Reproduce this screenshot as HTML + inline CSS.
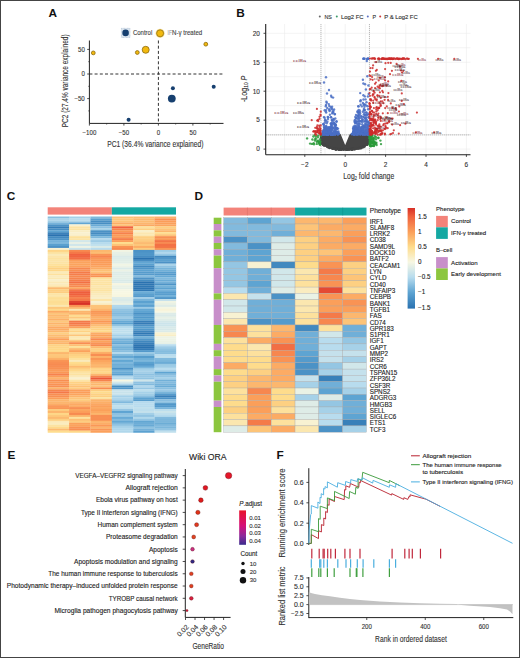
<!DOCTYPE html><html><head><meta charset="utf-8"><style>html,body{margin:0;padding:0;background:#fff;}svg{display:block;}text{font-family:"Liberation Sans",sans-serif;}</style></head><body><svg width="520" height="658" viewBox="0 0 520 658" font-family="Liberation Sans, sans-serif">
<rect x="0" y="0" width="520" height="658" fill="#fff"/>
<text x="48.60" y="16.50" font-size="11.8" fill="#111" stroke="#111" stroke-width="0" font-weight="bold" >A</text>
<text x="236.30" y="16.50" font-size="11.8" fill="#111" stroke="#111" stroke-width="0" font-weight="bold" >B</text>
<text x="6.80" y="200.00" font-size="11.8" fill="#111" stroke="#111" stroke-width="0" font-weight="bold" >C</text>
<text x="194.40" y="199.60" font-size="11.8" fill="#111" stroke="#111" stroke-width="0" font-weight="bold" >D</text>
<text x="7.40" y="458.60" font-size="11.8" fill="#111" stroke="#111" stroke-width="0" font-weight="bold" >E</text>
<text x="276.60" y="458.80" font-size="11.8" fill="#111" stroke="#111" stroke-width="0" font-weight="bold" >F</text>
<line x1="89.4" y1="40.5" x2="89.4" y2="123.4" stroke="#222" stroke-width="1"/>
<line x1="89.4" y1="123.4" x2="223.5" y2="123.4" stroke="#222" stroke-width="1"/>
<line x1="89.4" y1="74" x2="223" y2="74" stroke="#333" stroke-width="1" stroke-dasharray="3,2.2"/>
<line x1="158.4" y1="40.5" x2="158.4" y2="123.4" stroke="#333" stroke-width="1" stroke-dasharray="3,2.2"/>
<line x1="87.2" y1="49.40" x2="89.4" y2="49.40" stroke="#222" stroke-width="0.8"/>
<text x="84.80" y="51.70" font-size="6.6" fill="#333" stroke="#333" stroke-width="0.12" text-anchor="end" textLength="6.83" lengthAdjust="spacingAndGlyphs" >50</text>
<line x1="87.2" y1="74.00" x2="89.4" y2="74.00" stroke="#222" stroke-width="0.8"/>
<text x="84.80" y="76.30" font-size="6.6" fill="#333" stroke="#333" stroke-width="0.12" text-anchor="end" textLength="3.41" lengthAdjust="spacingAndGlyphs" >0</text>
<line x1="87.2" y1="98.60" x2="89.4" y2="98.60" stroke="#222" stroke-width="0.8"/>
<text x="84.80" y="100.90" font-size="6.6" fill="#333" stroke="#333" stroke-width="0.12" text-anchor="end" textLength="10.41" lengthAdjust="spacingAndGlyphs" >−50</text>
<line x1="88.2" y1="61.70" x2="89.4" y2="61.70" stroke="#222" stroke-width="0.6"/>
<line x1="88.2" y1="86.30" x2="89.4" y2="86.30" stroke="#222" stroke-width="0.6"/>
<line x1="88.2" y1="110.90" x2="89.4" y2="110.90" stroke="#222" stroke-width="0.6"/>
<line x1="89.40" y1="123.4" x2="89.40" y2="125.60000000000001" stroke="#222" stroke-width="0.8"/>
<text x="89.40" y="135.00" font-size="6.6" fill="#333" stroke="#333" stroke-width="0.12" text-anchor="middle" textLength="13.82" lengthAdjust="spacingAndGlyphs" >−100</text>
<line x1="123.90" y1="123.4" x2="123.90" y2="125.60000000000001" stroke="#222" stroke-width="0.8"/>
<text x="123.90" y="135.00" font-size="6.6" fill="#333" stroke="#333" stroke-width="0.12" text-anchor="middle" textLength="10.41" lengthAdjust="spacingAndGlyphs" >−50</text>
<line x1="158.40" y1="123.4" x2="158.40" y2="125.60000000000001" stroke="#222" stroke-width="0.8"/>
<text x="158.40" y="135.00" font-size="6.6" fill="#333" stroke="#333" stroke-width="0.12" text-anchor="middle" textLength="3.41" lengthAdjust="spacingAndGlyphs" >0</text>
<line x1="192.90" y1="123.4" x2="192.90" y2="125.60000000000001" stroke="#222" stroke-width="0.8"/>
<text x="192.90" y="135.00" font-size="6.6" fill="#333" stroke="#333" stroke-width="0.12" text-anchor="middle" textLength="6.83" lengthAdjust="spacingAndGlyphs" >50</text>
<line x1="106.65" y1="123.4" x2="106.65" y2="124.60000000000001" stroke="#222" stroke-width="0.6"/>
<line x1="141.15" y1="123.4" x2="141.15" y2="124.60000000000001" stroke="#222" stroke-width="0.6"/>
<line x1="175.65" y1="123.4" x2="175.65" y2="124.60000000000001" stroke="#222" stroke-width="0.6"/>
<line x1="210.15" y1="123.4" x2="210.15" y2="124.60000000000001" stroke="#222" stroke-width="0.6"/>
<text x="107.20" y="146.90" font-size="8.7" fill="#333" stroke="#333" stroke-width="0.12" textLength="96.20" lengthAdjust="spacingAndGlyphs" >PC1 (36.4% variance explained)</text>
<text x="0" y="0" font-size="8.7" fill="#333" stroke="#333" stroke-width="0.12" textLength="92.8" lengthAdjust="spacingAndGlyphs" transform="translate(67.5,127.2) rotate(-90)">PC2 (27.4% variance explained)</text>
<circle cx="93.3" cy="52.9" r="1.9" fill="#f2b90f" stroke="#8a6a10" stroke-width="0.8"/>
<circle cx="137.3" cy="52.5" r="1.9" fill="#f2b90f" stroke="#8a6a10" stroke-width="0.8"/>
<circle cx="145.7" cy="49.8" r="3.5" fill="#f2b90f" stroke="#8a6a10" stroke-width="0.8"/>
<circle cx="205.8" cy="44.2" r="1.9" fill="#f2b90f" stroke="#8a6a10" stroke-width="0.8"/>
<circle cx="172.9" cy="88.2" r="2.0" fill="#163f6f"/>
<circle cx="171.8" cy="98.6" r="3.9" fill="#163f6f"/>
<circle cx="213.7" cy="86.8" r="2.0" fill="#163f6f"/>
<circle cx="128.6" cy="119.7" r="2.0" fill="#163f6f"/>
<rect x="121.4" y="28.3" width="8.6" height="9.2" fill="#dce6f0" stroke="#8fa6c0" stroke-width="0.5" stroke-dasharray="0.8,0.6"/>
<circle cx="125.6" cy="32.9" r="3.3" fill="#163f6f"/>
<text x="132.90" y="35.20" font-size="6.9" fill="#444" stroke="#444" stroke-width="0.12" textLength="19.40" lengthAdjust="spacingAndGlyphs" >Control</text>
<circle cx="160.1" cy="33.3" r="4.6" fill="#f7e2a0"/>
<circle cx="160.1" cy="33.3" r="3.5" fill="#f2b90f" stroke="#9a7812" stroke-width="0.9"/>
<text x="167.50" y="35.20" font-size="6.9" fill="#a0a0a0" stroke="#a0a0a0" stroke-width="0.12" textLength="4.40" lengthAdjust="spacingAndGlyphs" >IF</text>
<text x="172.00" y="35.20" font-size="6.9" fill="#444" stroke="#444" stroke-width="0.12" textLength="30.20" lengthAdjust="spacingAndGlyphs" >N-γ treated</text>
<g stroke="#ebebeb" stroke-width="0.6">
<line x1="284.60" y1="24.0" x2="284.60" y2="154.7"/>
<line x1="304.80" y1="24.0" x2="304.80" y2="154.7"/>
<line x1="325.00" y1="24.0" x2="325.00" y2="154.7"/>
<line x1="345.20" y1="24.0" x2="345.20" y2="154.7"/>
<line x1="365.40" y1="24.0" x2="365.40" y2="154.7"/>
<line x1="385.60" y1="24.0" x2="385.60" y2="154.7"/>
<line x1="405.80" y1="24.0" x2="405.80" y2="154.7"/>
<line x1="426.00" y1="24.0" x2="426.00" y2="154.7"/>
<line x1="446.20" y1="24.0" x2="446.20" y2="154.7"/>
<line x1="466.40" y1="24.0" x2="466.40" y2="154.7"/>
<line x1="265.7" y1="149.10" x2="470.5" y2="149.10"/>
<line x1="265.7" y1="134.62" x2="470.5" y2="134.62"/>
<line x1="265.7" y1="120.15" x2="470.5" y2="120.15"/>
<line x1="265.7" y1="105.67" x2="470.5" y2="105.67"/>
<line x1="265.7" y1="91.20" x2="470.5" y2="91.20"/>
<line x1="265.7" y1="76.72" x2="470.5" y2="76.72"/>
<line x1="265.7" y1="62.25" x2="470.5" y2="62.25"/>
<line x1="265.7" y1="47.77" x2="470.5" y2="47.77"/>
<line x1="265.7" y1="33.30" x2="470.5" y2="33.30"/>
</g>
<line x1="320.96" y1="24.0" x2="320.96" y2="154.7" stroke="#888" stroke-width="0.6" stroke-dasharray="1.2,0.8"/>
<line x1="369.44" y1="24.0" x2="369.44" y2="154.7" stroke="#888" stroke-width="0.6" stroke-dasharray="1.2,0.8"/>
<line x1="265.7" y1="134.91" x2="470.5" y2="134.91" stroke="#888" stroke-width="0.6" stroke-dasharray="1.2,0.8"/>
<path d="M321.0,134.9 L321.4,134.9 L321.9,134.9 L322.4,134.9 L322.8,134.9 L323.3,134.9 L323.8,134.9 L324.2,134.9 L324.7,134.9 L325.2,134.9 L325.7,134.9 L326.1,134.9 L326.6,134.9 L327.1,134.9 L327.5,134.9 L328.0,134.9 L328.5,134.9 L328.9,134.9 L329.4,134.9 L329.9,134.9 L330.4,134.9 L330.8,134.9 L331.3,134.9 L331.8,134.9 L332.2,134.9 L332.7,134.9 L333.2,134.9 L333.6,134.9 L334.1,134.9 L334.6,134.9 L335.0,134.9 L335.5,134.9 L336.0,134.9 L336.5,134.9 L336.9,134.9 L337.4,134.9 L337.9,134.9 L338.3,134.9 L338.8,134.9 L339.3,134.9 L339.7,134.9 L345.2,148.2 L350.7,134.9 L351.1,134.9 L351.6,134.9 L352.1,134.9 L352.5,134.9 L353.0,134.9 L353.5,134.9 L353.9,134.9 L354.4,134.9 L354.9,134.9 L355.4,134.9 L355.8,134.9 L356.3,134.9 L356.8,134.9 L357.2,134.9 L357.7,134.9 L358.2,134.9 L358.6,134.9 L359.1,134.9 L359.6,134.9 L360.0,134.9 L360.5,134.9 L361.0,134.9 L361.5,134.9 L361.9,134.9 L362.4,134.9 L362.9,134.9 L363.3,134.9 L363.8,134.9 L364.3,134.9 L364.7,134.9 L365.2,134.9 L365.7,134.9 L366.2,134.9 L366.6,134.9 L367.1,134.9 L367.6,134.9 L368.0,134.9 L368.5,134.9 L369.0,134.9 L369.4,134.9 L369.4,142.3 L368.2,143.3 L367.0,144.2 L365.8,144.9 L364.6,145.6 L363.4,146.2 L362.2,146.8 L361.0,147.2 L359.7,147.6 L358.5,148.0 L357.3,148.3 L356.1,148.5 L354.9,148.7 L353.7,148.8 L352.5,148.9 L351.3,149.0 L350.0,149.0 L348.8,149.1 L347.6,149.1 L346.4,149.1 L345.2,149.1 L344.0,149.1 L342.8,149.1 L341.6,149.1 L340.4,149.0 L339.1,149.0 L337.9,148.9 L336.7,148.8 L335.5,148.7 L334.3,148.5 L333.1,148.3 L331.9,148.0 L330.7,147.6 L329.4,147.2 L328.2,146.8 L327.0,146.2 L325.8,145.6 L324.6,144.9 L323.4,144.2 L322.2,143.3 L321.0,142.3 Z" fill="#454545" stroke="#454545" stroke-width="2.4" stroke-linejoin="round"/>
<g fill="#454545" fill-opacity="0.95">
<circle cx="336.7" cy="149.0" r="1.2"/>
<circle cx="352.5" cy="149.0" r="1.2"/>
<circle cx="346.9" cy="149.5" r="1.2"/>
<circle cx="323.8" cy="145.0" r="1.2"/>
<circle cx="322.8" cy="144.2" r="1.2"/>
<circle cx="324.3" cy="144.9" r="1.2"/>
<circle cx="341.5" cy="149.7" r="1.2"/>
<circle cx="327.0" cy="146.5" r="1.2"/>
<circle cx="351.4" cy="149.7" r="1.2"/>
<circle cx="348.9" cy="149.5" r="1.2"/>
<circle cx="368.3" cy="143.3" r="1.2"/>
<circle cx="362.6" cy="146.9" r="1.2"/>
<circle cx="328.0" cy="146.8" r="1.2"/>
<circle cx="335.9" cy="149.7" r="1.2"/>
<circle cx="329.7" cy="148.0" r="1.2"/>
<circle cx="351.9" cy="149.4" r="1.2"/>
<circle cx="347.5" cy="149.2" r="1.2"/>
<circle cx="323.8" cy="144.7" r="1.2"/>
<circle cx="353.9" cy="149.3" r="1.2"/>
<circle cx="336.2" cy="149.4" r="1.2"/>
<circle cx="342.9" cy="149.4" r="1.2"/>
<circle cx="359.5" cy="148.5" r="1.2"/>
<circle cx="332.8" cy="148.9" r="1.2"/>
<circle cx="346.4" cy="149.7" r="1.2"/>
<circle cx="356.3" cy="148.8" r="1.2"/>
<circle cx="368.5" cy="143.2" r="1.2"/>
<circle cx="341.2" cy="149.7" r="1.2"/>
<circle cx="328.3" cy="147.4" r="1.2"/>
<circle cx="322.9" cy="144.6" r="1.2"/>
<circle cx="358.0" cy="148.8" r="1.2"/>
<circle cx="363.4" cy="146.6" r="1.2"/>
<circle cx="354.7" cy="149.4" r="1.2"/>
<circle cx="349.1" cy="149.6" r="1.2"/>
<circle cx="361.7" cy="148.1" r="1.2"/>
<circle cx="343.9" cy="149.7" r="1.2"/>
<circle cx="323.9" cy="145.3" r="1.2"/>
<circle cx="352.3" cy="149.7" r="1.2"/>
<circle cx="360.8" cy="147.6" r="1.2"/>
<circle cx="339.7" cy="149.7" r="1.2"/>
<circle cx="322.1" cy="143.7" r="1.2"/>
<circle cx="329.1" cy="147.3" r="1.2"/>
<circle cx="323.8" cy="145.3" r="1.2"/>
<circle cx="327.2" cy="146.6" r="1.2"/>
<circle cx="339.9" cy="149.7" r="1.2"/>
<circle cx="324.9" cy="145.6" r="1.2"/>
<circle cx="347.6" cy="149.7" r="1.2"/>
<circle cx="360.7" cy="148.3" r="1.2"/>
<circle cx="334.5" cy="149.0" r="1.2"/>
<circle cx="338.4" cy="149.7" r="1.2"/>
<circle cx="367.4" cy="144.1" r="1.2"/>
<circle cx="329.5" cy="147.5" r="1.2"/>
<circle cx="332.3" cy="148.6" r="1.2"/>
<circle cx="349.5" cy="149.4" r="1.2"/>
<circle cx="321.2" cy="143.0" r="1.2"/>
<circle cx="338.9" cy="149.6" r="1.2"/>
<circle cx="367.2" cy="144.9" r="1.2"/>
<circle cx="346.0" cy="149.7" r="1.2"/>
<circle cx="353.7" cy="148.9" r="1.2"/>
<circle cx="364.6" cy="146.5" r="1.2"/>
<circle cx="363.4" cy="147.2" r="1.2"/>
</g>
<g fill="#2a9a3a" fill-opacity="0.85">
<circle cx="373.9" cy="145.4" r="1.2"/>
<circle cx="370.6" cy="136.8" r="1.2"/>
<circle cx="369.9" cy="141.4" r="1.2"/>
<circle cx="376.0" cy="137.2" r="1.2"/>
<circle cx="370.1" cy="142.4" r="1.2"/>
<circle cx="374.1" cy="142.1" r="1.2"/>
<circle cx="381.0" cy="144.1" r="1.2"/>
<circle cx="380.4" cy="140.6" r="1.2"/>
<circle cx="370.4" cy="141.3" r="1.2"/>
<circle cx="370.0" cy="138.3" r="1.2"/>
<circle cx="370.5" cy="136.1" r="1.2"/>
<circle cx="372.7" cy="142.2" r="1.2"/>
<circle cx="370.5" cy="139.5" r="1.2"/>
<circle cx="370.3" cy="136.4" r="1.2"/>
<circle cx="369.9" cy="140.6" r="1.2"/>
<circle cx="372.3" cy="143.4" r="1.2"/>
<circle cx="374.8" cy="142.0" r="1.2"/>
<circle cx="373.3" cy="139.9" r="1.2"/>
<circle cx="370.8" cy="142.0" r="1.2"/>
<circle cx="369.8" cy="144.4" r="1.2"/>
<circle cx="376.4" cy="142.8" r="1.2"/>
<circle cx="373.4" cy="145.2" r="1.2"/>
<circle cx="372.4" cy="142.3" r="1.2"/>
<circle cx="372.0" cy="143.1" r="1.2"/>
<circle cx="369.7" cy="142.9" r="1.2"/>
<circle cx="370.4" cy="145.0" r="1.2"/>
<circle cx="374.0" cy="143.2" r="1.2"/>
<circle cx="371.3" cy="136.0" r="1.2"/>
<circle cx="374.9" cy="136.3" r="1.2"/>
<circle cx="376.6" cy="145.0" r="1.2"/>
<circle cx="370.6" cy="146.2" r="1.2"/>
<circle cx="373.6" cy="138.8" r="1.2"/>
<circle cx="371.0" cy="141.7" r="1.2"/>
<circle cx="373.4" cy="138.4" r="1.2"/>
<circle cx="370.5" cy="136.7" r="1.2"/>
<circle cx="371.0" cy="139.2" r="1.2"/>
<circle cx="370.2" cy="145.2" r="1.2"/>
<circle cx="378.3" cy="138.0" r="1.2"/>
<circle cx="374.0" cy="146.0" r="1.2"/>
<circle cx="369.6" cy="144.6" r="1.2"/>
<circle cx="370.2" cy="143.0" r="1.2"/>
<circle cx="371.2" cy="146.0" r="1.2"/>
<circle cx="370.8" cy="139.1" r="1.2"/>
<circle cx="370.2" cy="136.8" r="1.2"/>
<circle cx="372.5" cy="138.2" r="1.2"/>
<circle cx="370.5" cy="141.5" r="1.2"/>
<circle cx="373.6" cy="142.5" r="1.2"/>
<circle cx="369.4" cy="136.8" r="1.2"/>
<circle cx="374.9" cy="143.2" r="1.2"/>
<circle cx="369.6" cy="136.6" r="1.2"/>
<circle cx="372.8" cy="145.9" r="1.2"/>
<circle cx="370.5" cy="145.2" r="1.2"/>
<circle cx="375.1" cy="144.1" r="1.2"/>
<circle cx="378.4" cy="137.8" r="1.2"/>
<circle cx="369.8" cy="138.5" r="1.2"/>
<circle cx="371.3" cy="137.8" r="1.2"/>
<circle cx="375.9" cy="143.2" r="1.2"/>
<circle cx="369.8" cy="135.5" r="1.2"/>
<circle cx="371.4" cy="135.7" r="1.2"/>
<circle cx="373.7" cy="137.9" r="1.2"/>
<circle cx="375.9" cy="139.2" r="1.2"/>
<circle cx="371.6" cy="145.9" r="1.2"/>
<circle cx="373.8" cy="141.5" r="1.2"/>
<circle cx="372.0" cy="135.7" r="1.2"/>
<circle cx="369.9" cy="137.7" r="1.2"/>
<circle cx="369.6" cy="138.4" r="1.2"/>
<circle cx="375.4" cy="143.5" r="1.2"/>
<circle cx="372.3" cy="135.3" r="1.2"/>
<circle cx="373.1" cy="140.2" r="1.2"/>
<circle cx="370.5" cy="145.8" r="1.2"/>
<circle cx="371.1" cy="141.7" r="1.2"/>
<circle cx="370.3" cy="142.9" r="1.2"/>
<circle cx="370.0" cy="138.3" r="1.2"/>
<circle cx="373.5" cy="143.7" r="1.2"/>
<circle cx="370.4" cy="140.5" r="1.2"/>
<circle cx="318.0" cy="135.6" r="1.2"/>
<circle cx="318.8" cy="142.0" r="1.2"/>
<circle cx="310.1" cy="143.6" r="1.2"/>
<circle cx="316.8" cy="141.7" r="1.2"/>
<circle cx="312.4" cy="139.5" r="1.2"/>
<circle cx="313.7" cy="143.3" r="1.2"/>
<circle cx="315.4" cy="139.0" r="1.2"/>
<circle cx="317.8" cy="137.3" r="1.2"/>
<circle cx="312.0" cy="143.9" r="1.2"/>
<circle cx="319.2" cy="141.4" r="1.2"/>
<circle cx="319.8" cy="144.4" r="1.2"/>
<circle cx="319.3" cy="143.0" r="1.2"/>
<circle cx="314.9" cy="140.5" r="1.2"/>
<circle cx="320.4" cy="141.8" r="1.2"/>
<circle cx="317.8" cy="141.4" r="1.2"/>
<circle cx="320.0" cy="144.3" r="1.2"/>
<circle cx="320.9" cy="135.0" r="1.2"/>
<circle cx="314.0" cy="144.2" r="1.2"/>
<circle cx="314.6" cy="135.1" r="1.2"/>
<circle cx="316.8" cy="143.9" r="1.2"/>
<circle cx="317.6" cy="140.6" r="1.2"/>
<circle cx="319.9" cy="139.5" r="1.2"/>
<circle cx="320.9" cy="135.7" r="1.2"/>
<circle cx="315.7" cy="138.7" r="1.2"/>
<circle cx="307.1" cy="138.4" r="1.2"/>
<circle cx="319.5" cy="142.6" r="1.2"/>
<circle cx="320.2" cy="144.8" r="1.2"/>
<circle cx="313.4" cy="136.5" r="1.2"/>
<circle cx="319.2" cy="143.2" r="1.2"/>
<circle cx="315.8" cy="136.5" r="1.2"/>
</g>
<g fill="#4a6fc4" fill-opacity="0.85">
<circle cx="329.1" cy="129.9" r="1.2"/>
<circle cx="323.9" cy="125.0" r="1.2"/>
<circle cx="323.1" cy="134.2" r="1.2"/>
<circle cx="325.8" cy="133.2" r="1.2"/>
<circle cx="328.2" cy="134.4" r="1.2"/>
<circle cx="323.8" cy="130.5" r="1.2"/>
<circle cx="333.1" cy="133.3" r="1.2"/>
<circle cx="326.6" cy="130.7" r="1.2"/>
<circle cx="328.6" cy="133.6" r="1.2"/>
<circle cx="330.4" cy="128.4" r="1.2"/>
<circle cx="323.5" cy="133.9" r="1.2"/>
<circle cx="328.2" cy="131.9" r="1.2"/>
<circle cx="337.0" cy="133.2" r="1.2"/>
<circle cx="331.6" cy="133.4" r="1.2"/>
<circle cx="331.8" cy="134.6" r="1.2"/>
<circle cx="331.6" cy="97.1" r="1.2"/>
<circle cx="326.7" cy="130.4" r="1.2"/>
<circle cx="325.0" cy="120.4" r="1.2"/>
<circle cx="331.7" cy="120.1" r="1.2"/>
<circle cx="328.0" cy="132.4" r="1.2"/>
<circle cx="326.1" cy="127.7" r="1.2"/>
<circle cx="328.4" cy="134.6" r="1.2"/>
<circle cx="322.5" cy="131.7" r="1.2"/>
<circle cx="326.7" cy="123.3" r="1.2"/>
<circle cx="326.0" cy="132.4" r="1.2"/>
<circle cx="325.5" cy="132.7" r="1.2"/>
<circle cx="333.3" cy="112.2" r="1.2"/>
<circle cx="337.2" cy="128.5" r="1.2"/>
<circle cx="333.8" cy="119.1" r="1.2"/>
<circle cx="323.5" cy="124.3" r="1.2"/>
<circle cx="335.6" cy="128.5" r="1.2"/>
<circle cx="325.2" cy="119.6" r="1.2"/>
<circle cx="328.0" cy="119.0" r="1.2"/>
<circle cx="329.3" cy="106.0" r="1.2"/>
<circle cx="335.1" cy="133.1" r="1.2"/>
<circle cx="324.3" cy="133.3" r="1.2"/>
<circle cx="324.6" cy="117.7" r="1.2"/>
<circle cx="328.3" cy="127.1" r="1.2"/>
<circle cx="324.4" cy="134.8" r="1.2"/>
<circle cx="331.5" cy="108.2" r="1.2"/>
<circle cx="329.9" cy="114.7" r="1.2"/>
<circle cx="337.0" cy="132.6" r="1.2"/>
<circle cx="326.5" cy="131.5" r="1.2"/>
<circle cx="326.3" cy="126.2" r="1.2"/>
<circle cx="326.7" cy="129.6" r="1.2"/>
<circle cx="328.4" cy="128.9" r="1.2"/>
<circle cx="332.6" cy="111.8" r="1.2"/>
<circle cx="329.6" cy="110.3" r="1.2"/>
<circle cx="331.1" cy="127.4" r="1.2"/>
<circle cx="331.5" cy="134.7" r="1.2"/>
<circle cx="330.0" cy="132.9" r="1.2"/>
<circle cx="325.1" cy="128.6" r="1.2"/>
<circle cx="335.2" cy="126.9" r="1.2"/>
<circle cx="327.9" cy="127.7" r="1.2"/>
<circle cx="332.1" cy="119.8" r="1.2"/>
<circle cx="323.9" cy="126.8" r="1.2"/>
<circle cx="326.5" cy="131.7" r="1.2"/>
<circle cx="336.0" cy="127.9" r="1.2"/>
<circle cx="332.2" cy="120.9" r="1.2"/>
<circle cx="333.1" cy="128.0" r="1.2"/>
<circle cx="331.3" cy="123.3" r="1.2"/>
<circle cx="330.2" cy="127.4" r="1.2"/>
<circle cx="330.7" cy="107.0" r="1.2"/>
<circle cx="334.7" cy="114.3" r="1.2"/>
<circle cx="332.1" cy="106.7" r="1.2"/>
<circle cx="337.2" cy="133.5" r="1.2"/>
<circle cx="324.2" cy="129.2" r="1.2"/>
<circle cx="323.3" cy="132.2" r="1.2"/>
<circle cx="323.3" cy="124.0" r="1.2"/>
<circle cx="324.8" cy="122.5" r="1.2"/>
<circle cx="334.0" cy="133.4" r="1.2"/>
<circle cx="326.0" cy="104.9" r="1.2"/>
<circle cx="329.2" cy="128.3" r="1.2"/>
<circle cx="324.9" cy="129.4" r="1.2"/>
<circle cx="331.3" cy="130.8" r="1.2"/>
<circle cx="325.5" cy="131.1" r="1.2"/>
<circle cx="335.1" cy="134.7" r="1.2"/>
<circle cx="332.0" cy="129.2" r="1.2"/>
<circle cx="333.3" cy="127.8" r="1.2"/>
<circle cx="323.9" cy="131.9" r="1.2"/>
<circle cx="326.9" cy="133.5" r="1.2"/>
<circle cx="329.6" cy="111.1" r="1.2"/>
<circle cx="336.9" cy="132.0" r="1.2"/>
<circle cx="324.7" cy="110.2" r="1.2"/>
<circle cx="332.3" cy="123.1" r="1.2"/>
<circle cx="323.6" cy="134.3" r="1.2"/>
<circle cx="334.5" cy="129.5" r="1.2"/>
<circle cx="333.5" cy="119.0" r="1.2"/>
<circle cx="330.2" cy="130.8" r="1.2"/>
<circle cx="332.0" cy="109.2" r="1.2"/>
<circle cx="326.8" cy="133.6" r="1.2"/>
<circle cx="331.5" cy="132.2" r="1.2"/>
<circle cx="324.0" cy="133.2" r="1.2"/>
<circle cx="322.9" cy="132.7" r="1.2"/>
<circle cx="327.6" cy="131.3" r="1.2"/>
<circle cx="335.8" cy="131.5" r="1.2"/>
<circle cx="331.1" cy="133.0" r="1.2"/>
<circle cx="328.3" cy="134.7" r="1.2"/>
<circle cx="326.5" cy="134.8" r="1.2"/>
<circle cx="335.3" cy="127.0" r="1.2"/>
<circle cx="325.4" cy="128.6" r="1.2"/>
<circle cx="339.0" cy="133.8" r="1.2"/>
<circle cx="336.9" cy="129.3" r="1.2"/>
<circle cx="331.0" cy="117.2" r="1.2"/>
<circle cx="329.1" cy="128.0" r="1.2"/>
<circle cx="328.2" cy="117.3" r="1.2"/>
<circle cx="334.8" cy="125.0" r="1.2"/>
<circle cx="329.3" cy="130.7" r="1.2"/>
<circle cx="323.0" cy="133.5" r="1.2"/>
<circle cx="326.6" cy="133.2" r="1.2"/>
<circle cx="327.1" cy="132.2" r="1.2"/>
<circle cx="327.3" cy="128.9" r="1.2"/>
<circle cx="324.8" cy="129.1" r="1.2"/>
<circle cx="326.8" cy="102.8" r="1.2"/>
<circle cx="326.4" cy="101.7" r="1.2"/>
<circle cx="327.6" cy="130.6" r="1.2"/>
<circle cx="330.6" cy="128.0" r="1.2"/>
<circle cx="325.6" cy="128.0" r="1.2"/>
<circle cx="323.6" cy="129.9" r="1.2"/>
<circle cx="322.7" cy="134.7" r="1.2"/>
<circle cx="327.5" cy="132.3" r="1.2"/>
<circle cx="332.6" cy="127.5" r="1.2"/>
<circle cx="335.6" cy="124.4" r="1.2"/>
<circle cx="335.0" cy="114.1" r="1.2"/>
<circle cx="329.1" cy="131.0" r="1.2"/>
<circle cx="335.1" cy="124.8" r="1.2"/>
<circle cx="335.3" cy="118.5" r="1.2"/>
<circle cx="324.5" cy="127.6" r="1.2"/>
<circle cx="331.1" cy="117.2" r="1.2"/>
<circle cx="332.6" cy="112.9" r="1.2"/>
<circle cx="334.4" cy="123.3" r="1.2"/>
<circle cx="326.2" cy="134.6" r="1.2"/>
<circle cx="324.4" cy="130.5" r="1.2"/>
<circle cx="323.9" cy="117.1" r="1.2"/>
<circle cx="332.1" cy="125.2" r="1.2"/>
<circle cx="333.4" cy="123.7" r="1.2"/>
<circle cx="330.9" cy="134.9" r="1.2"/>
<circle cx="336.5" cy="121.3" r="1.2"/>
<circle cx="331.1" cy="127.4" r="1.2"/>
<circle cx="334.0" cy="134.2" r="1.2"/>
<circle cx="335.4" cy="132.1" r="1.2"/>
<circle cx="323.3" cy="131.9" r="1.2"/>
<circle cx="335.2" cy="132.7" r="1.2"/>
<circle cx="330.9" cy="130.2" r="1.2"/>
<circle cx="330.7" cy="123.6" r="1.2"/>
<circle cx="335.9" cy="125.5" r="1.2"/>
<circle cx="333.7" cy="134.1" r="1.2"/>
<circle cx="324.7" cy="132.0" r="1.2"/>
<circle cx="335.5" cy="131.3" r="1.2"/>
<circle cx="332.3" cy="134.8" r="1.2"/>
<circle cx="323.1" cy="131.8" r="1.2"/>
<circle cx="334.2" cy="123.3" r="1.2"/>
<circle cx="334.3" cy="131.5" r="1.2"/>
<circle cx="331.4" cy="128.8" r="1.2"/>
<circle cx="330.4" cy="133.7" r="1.2"/>
<circle cx="338.2" cy="132.7" r="1.2"/>
<circle cx="330.1" cy="131.8" r="1.2"/>
<circle cx="325.8" cy="106.3" r="1.2"/>
<circle cx="325.8" cy="126.3" r="1.2"/>
<circle cx="324.5" cy="127.6" r="1.2"/>
<circle cx="336.9" cy="127.9" r="1.2"/>
<circle cx="326.2" cy="112.5" r="1.2"/>
<circle cx="330.8" cy="134.7" r="1.2"/>
<circle cx="330.2" cy="131.4" r="1.2"/>
<circle cx="324.5" cy="130.8" r="1.2"/>
<circle cx="327.7" cy="116.9" r="1.2"/>
<circle cx="337.2" cy="133.7" r="1.2"/>
<circle cx="338.4" cy="131.5" r="1.2"/>
<circle cx="328.7" cy="130.0" r="1.2"/>
<circle cx="328.5" cy="129.4" r="1.2"/>
<circle cx="327.0" cy="134.4" r="1.2"/>
<circle cx="327.2" cy="107.9" r="1.2"/>
<circle cx="326.5" cy="131.9" r="1.2"/>
<circle cx="331.3" cy="132.8" r="1.2"/>
<circle cx="328.8" cy="104.1" r="1.2"/>
<circle cx="333.4" cy="110.8" r="1.2"/>
<circle cx="335.1" cy="134.4" r="1.2"/>
<circle cx="335.3" cy="129.0" r="1.2"/>
<circle cx="335.7" cy="124.7" r="1.2"/>
<circle cx="327.2" cy="134.4" r="1.2"/>
<circle cx="338.8" cy="133.6" r="1.2"/>
<circle cx="330.6" cy="130.8" r="1.2"/>
<circle cx="327.4" cy="121.7" r="1.2"/>
<circle cx="333.9" cy="131.4" r="1.2"/>
<circle cx="332.1" cy="130.0" r="1.2"/>
<circle cx="325.0" cy="133.2" r="1.2"/>
<circle cx="325.7" cy="111.6" r="1.2"/>
<circle cx="331.0" cy="132.5" r="1.2"/>
<circle cx="330.2" cy="133.4" r="1.2"/>
<circle cx="325.5" cy="134.0" r="1.2"/>
<circle cx="328.2" cy="134.0" r="1.2"/>
<circle cx="326.3" cy="132.0" r="1.2"/>
<circle cx="332.3" cy="113.4" r="1.2"/>
<circle cx="335.6" cy="129.7" r="1.2"/>
<circle cx="329.5" cy="127.6" r="1.2"/>
<circle cx="328.8" cy="130.9" r="1.2"/>
<circle cx="323.1" cy="131.7" r="1.2"/>
<circle cx="331.1" cy="125.1" r="1.2"/>
<circle cx="337.7" cy="132.5" r="1.2"/>
<circle cx="326.9" cy="132.1" r="1.2"/>
<circle cx="329.2" cy="129.1" r="1.2"/>
<circle cx="337.8" cy="134.7" r="1.2"/>
<circle cx="332.6" cy="134.9" r="1.2"/>
<circle cx="329.1" cy="109.2" r="1.2"/>
<circle cx="324.0" cy="133.3" r="1.2"/>
<circle cx="331.5" cy="123.6" r="1.2"/>
<circle cx="333.7" cy="120.7" r="1.2"/>
<circle cx="330.3" cy="127.0" r="1.2"/>
<circle cx="326.2" cy="110.1" r="1.2"/>
<circle cx="333.7" cy="131.4" r="1.2"/>
<circle cx="324.3" cy="132.1" r="1.2"/>
<circle cx="333.5" cy="123.1" r="1.2"/>
<circle cx="324.0" cy="134.2" r="1.2"/>
<circle cx="331.5" cy="126.3" r="1.2"/>
<circle cx="329.0" cy="132.4" r="1.2"/>
<circle cx="332.9" cy="134.8" r="1.2"/>
<circle cx="327.5" cy="128.8" r="1.2"/>
<circle cx="338.0" cy="128.6" r="1.2"/>
<circle cx="326.2" cy="132.1" r="1.2"/>
<circle cx="327.6" cy="134.7" r="1.2"/>
<circle cx="331.0" cy="123.9" r="1.2"/>
<circle cx="329.6" cy="132.0" r="1.2"/>
<circle cx="334.1" cy="109.4" r="1.2"/>
<circle cx="326.1" cy="134.6" r="1.2"/>
<circle cx="328.1" cy="129.5" r="1.2"/>
<circle cx="334.4" cy="132.7" r="1.2"/>
<circle cx="336.5" cy="121.7" r="1.2"/>
<circle cx="331.1" cy="132.7" r="1.2"/>
<circle cx="336.9" cy="132.3" r="1.2"/>
<circle cx="326.0" cy="120.8" r="1.2"/>
<circle cx="324.0" cy="82.5" r="1.2"/>
<circle cx="326.0" cy="77.3" r="1.2"/>
<circle cx="329.0" cy="90.0" r="1.2"/>
<circle cx="327.0" cy="93.5" r="1.2"/>
<circle cx="331.1" cy="95.8" r="1.2"/>
<circle cx="333.1" cy="97.6" r="1.2"/>
<circle cx="360.3" cy="132.2" r="1.2"/>
<circle cx="355.3" cy="127.7" r="1.2"/>
<circle cx="363.4" cy="95.3" r="1.2"/>
<circle cx="353.9" cy="128.3" r="1.2"/>
<circle cx="353.8" cy="134.2" r="1.2"/>
<circle cx="367.6" cy="106.3" r="1.2"/>
<circle cx="368.2" cy="129.6" r="1.2"/>
<circle cx="364.8" cy="134.5" r="1.2"/>
<circle cx="363.3" cy="128.6" r="1.2"/>
<circle cx="358.1" cy="129.5" r="1.2"/>
<circle cx="354.3" cy="134.9" r="1.2"/>
<circle cx="356.3" cy="129.1" r="1.2"/>
<circle cx="368.6" cy="133.2" r="1.2"/>
<circle cx="368.8" cy="131.8" r="1.2"/>
<circle cx="357.7" cy="112.0" r="1.2"/>
<circle cx="366.2" cy="127.4" r="1.2"/>
<circle cx="354.8" cy="128.9" r="1.2"/>
<circle cx="367.6" cy="134.5" r="1.2"/>
<circle cx="358.7" cy="112.7" r="1.2"/>
<circle cx="365.2" cy="134.4" r="1.2"/>
<circle cx="351.9" cy="134.1" r="1.2"/>
<circle cx="368.0" cy="131.0" r="1.2"/>
<circle cx="364.8" cy="104.4" r="1.2"/>
<circle cx="357.4" cy="130.7" r="1.2"/>
<circle cx="368.7" cy="122.1" r="1.2"/>
<circle cx="356.0" cy="118.1" r="1.2"/>
<circle cx="357.0" cy="130.6" r="1.2"/>
<circle cx="367.9" cy="121.5" r="1.2"/>
<circle cx="368.4" cy="134.6" r="1.2"/>
<circle cx="355.5" cy="126.3" r="1.2"/>
<circle cx="368.7" cy="93.9" r="1.2"/>
<circle cx="358.3" cy="131.1" r="1.2"/>
<circle cx="359.1" cy="125.9" r="1.2"/>
<circle cx="368.1" cy="132.2" r="1.2"/>
<circle cx="365.9" cy="117.1" r="1.2"/>
<circle cx="366.2" cy="115.2" r="1.2"/>
<circle cx="362.3" cy="129.6" r="1.2"/>
<circle cx="357.1" cy="128.9" r="1.2"/>
<circle cx="365.5" cy="133.8" r="1.2"/>
<circle cx="355.8" cy="134.0" r="1.2"/>
<circle cx="367.3" cy="76.2" r="1.2"/>
<circle cx="356.1" cy="133.7" r="1.2"/>
<circle cx="364.2" cy="127.0" r="1.2"/>
<circle cx="355.5" cy="127.7" r="1.2"/>
<circle cx="362.5" cy="120.0" r="1.2"/>
<circle cx="364.9" cy="109.9" r="1.2"/>
<circle cx="363.3" cy="133.2" r="1.2"/>
<circle cx="366.5" cy="130.3" r="1.2"/>
<circle cx="361.6" cy="128.7" r="1.2"/>
<circle cx="364.7" cy="132.0" r="1.2"/>
<circle cx="355.8" cy="131.2" r="1.2"/>
<circle cx="361.8" cy="129.7" r="1.2"/>
<circle cx="360.5" cy="131.4" r="1.2"/>
<circle cx="366.0" cy="120.8" r="1.2"/>
<circle cx="369.3" cy="133.5" r="1.2"/>
<circle cx="359.9" cy="112.1" r="1.2"/>
<circle cx="366.5" cy="102.2" r="1.2"/>
<circle cx="353.4" cy="132.1" r="1.2"/>
<circle cx="368.9" cy="123.3" r="1.2"/>
<circle cx="368.2" cy="128.7" r="1.2"/>
<circle cx="367.0" cy="127.0" r="1.2"/>
<circle cx="356.0" cy="114.9" r="1.2"/>
<circle cx="368.5" cy="133.4" r="1.2"/>
<circle cx="362.1" cy="122.0" r="1.2"/>
<circle cx="355.2" cy="128.8" r="1.2"/>
<circle cx="353.8" cy="131.9" r="1.2"/>
<circle cx="355.9" cy="122.7" r="1.2"/>
<circle cx="363.1" cy="131.9" r="1.2"/>
<circle cx="363.6" cy="132.2" r="1.2"/>
<circle cx="356.9" cy="131.9" r="1.2"/>
<circle cx="365.7" cy="124.3" r="1.2"/>
<circle cx="352.4" cy="133.5" r="1.2"/>
<circle cx="358.4" cy="124.3" r="1.2"/>
<circle cx="362.9" cy="133.6" r="1.2"/>
<circle cx="358.7" cy="130.5" r="1.2"/>
<circle cx="356.9" cy="123.8" r="1.2"/>
<circle cx="357.8" cy="127.7" r="1.2"/>
<circle cx="367.0" cy="59.1" r="1.2"/>
<circle cx="357.9" cy="132.0" r="1.2"/>
<circle cx="364.5" cy="131.9" r="1.2"/>
<circle cx="359.0" cy="112.1" r="1.2"/>
<circle cx="358.6" cy="106.4" r="1.2"/>
<circle cx="359.6" cy="132.6" r="1.2"/>
<circle cx="362.9" cy="102.9" r="1.2"/>
<circle cx="358.0" cy="125.6" r="1.2"/>
<circle cx="353.9" cy="130.5" r="1.2"/>
<circle cx="360.7" cy="100.3" r="1.2"/>
<circle cx="365.9" cy="89.5" r="1.2"/>
<circle cx="354.8" cy="133.1" r="1.2"/>
<circle cx="368.4" cy="85.5" r="1.2"/>
<circle cx="360.0" cy="134.2" r="1.2"/>
<circle cx="368.1" cy="128.4" r="1.2"/>
<circle cx="367.7" cy="122.0" r="1.2"/>
<circle cx="366.3" cy="132.6" r="1.2"/>
<circle cx="365.5" cy="131.6" r="1.2"/>
<circle cx="358.6" cy="110.0" r="1.2"/>
<circle cx="366.3" cy="132.2" r="1.2"/>
<circle cx="355.2" cy="128.1" r="1.2"/>
<circle cx="360.7" cy="128.5" r="1.2"/>
<circle cx="353.5" cy="131.1" r="1.2"/>
<circle cx="364.4" cy="104.6" r="1.2"/>
<circle cx="365.0" cy="134.4" r="1.2"/>
<circle cx="366.5" cy="133.2" r="1.2"/>
<circle cx="362.2" cy="124.3" r="1.2"/>
<circle cx="362.7" cy="130.0" r="1.2"/>
<circle cx="358.9" cy="123.3" r="1.2"/>
<circle cx="359.0" cy="120.6" r="1.2"/>
<circle cx="359.4" cy="127.2" r="1.2"/>
<circle cx="360.2" cy="131.3" r="1.2"/>
<circle cx="365.1" cy="114.8" r="1.2"/>
<circle cx="359.6" cy="132.3" r="1.2"/>
<circle cx="359.9" cy="133.4" r="1.2"/>
<circle cx="353.6" cy="127.4" r="1.2"/>
<circle cx="360.5" cy="134.4" r="1.2"/>
<circle cx="362.8" cy="133.8" r="1.2"/>
<circle cx="364.6" cy="114.9" r="1.2"/>
<circle cx="360.6" cy="134.2" r="1.2"/>
<circle cx="360.4" cy="128.6" r="1.2"/>
<circle cx="368.5" cy="133.0" r="1.2"/>
<circle cx="366.8" cy="61.0" r="1.2"/>
<circle cx="364.6" cy="112.4" r="1.2"/>
<circle cx="360.2" cy="93.1" r="1.2"/>
<circle cx="367.9" cy="132.5" r="1.2"/>
<circle cx="365.6" cy="99.4" r="1.2"/>
<circle cx="365.0" cy="132.6" r="1.2"/>
<circle cx="367.6" cy="130.6" r="1.2"/>
<circle cx="366.1" cy="132.9" r="1.2"/>
<circle cx="360.4" cy="101.3" r="1.2"/>
<circle cx="355.0" cy="130.9" r="1.2"/>
<circle cx="360.5" cy="129.8" r="1.2"/>
<circle cx="363.6" cy="104.8" r="1.2"/>
<circle cx="362.8" cy="129.0" r="1.2"/>
<circle cx="367.1" cy="124.1" r="1.2"/>
<circle cx="361.8" cy="106.4" r="1.2"/>
<circle cx="362.7" cy="128.2" r="1.2"/>
<circle cx="365.8" cy="130.8" r="1.2"/>
<circle cx="369.3" cy="123.4" r="1.2"/>
<circle cx="357.8" cy="115.6" r="1.2"/>
<circle cx="359.3" cy="132.3" r="1.2"/>
<circle cx="364.8" cy="134.3" r="1.2"/>
<circle cx="366.2" cy="131.0" r="1.2"/>
<circle cx="362.9" cy="79.8" r="1.2"/>
<circle cx="361.9" cy="120.4" r="1.2"/>
<circle cx="356.9" cy="134.9" r="1.2"/>
<circle cx="362.5" cy="127.4" r="1.2"/>
<circle cx="360.6" cy="104.8" r="1.2"/>
<circle cx="353.7" cy="131.5" r="1.2"/>
<circle cx="363.1" cy="134.6" r="1.2"/>
<circle cx="353.2" cy="129.0" r="1.2"/>
<circle cx="355.3" cy="123.2" r="1.2"/>
<circle cx="362.0" cy="131.9" r="1.2"/>
<circle cx="362.6" cy="126.3" r="1.2"/>
<circle cx="355.7" cy="132.8" r="1.2"/>
<circle cx="367.1" cy="114.6" r="1.2"/>
<circle cx="358.6" cy="130.8" r="1.2"/>
<circle cx="361.5" cy="129.2" r="1.2"/>
<circle cx="363.0" cy="127.1" r="1.2"/>
<circle cx="368.3" cy="117.3" r="1.2"/>
<circle cx="358.6" cy="131.3" r="1.2"/>
<circle cx="368.4" cy="132.9" r="1.2"/>
<circle cx="354.9" cy="122.4" r="1.2"/>
<circle cx="360.5" cy="121.3" r="1.2"/>
<circle cx="366.0" cy="132.4" r="1.2"/>
<circle cx="356.9" cy="130.2" r="1.2"/>
<circle cx="365.5" cy="118.2" r="1.2"/>
<circle cx="364.8" cy="126.6" r="1.2"/>
<circle cx="364.7" cy="126.9" r="1.2"/>
<circle cx="355.4" cy="133.4" r="1.2"/>
<circle cx="355.5" cy="134.4" r="1.2"/>
<circle cx="357.4" cy="116.5" r="1.2"/>
<circle cx="363.9" cy="110.1" r="1.2"/>
<circle cx="364.2" cy="130.8" r="1.2"/>
<circle cx="361.3" cy="127.3" r="1.2"/>
<circle cx="365.6" cy="125.0" r="1.2"/>
<circle cx="356.1" cy="121.2" r="1.2"/>
<circle cx="368.8" cy="131.7" r="1.2"/>
<circle cx="367.3" cy="134.7" r="1.2"/>
<circle cx="356.0" cy="131.3" r="1.2"/>
<circle cx="364.8" cy="96.4" r="1.2"/>
<circle cx="364.8" cy="129.6" r="1.2"/>
<circle cx="367.3" cy="129.6" r="1.2"/>
<circle cx="362.7" cy="119.2" r="1.2"/>
<circle cx="363.4" cy="83.5" r="1.2"/>
<circle cx="359.8" cy="110.5" r="1.2"/>
<circle cx="363.9" cy="109.0" r="1.2"/>
<circle cx="359.2" cy="117.7" r="1.2"/>
<circle cx="361.6" cy="130.0" r="1.2"/>
<circle cx="355.1" cy="121.9" r="1.2"/>
<circle cx="353.9" cy="134.6" r="1.2"/>
<circle cx="357.5" cy="132.9" r="1.2"/>
<circle cx="351.8" cy="134.3" r="1.2"/>
<circle cx="363.9" cy="121.5" r="1.2"/>
<circle cx="363.9" cy="117.1" r="1.2"/>
<circle cx="357.9" cy="112.3" r="1.2"/>
<circle cx="366.2" cy="105.4" r="1.2"/>
<circle cx="367.9" cy="96.5" r="1.2"/>
<circle cx="353.2" cy="131.8" r="1.2"/>
<circle cx="353.3" cy="134.4" r="1.2"/>
<circle cx="366.7" cy="112.7" r="1.2"/>
<circle cx="362.8" cy="111.7" r="1.2"/>
<circle cx="362.7" cy="130.4" r="1.2"/>
<circle cx="353.1" cy="133.5" r="1.2"/>
<circle cx="365.0" cy="131.9" r="1.2"/>
<circle cx="357.1" cy="127.6" r="1.2"/>
<circle cx="356.4" cy="118.2" r="1.2"/>
<circle cx="358.0" cy="129.8" r="1.2"/>
<circle cx="368.8" cy="125.6" r="1.2"/>
<circle cx="366.7" cy="122.1" r="1.2"/>
<circle cx="359.2" cy="115.2" r="1.2"/>
<circle cx="357.6" cy="118.7" r="1.2"/>
<circle cx="361.0" cy="131.7" r="1.2"/>
<circle cx="366.9" cy="133.6" r="1.2"/>
<circle cx="366.2" cy="132.4" r="1.2"/>
<circle cx="365.1" cy="84.2" r="1.2"/>
<circle cx="360.2" cy="113.7" r="1.2"/>
<circle cx="354.6" cy="125.8" r="1.2"/>
<circle cx="357.6" cy="111.2" r="1.2"/>
<circle cx="356.4" cy="131.7" r="1.2"/>
<circle cx="364.0" cy="125.7" r="1.2"/>
<circle cx="363.9" cy="114.3" r="1.2"/>
<circle cx="362.7" cy="129.1" r="1.2"/>
<circle cx="358.6" cy="128.2" r="1.2"/>
<circle cx="367.4" cy="133.7" r="1.2"/>
<circle cx="367.4" cy="134.6" r="1.2"/>
<circle cx="355.0" cy="130.8" r="1.2"/>
<circle cx="367.6" cy="125.7" r="1.2"/>
<circle cx="358.2" cy="106.2" r="1.2"/>
<circle cx="355.5" cy="126.7" r="1.2"/>
<circle cx="360.9" cy="116.2" r="1.2"/>
<circle cx="364.9" cy="121.1" r="1.2"/>
<circle cx="357.6" cy="129.6" r="1.2"/>
<circle cx="363.3" cy="116.9" r="1.2"/>
<circle cx="354.3" cy="127.2" r="1.2"/>
<circle cx="365.3" cy="123.4" r="1.2"/>
<circle cx="353.6" cy="126.7" r="1.2"/>
<circle cx="367.4" cy="131.3" r="1.2"/>
<circle cx="354.7" cy="130.1" r="1.2"/>
<circle cx="364.0" cy="110.2" r="1.2"/>
<circle cx="354.1" cy="132.7" r="1.2"/>
<circle cx="355.8" cy="129.6" r="1.2"/>
<circle cx="360.8" cy="132.6" r="1.2"/>
<circle cx="357.2" cy="132.1" r="1.2"/>
<circle cx="369.0" cy="117.5" r="1.2"/>
<circle cx="353.1" cy="128.5" r="1.2"/>
<circle cx="369.1" cy="113.8" r="1.2"/>
<circle cx="364.6" cy="127.3" r="1.2"/>
<circle cx="354.8" cy="121.4" r="1.2"/>
<circle cx="353.2" cy="131.8" r="1.2"/>
<circle cx="358.3" cy="134.5" r="1.2"/>
<circle cx="358.5" cy="114.1" r="1.2"/>
<circle cx="363.9" cy="125.7" r="1.2"/>
<circle cx="362.8" cy="126.6" r="1.2"/>
<circle cx="358.6" cy="116.9" r="1.2"/>
<circle cx="367.8" cy="127.4" r="1.2"/>
<circle cx="361.7" cy="116.5" r="1.2"/>
<circle cx="358.9" cy="131.5" r="1.2"/>
<circle cx="364.4" cy="106.7" r="1.2"/>
<circle cx="365.3" cy="118.9" r="1.2"/>
<circle cx="366.8" cy="119.8" r="1.2"/>
<circle cx="362.9" cy="126.9" r="1.2"/>
<circle cx="357.0" cy="121.7" r="1.2"/>
<circle cx="365.5" cy="118.3" r="1.2"/>
<circle cx="362.7" cy="131.1" r="1.2"/>
<circle cx="359.0" cy="126.8" r="1.2"/>
<circle cx="362.6" cy="127.9" r="1.2"/>
<circle cx="363.5" cy="99.5" r="1.2"/>
<circle cx="354.6" cy="120.8" r="1.2"/>
<circle cx="365.4" cy="128.4" r="1.2"/>
<circle cx="368.4" cy="125.2" r="1.2"/>
<circle cx="361.1" cy="118.1" r="1.2"/>
<circle cx="360.6" cy="121.3" r="1.2"/>
<circle cx="366.3" cy="125.1" r="1.2"/>
<circle cx="355.1" cy="119.6" r="1.2"/>
<circle cx="358.4" cy="115.8" r="1.2"/>
<circle cx="357.7" cy="134.1" r="1.2"/>
<circle cx="356.2" cy="128.1" r="1.2"/>
<circle cx="358.9" cy="119.0" r="1.2"/>
<circle cx="357.7" cy="130.8" r="1.2"/>
<circle cx="355.3" cy="116.9" r="1.2"/>
<circle cx="368.3" cy="124.9" r="1.2"/>
<circle cx="358.4" cy="131.7" r="1.2"/>
<circle cx="366.0" cy="121.5" r="1.2"/>
<circle cx="359.8" cy="123.9" r="1.2"/>
<circle cx="357.7" cy="121.4" r="1.2"/>
<circle cx="366.1" cy="112.4" r="1.2"/>
<circle cx="359.8" cy="130.3" r="1.2"/>
<circle cx="361.2" cy="133.1" r="1.2"/>
<circle cx="366.4" cy="129.1" r="1.2"/>
<circle cx="366.7" cy="130.8" r="1.2"/>
<circle cx="358.1" cy="131.0" r="1.2"/>
<circle cx="359.0" cy="132.2" r="1.2"/>
<circle cx="356.4" cy="131.2" r="1.2"/>
<circle cx="356.7" cy="126.2" r="1.2"/>
<circle cx="359.1" cy="121.4" r="1.2"/>
<circle cx="363.2" cy="128.9" r="1.2"/>
<circle cx="368.1" cy="109.2" r="1.2"/>
<circle cx="367.7" cy="114.5" r="1.2"/>
<circle cx="362.8" cy="134.7" r="1.2"/>
<circle cx="363.2" cy="131.1" r="1.2"/>
<circle cx="353.1" cy="132.9" r="1.2"/>
<circle cx="363.9" cy="58.8" r="1.2"/>
<circle cx="367.5" cy="58.8" r="1.2"/>
<circle cx="364.7" cy="58.8" r="1.2"/>
<circle cx="363.4" cy="58.8" r="1.2"/>
<circle cx="368.4" cy="58.8" r="1.2"/>
<circle cx="367.6" cy="58.8" r="1.2"/>
<circle cx="363.5" cy="58.8" r="1.2"/>
<circle cx="368.3" cy="58.8" r="1.2"/>
</g>
<g fill="#cc2a2a" fill-opacity="0.85">
<circle cx="378.0" cy="108.5" r="1.1"/>
<circle cx="379.5" cy="95.9" r="1.1"/>
<circle cx="383.5" cy="103.2" r="1.1"/>
<circle cx="371.4" cy="114.4" r="1.1"/>
<circle cx="376.3" cy="111.4" r="1.1"/>
<circle cx="374.7" cy="97.7" r="1.1"/>
<circle cx="376.8" cy="129.6" r="1.1"/>
<circle cx="371.9" cy="132.3" r="1.1"/>
<circle cx="375.6" cy="133.9" r="1.1"/>
<circle cx="375.2" cy="132.2" r="1.1"/>
<circle cx="375.6" cy="122.9" r="1.1"/>
<circle cx="376.5" cy="100.4" r="1.1"/>
<circle cx="369.5" cy="103.0" r="1.1"/>
<circle cx="375.2" cy="120.6" r="1.1"/>
<circle cx="379.4" cy="103.0" r="1.1"/>
<circle cx="373.7" cy="125.5" r="1.1"/>
<circle cx="398.8" cy="133.6" r="1.1"/>
<circle cx="378.7" cy="117.4" r="1.1"/>
<circle cx="369.7" cy="118.6" r="1.1"/>
<circle cx="379.9" cy="88.3" r="1.1"/>
<circle cx="373.1" cy="65.4" r="1.1"/>
<circle cx="375.9" cy="123.4" r="1.1"/>
<circle cx="390.2" cy="134.3" r="1.1"/>
<circle cx="381.0" cy="117.9" r="1.1"/>
<circle cx="373.2" cy="100.6" r="1.1"/>
<circle cx="373.6" cy="123.7" r="1.1"/>
<circle cx="376.2" cy="109.3" r="1.1"/>
<circle cx="371.6" cy="125.0" r="1.1"/>
<circle cx="374.4" cy="120.9" r="1.1"/>
<circle cx="385.4" cy="128.9" r="1.1"/>
<circle cx="385.4" cy="125.9" r="1.1"/>
<circle cx="375.8" cy="129.4" r="1.1"/>
<circle cx="375.9" cy="70.8" r="1.1"/>
<circle cx="379.1" cy="107.6" r="1.1"/>
<circle cx="373.1" cy="128.3" r="1.1"/>
<circle cx="372.7" cy="119.6" r="1.1"/>
<circle cx="378.6" cy="108.3" r="1.1"/>
<circle cx="369.8" cy="112.6" r="1.1"/>
<circle cx="389.1" cy="121.2" r="1.1"/>
<circle cx="369.9" cy="128.7" r="1.1"/>
<circle cx="369.5" cy="131.3" r="1.1"/>
<circle cx="392.6" cy="118.6" r="1.1"/>
<circle cx="379.2" cy="107.9" r="1.1"/>
<circle cx="391.3" cy="118.5" r="1.1"/>
<circle cx="378.2" cy="117.8" r="1.1"/>
<circle cx="380.3" cy="119.2" r="1.1"/>
<circle cx="379.8" cy="130.8" r="1.1"/>
<circle cx="379.4" cy="124.3" r="1.1"/>
<circle cx="382.5" cy="133.1" r="1.1"/>
<circle cx="371.3" cy="134.3" r="1.1"/>
<circle cx="383.0" cy="92.3" r="1.1"/>
<circle cx="379.1" cy="126.9" r="1.1"/>
<circle cx="385.2" cy="108.1" r="1.1"/>
<circle cx="376.9" cy="129.7" r="1.1"/>
<circle cx="372.7" cy="125.4" r="1.1"/>
<circle cx="372.9" cy="125.1" r="1.1"/>
<circle cx="378.8" cy="87.7" r="1.1"/>
<circle cx="370.0" cy="120.4" r="1.1"/>
<circle cx="369.8" cy="132.7" r="1.1"/>
<circle cx="384.6" cy="120.0" r="1.1"/>
<circle cx="392.2" cy="124.6" r="1.1"/>
<circle cx="369.6" cy="126.4" r="1.1"/>
<circle cx="377.6" cy="86.7" r="1.1"/>
<circle cx="405.4" cy="123.7" r="1.1"/>
<circle cx="374.3" cy="133.0" r="1.1"/>
<circle cx="378.8" cy="130.8" r="1.1"/>
<circle cx="370.9" cy="134.6" r="1.1"/>
<circle cx="369.5" cy="114.9" r="1.1"/>
<circle cx="370.6" cy="76.0" r="1.1"/>
<circle cx="370.3" cy="99.5" r="1.1"/>
<circle cx="370.7" cy="134.6" r="1.1"/>
<circle cx="381.0" cy="130.1" r="1.1"/>
<circle cx="381.5" cy="131.3" r="1.1"/>
<circle cx="369.9" cy="109.1" r="1.1"/>
<circle cx="380.8" cy="101.3" r="1.1"/>
<circle cx="381.3" cy="133.4" r="1.1"/>
<circle cx="378.4" cy="113.5" r="1.1"/>
<circle cx="375.1" cy="88.1" r="1.1"/>
<circle cx="372.1" cy="77.0" r="1.1"/>
<circle cx="380.9" cy="134.7" r="1.1"/>
<circle cx="369.6" cy="116.6" r="1.1"/>
<circle cx="384.9" cy="133.5" r="1.1"/>
<circle cx="372.8" cy="112.2" r="1.1"/>
<circle cx="371.1" cy="100.6" r="1.1"/>
<circle cx="375.5" cy="133.8" r="1.1"/>
<circle cx="373.6" cy="120.1" r="1.1"/>
<circle cx="374.7" cy="115.3" r="1.1"/>
<circle cx="370.9" cy="107.2" r="1.1"/>
<circle cx="373.5" cy="116.9" r="1.1"/>
<circle cx="378.5" cy="125.5" r="1.1"/>
<circle cx="373.9" cy="108.1" r="1.1"/>
<circle cx="395.8" cy="108.2" r="1.1"/>
<circle cx="377.0" cy="128.9" r="1.1"/>
<circle cx="370.0" cy="71.6" r="1.1"/>
<circle cx="380.5" cy="104.4" r="1.1"/>
<circle cx="373.1" cy="118.7" r="1.1"/>
<circle cx="403.9" cy="104.0" r="1.1"/>
<circle cx="377.8" cy="128.5" r="1.1"/>
<circle cx="374.5" cy="96.9" r="1.1"/>
<circle cx="373.7" cy="114.9" r="1.1"/>
<circle cx="377.8" cy="95.6" r="1.1"/>
<circle cx="384.4" cy="129.1" r="1.1"/>
<circle cx="369.5" cy="129.6" r="1.1"/>
<circle cx="374.4" cy="119.6" r="1.1"/>
<circle cx="384.8" cy="97.0" r="1.1"/>
<circle cx="369.8" cy="103.8" r="1.1"/>
<circle cx="384.6" cy="99.8" r="1.1"/>
<circle cx="377.2" cy="129.4" r="1.1"/>
<circle cx="386.8" cy="106.3" r="1.1"/>
<circle cx="379.9" cy="92.3" r="1.1"/>
<circle cx="373.3" cy="133.4" r="1.1"/>
<circle cx="376.8" cy="107.2" r="1.1"/>
<circle cx="371.5" cy="110.8" r="1.1"/>
<circle cx="393.8" cy="130.3" r="1.1"/>
<circle cx="377.9" cy="115.2" r="1.1"/>
<circle cx="375.1" cy="130.9" r="1.1"/>
<circle cx="372.1" cy="110.8" r="1.1"/>
<circle cx="383.7" cy="124.2" r="1.1"/>
<circle cx="370.3" cy="106.4" r="1.1"/>
<circle cx="382.9" cy="130.3" r="1.1"/>
<circle cx="377.3" cy="95.4" r="1.1"/>
<circle cx="389.1" cy="122.1" r="1.1"/>
<circle cx="375.3" cy="119.5" r="1.1"/>
<circle cx="371.3" cy="131.2" r="1.1"/>
<circle cx="371.3" cy="113.9" r="1.1"/>
<circle cx="373.5" cy="120.5" r="1.1"/>
<circle cx="374.1" cy="122.3" r="1.1"/>
<circle cx="370.9" cy="134.1" r="1.1"/>
<circle cx="377.0" cy="133.0" r="1.1"/>
<circle cx="378.5" cy="108.0" r="1.1"/>
<circle cx="371.0" cy="119.1" r="1.1"/>
<circle cx="373.3" cy="122.2" r="1.1"/>
<circle cx="369.6" cy="134.3" r="1.1"/>
<circle cx="386.9" cy="123.3" r="1.1"/>
<circle cx="377.1" cy="129.6" r="1.1"/>
<circle cx="383.2" cy="125.3" r="1.1"/>
<circle cx="396.1" cy="109.6" r="1.1"/>
<circle cx="385.0" cy="77.4" r="1.1"/>
<circle cx="372.1" cy="134.2" r="1.1"/>
<circle cx="371.5" cy="131.5" r="1.1"/>
<circle cx="370.2" cy="134.0" r="1.1"/>
<circle cx="376.8" cy="99.4" r="1.1"/>
<circle cx="375.0" cy="83.8" r="1.1"/>
<circle cx="391.3" cy="133.8" r="1.1"/>
<circle cx="377.7" cy="126.1" r="1.1"/>
<circle cx="370.6" cy="79.3" r="1.1"/>
<circle cx="372.1" cy="120.5" r="1.1"/>
<circle cx="378.7" cy="80.5" r="1.1"/>
<circle cx="379.5" cy="126.2" r="1.1"/>
<circle cx="374.8" cy="131.9" r="1.1"/>
<circle cx="400.1" cy="125.2" r="1.1"/>
<circle cx="369.8" cy="129.8" r="1.1"/>
<circle cx="373.4" cy="94.4" r="1.1"/>
<circle cx="390.8" cy="103.4" r="1.1"/>
<circle cx="369.9" cy="108.1" r="1.1"/>
<circle cx="380.7" cy="116.8" r="1.1"/>
<circle cx="370.6" cy="132.2" r="1.1"/>
<circle cx="382.2" cy="86.2" r="1.1"/>
<circle cx="379.7" cy="128.7" r="1.1"/>
<circle cx="377.6" cy="110.3" r="1.1"/>
<circle cx="370.5" cy="128.1" r="1.1"/>
<circle cx="372.1" cy="132.6" r="1.1"/>
<circle cx="375.4" cy="131.7" r="1.1"/>
<circle cx="371.9" cy="132.2" r="1.1"/>
<circle cx="379.7" cy="134.7" r="1.1"/>
<circle cx="380.9" cy="131.1" r="1.1"/>
<circle cx="369.8" cy="89.3" r="1.1"/>
<circle cx="371.7" cy="87.7" r="1.1"/>
<circle cx="387.8" cy="96.8" r="1.1"/>
<circle cx="370.8" cy="124.6" r="1.1"/>
<circle cx="370.4" cy="89.0" r="1.1"/>
<circle cx="386.2" cy="117.7" r="1.1"/>
<circle cx="374.9" cy="127.7" r="1.1"/>
<circle cx="385.2" cy="123.6" r="1.1"/>
<circle cx="378.4" cy="132.2" r="1.1"/>
<circle cx="371.7" cy="133.9" r="1.1"/>
<circle cx="380.8" cy="120.9" r="1.1"/>
<circle cx="370.9" cy="99.4" r="1.1"/>
<circle cx="372.3" cy="125.7" r="1.1"/>
<circle cx="371.0" cy="129.4" r="1.1"/>
<circle cx="386.1" cy="127.8" r="1.1"/>
<circle cx="371.1" cy="123.2" r="1.1"/>
<circle cx="372.9" cy="94.4" r="1.1"/>
<circle cx="370.5" cy="68.1" r="1.1"/>
<circle cx="370.0" cy="95.8" r="1.1"/>
<circle cx="379.5" cy="130.8" r="1.1"/>
<circle cx="375.3" cy="129.1" r="1.1"/>
<circle cx="372.1" cy="131.0" r="1.1"/>
<circle cx="373.6" cy="91.3" r="1.1"/>
<circle cx="393.0" cy="133.1" r="1.1"/>
<circle cx="372.5" cy="95.6" r="1.1"/>
<circle cx="370.0" cy="112.4" r="1.1"/>
<circle cx="372.6" cy="68.1" r="1.1"/>
<circle cx="369.6" cy="106.3" r="1.1"/>
<circle cx="373.2" cy="132.3" r="1.1"/>
<circle cx="369.5" cy="103.9" r="1.1"/>
<circle cx="376.2" cy="131.3" r="1.1"/>
<circle cx="374.6" cy="92.7" r="1.1"/>
<circle cx="371.7" cy="120.2" r="1.1"/>
<circle cx="370.8" cy="131.5" r="1.1"/>
<circle cx="382.8" cy="113.3" r="1.1"/>
<circle cx="371.4" cy="133.5" r="1.1"/>
<circle cx="370.3" cy="118.6" r="1.1"/>
<circle cx="375.7" cy="129.4" r="1.1"/>
<circle cx="371.5" cy="118.5" r="1.1"/>
<circle cx="380.6" cy="105.9" r="1.1"/>
<circle cx="377.4" cy="131.0" r="1.1"/>
<circle cx="370.1" cy="112.0" r="1.1"/>
<circle cx="374.2" cy="112.7" r="1.1"/>
<circle cx="370.0" cy="106.0" r="1.1"/>
<circle cx="373.2" cy="102.9" r="1.1"/>
<circle cx="387.6" cy="123.1" r="1.1"/>
<circle cx="369.6" cy="93.0" r="1.1"/>
<circle cx="375.3" cy="99.2" r="1.1"/>
<circle cx="372.3" cy="131.3" r="1.1"/>
<circle cx="385.6" cy="127.0" r="1.1"/>
<circle cx="371.1" cy="126.9" r="1.1"/>
<circle cx="377.7" cy="134.8" r="1.1"/>
<circle cx="376.1" cy="124.7" r="1.1"/>
<circle cx="376.0" cy="132.7" r="1.1"/>
<circle cx="380.8" cy="105.5" r="1.1"/>
<circle cx="387.7" cy="128.2" r="1.1"/>
<circle cx="380.7" cy="126.6" r="1.1"/>
<circle cx="382.1" cy="133.8" r="1.1"/>
<circle cx="388.2" cy="81.4" r="1.1"/>
<circle cx="375.6" cy="122.4" r="1.1"/>
<circle cx="376.3" cy="121.5" r="1.1"/>
<circle cx="369.6" cy="75.4" r="1.1"/>
<circle cx="371.7" cy="131.4" r="1.1"/>
<circle cx="370.4" cy="129.9" r="1.1"/>
<circle cx="384.9" cy="134.4" r="1.1"/>
<circle cx="370.4" cy="114.1" r="1.1"/>
<circle cx="371.4" cy="134.6" r="1.1"/>
<circle cx="377.8" cy="120.0" r="1.1"/>
<circle cx="376.2" cy="113.8" r="1.1"/>
<circle cx="370.4" cy="99.5" r="1.1"/>
<circle cx="380.9" cy="134.1" r="1.1"/>
<circle cx="370.6" cy="123.1" r="1.1"/>
<circle cx="375.8" cy="129.2" r="1.1"/>
<circle cx="370.6" cy="125.9" r="1.1"/>
<circle cx="375.9" cy="82.5" r="1.1"/>
<circle cx="399.3" cy="106.4" r="1.1"/>
<circle cx="390.0" cy="74.2" r="1.1"/>
<circle cx="376.8" cy="69.9" r="1.1"/>
<circle cx="401.8" cy="93.4" r="1.1"/>
<circle cx="385.1" cy="69.1" r="1.1"/>
<circle cx="388.4" cy="93.1" r="1.1"/>
<circle cx="401.9" cy="72.5" r="1.1"/>
<circle cx="382.4" cy="101.4" r="1.1"/>
<circle cx="382.3" cy="90.9" r="1.1"/>
<circle cx="403.2" cy="71.0" r="1.1"/>
<circle cx="401.0" cy="70.5" r="1.1"/>
<circle cx="398.9" cy="111.5" r="1.1"/>
<circle cx="388.2" cy="62.8" r="1.1"/>
<circle cx="401.7" cy="100.9" r="1.1"/>
<circle cx="385.1" cy="80.3" r="1.1"/>
<circle cx="383.2" cy="85.8" r="1.1"/>
<circle cx="373.7" cy="91.0" r="1.1"/>
<circle cx="387.8" cy="113.2" r="1.1"/>
<circle cx="376.0" cy="62.1" r="1.1"/>
<circle cx="396.6" cy="63.9" r="1.1"/>
<circle cx="391.9" cy="70.8" r="1.1"/>
<circle cx="400.0" cy="66.7" r="1.1"/>
<circle cx="372.6" cy="79.8" r="1.1"/>
<circle cx="380.0" cy="77.8" r="1.1"/>
<circle cx="380.3" cy="85.2" r="1.1"/>
<circle cx="401.3" cy="80.9" r="1.1"/>
<circle cx="379.6" cy="86.3" r="1.1"/>
<circle cx="385.5" cy="63.2" r="1.1"/>
<circle cx="380.8" cy="97.9" r="1.1"/>
<circle cx="392.4" cy="107.9" r="1.1"/>
<circle cx="390.7" cy="62.9" r="1.1"/>
<circle cx="388.1" cy="99.9" r="1.1"/>
<circle cx="386.5" cy="85.6" r="1.1"/>
<circle cx="376.3" cy="107.7" r="1.1"/>
<circle cx="375.0" cy="59.0" r="1.1"/>
<circle cx="385.7" cy="59.0" r="1.1"/>
<circle cx="379.3" cy="59.2" r="1.1"/>
<circle cx="391.1" cy="58.5" r="1.1"/>
<circle cx="393.6" cy="58.7" r="1.1"/>
<circle cx="395.2" cy="59.1" r="1.1"/>
<circle cx="397.5" cy="58.8" r="1.1"/>
<circle cx="391.2" cy="58.7" r="1.1"/>
<circle cx="388.1" cy="59.0" r="1.1"/>
<circle cx="379.3" cy="59.0" r="1.1"/>
<circle cx="389.8" cy="58.9" r="1.1"/>
<circle cx="392.7" cy="59.2" r="1.1"/>
<circle cx="383.6" cy="58.4" r="1.1"/>
<circle cx="379.1" cy="58.7" r="1.1"/>
<circle cx="389.0" cy="59.0" r="1.1"/>
<circle cx="408.3" cy="59.0" r="1.1"/>
<circle cx="399.9" cy="59.1" r="1.1"/>
<circle cx="372.4" cy="58.4" r="1.1"/>
<circle cx="387.0" cy="59.2" r="1.1"/>
<circle cx="385.0" cy="58.8" r="1.1"/>
<circle cx="398.5" cy="59.1" r="1.1"/>
<circle cx="378.6" cy="58.4" r="1.1"/>
<circle cx="398.6" cy="59.1" r="1.1"/>
<circle cx="383.0" cy="58.9" r="1.1"/>
<circle cx="396.2" cy="58.7" r="1.1"/>
<circle cx="403.0" cy="58.5" r="1.1"/>
<circle cx="390.0" cy="58.6" r="1.1"/>
<circle cx="398.8" cy="58.5" r="1.1"/>
<circle cx="388.4" cy="58.5" r="1.1"/>
<circle cx="397.5" cy="58.4" r="1.1"/>
<circle cx="374.8" cy="58.4" r="1.1"/>
<circle cx="370.0" cy="58.5" r="1.1"/>
<circle cx="392.7" cy="58.8" r="1.1"/>
<circle cx="407.4" cy="58.7" r="1.1"/>
<circle cx="386.1" cy="58.5" r="1.1"/>
<circle cx="403.9" cy="58.7" r="1.1"/>
<circle cx="384.6" cy="58.8" r="1.1"/>
<circle cx="387.7" cy="58.6" r="1.1"/>
<circle cx="381.3" cy="58.9" r="1.1"/>
<circle cx="391.5" cy="58.9" r="1.1"/>
<circle cx="382.4" cy="58.5" r="1.1"/>
<circle cx="403.0" cy="58.8" r="1.1"/>
<circle cx="387.2" cy="59.1" r="1.1"/>
<circle cx="381.7" cy="59.1" r="1.1"/>
<circle cx="392.3" cy="58.7" r="1.1"/>
<circle cx="373.3" cy="58.4" r="1.1"/>
<circle cx="382.5" cy="58.5" r="1.1"/>
<circle cx="402.5" cy="58.4" r="1.1"/>
<circle cx="377.8" cy="58.8" r="1.1"/>
<circle cx="405.3" cy="59.2" r="1.1"/>
<circle cx="371.7" cy="58.7" r="1.1"/>
<circle cx="389.2" cy="58.4" r="1.1"/>
<circle cx="400.0" cy="58.7" r="1.1"/>
<circle cx="408.8" cy="58.8" r="1.1"/>
<circle cx="390.0" cy="58.6" r="1.1"/>
<circle cx="385.0" cy="58.9" r="1.1"/>
<circle cx="393.0" cy="58.9" r="1.1"/>
<circle cx="406.8" cy="58.6" r="1.1"/>
<circle cx="390.3" cy="59.1" r="1.1"/>
<circle cx="384.4" cy="58.9" r="1.1"/>
<circle cx="391.7" cy="58.7" r="1.1"/>
<circle cx="404.1" cy="58.3" r="1.1"/>
<circle cx="388.8" cy="58.8" r="1.1"/>
<circle cx="394.2" cy="58.3" r="1.1"/>
<circle cx="383.2" cy="58.7" r="1.1"/>
<circle cx="401.7" cy="59.1" r="1.1"/>
<circle cx="382.2" cy="58.3" r="1.1"/>
<circle cx="402.0" cy="58.8" r="1.1"/>
<circle cx="374.2" cy="58.4" r="1.1"/>
<circle cx="396.7" cy="58.5" r="1.1"/>
<circle cx="417.9" cy="58.8" r="1.1"/>
<circle cx="438.1" cy="58.8" r="1.1"/>
<circle cx="454.3" cy="58.8" r="1.1"/>
<circle cx="415.9" cy="132.3" r="1.1"/>
<circle cx="434.1" cy="132.3" r="1.1"/>
<circle cx="416.9" cy="112.6" r="1.1"/>
<circle cx="320.1" cy="130.2" r="1.1"/>
<circle cx="320.3" cy="131.9" r="1.1"/>
<circle cx="318.1" cy="128.8" r="1.1"/>
<circle cx="320.1" cy="133.2" r="1.1"/>
<circle cx="316.9" cy="126.9" r="1.1"/>
<circle cx="319.2" cy="125.5" r="1.1"/>
<circle cx="320.8" cy="130.3" r="1.1"/>
<circle cx="314.7" cy="131.7" r="1.1"/>
<circle cx="316.2" cy="134.9" r="1.1"/>
<circle cx="319.5" cy="118.9" r="1.1"/>
<circle cx="317.4" cy="125.3" r="1.1"/>
<circle cx="320.1" cy="128.9" r="1.1"/>
<circle cx="317.7" cy="132.2" r="1.1"/>
<circle cx="316.8" cy="128.3" r="1.1"/>
<circle cx="317.5" cy="130.3" r="1.1"/>
<circle cx="320.4" cy="133.4" r="1.1"/>
<circle cx="315.2" cy="133.9" r="1.1"/>
<circle cx="320.5" cy="133.3" r="1.1"/>
<circle cx="318.0" cy="119.9" r="1.1"/>
<circle cx="317.1" cy="120.6" r="1.1"/>
<circle cx="320.7" cy="134.8" r="1.1"/>
<circle cx="315.0" cy="131.5" r="1.1"/>
<circle cx="315.9" cy="131.1" r="1.1"/>
<circle cx="320.2" cy="132.2" r="1.1"/>
<circle cx="320.5" cy="114.6" r="1.1"/>
<circle cx="317.4" cy="131.2" r="1.1"/>
<circle cx="318.5" cy="130.7" r="1.1"/>
<circle cx="320.7" cy="115.7" r="1.1"/>
<circle cx="317.4" cy="128.4" r="1.1"/>
<circle cx="317.0" cy="132.4" r="1.1"/>
<circle cx="320.8" cy="111.7" r="1.1"/>
<circle cx="313.2" cy="131.6" r="1.1"/>
<circle cx="311.7" cy="120.2" r="1.1"/>
<circle cx="319.5" cy="126.9" r="1.1"/>
<circle cx="316.9" cy="108.9" r="1.1"/>
<circle cx="319.8" cy="130.6" r="1.1"/>
<circle cx="315.8" cy="132.7" r="1.1"/>
<circle cx="319.5" cy="116.8" r="1.1"/>
<circle cx="318.3" cy="121.2" r="1.1"/>
<circle cx="319.8" cy="133.3" r="1.1"/>
<circle cx="319.2" cy="133.1" r="1.1"/>
<circle cx="315.2" cy="127.8" r="1.1"/>
<circle cx="320.5" cy="128.3" r="1.1"/>
<circle cx="319.0" cy="130.4" r="1.1"/>
<circle cx="320.7" cy="133.8" r="1.1"/>
<circle cx="313.9" cy="131.2" r="1.1"/>
<circle cx="319.8" cy="133.1" r="1.1"/>
<circle cx="319.6" cy="132.6" r="1.1"/>
<circle cx="320.8" cy="125.4" r="1.1"/>
<circle cx="319.3" cy="133.4" r="1.1"/>
</g>
<g fill="#3a2026" font-size="3.8">
<text x="293" y="61.5" fill="#7a2630" textLength="13" lengthAdjust="spacingAndGlyphs">ccl8a</text>
<text x="309" y="84.2" fill="#3a2026" textLength="12" lengthAdjust="spacingAndGlyphs">ccl8a</text>
<text x="297" y="103.5" fill="#3a2026" textLength="13" lengthAdjust="spacingAndGlyphs">ccl8a</text>
<text x="274.3" y="114.2" fill="#7a2630" textLength="14" lengthAdjust="spacingAndGlyphs">ccl8a</text>
<text x="293" y="114.2" fill="#3a2026" textLength="11" lengthAdjust="spacingAndGlyphs">ccl8a</text>
<text x="297" y="127.6" fill="#3a2026" textLength="12" lengthAdjust="spacingAndGlyphs">ccl8a</text>
<text x="417.9" y="60.6" fill="#7a2630" textLength="8" lengthAdjust="spacingAndGlyphs">ccl8a</text>
<text x="435.4" y="60.6" fill="#3a2026" textLength="8" lengthAdjust="spacingAndGlyphs">ccl8a</text>
<text x="452.9" y="60.6" fill="#3a2026" textLength="8" lengthAdjust="spacingAndGlyphs">ccl8a</text>
<text x="412.5" y="134.1" fill="#7a2630" textLength="10" lengthAdjust="spacingAndGlyphs">ccl8a</text>
<text x="431.4" y="134.1" fill="#3a2026" textLength="10" lengthAdjust="spacingAndGlyphs">ccl8a</text>
<text x="399" y="101.2" fill="#3a2026" textLength="10" lengthAdjust="spacingAndGlyphs">ccl8a</text>
<text x="389.9" y="113.6" fill="#7a2630" textLength="8" lengthAdjust="spacingAndGlyphs">ccl8a</text>
<text x="396.9" y="116.0" fill="#3a2026" textLength="9" lengthAdjust="spacingAndGlyphs">ccl8a</text>
<text x="390.8" y="124.5" fill="#3a2026" textLength="8" lengthAdjust="spacingAndGlyphs">ccl8a</text>
<text x="381.9" y="122.3" fill="#7a2630" textLength="11" lengthAdjust="spacingAndGlyphs">ccl8a</text>
<text x="387.4" y="102.2" fill="#3a2026" textLength="8" lengthAdjust="spacingAndGlyphs">ccl8a</text>
<text x="393.4" y="91.0" fill="#3a2026" textLength="9" lengthAdjust="spacingAndGlyphs">ccl8a</text>
<text x="399.3" y="115.3" fill="#7a2630" textLength="9" lengthAdjust="spacingAndGlyphs">ccl8a</text>
<text x="394.4" y="68.1" fill="#3a2026" textLength="11" lengthAdjust="spacingAndGlyphs">ccl8a</text>
<text x="374.1" y="63.3" fill="#3a2026" textLength="8" lengthAdjust="spacingAndGlyphs">ccl8a</text>
<text x="376.7" y="77.9" fill="#7a2630" textLength="9" lengthAdjust="spacingAndGlyphs">ccl8a</text>
<text x="397.9" y="82.9" fill="#3a2026" textLength="9" lengthAdjust="spacingAndGlyphs">ccl8a</text>
<text x="387.3" y="109.3" fill="#3a2026" textLength="9" lengthAdjust="spacingAndGlyphs">ccl8a</text>
<text x="375.8" y="129.1" fill="#7a2630" textLength="9" lengthAdjust="spacingAndGlyphs">ccl8a</text>
<text x="400.9" y="124.0" fill="#3a2026" textLength="10" lengthAdjust="spacingAndGlyphs">ccl8a</text>
<text x="370.7" y="91.4" fill="#3a2026" textLength="9" lengthAdjust="spacingAndGlyphs">ccl8a</text>
<text x="378.4" y="85.8" fill="#7a2630" textLength="8" lengthAdjust="spacingAndGlyphs">ccl8a</text>
<text x="389.1" y="111.3" fill="#3a2026" textLength="8" lengthAdjust="spacingAndGlyphs">ccl8a</text>
<text x="379.9" y="118.9" fill="#3a2026" textLength="11" lengthAdjust="spacingAndGlyphs">ccl8a</text>
<text x="392.3" y="75.8" fill="#7a2630" textLength="11" lengthAdjust="spacingAndGlyphs">ccl8a</text>
<text x="392.5" y="67.1" fill="#3a2026" textLength="8" lengthAdjust="spacingAndGlyphs">ccl8a</text>
<text x="400.4" y="87.5" fill="#3a2026" textLength="11" lengthAdjust="spacingAndGlyphs">ccl8a</text>
<text x="370.6" y="116.8" fill="#7a2630" textLength="10" lengthAdjust="spacingAndGlyphs">ccl8a</text>
<text x="382.0" y="120.4" fill="#3a2026" textLength="11" lengthAdjust="spacingAndGlyphs">ccl8a</text>
<text x="371.5" y="75.5" fill="#3a2026" textLength="9" lengthAdjust="spacingAndGlyphs">ccl8a</text>
<text x="373.8" y="79.9" fill="#7a2630" textLength="11" lengthAdjust="spacingAndGlyphs">ccl8a</text>
<text x="381.0" y="87.3" fill="#3a2026" textLength="10" lengthAdjust="spacingAndGlyphs">ccl8a</text>
<text x="394.8" y="70.5" fill="#3a2026" textLength="10" lengthAdjust="spacingAndGlyphs">ccl8a</text>
<text x="397.5" y="65.7" fill="#7a2630" textLength="8" lengthAdjust="spacingAndGlyphs">ccl8a</text>
<text x="376.7" y="98.1" fill="#3a2026" textLength="10" lengthAdjust="spacingAndGlyphs">ccl8a</text>
<text x="399.4" y="86.3" fill="#3a2026" textLength="8" lengthAdjust="spacingAndGlyphs">ccl8a</text>
<text x="380.0" y="84.7" fill="#7a2630" textLength="9" lengthAdjust="spacingAndGlyphs">ccl8a</text>
<text x="395.6" y="105.8" fill="#3a2026" textLength="10" lengthAdjust="spacingAndGlyphs">ccl8a</text>
<text x="401.9" y="74.2" fill="#3a2026" textLength="8" lengthAdjust="spacingAndGlyphs">ccl8a</text>
<text x="372.6" y="104.0" fill="#7a2630" textLength="11" lengthAdjust="spacingAndGlyphs">ccl8a</text>
</g>
<line x1="265.7" y1="24.0" x2="265.7" y2="154.7" stroke="#222" stroke-width="1.1"/>
<line x1="265.7" y1="154.7" x2="470.5" y2="154.7" stroke="#222" stroke-width="1.1"/>
<line x1="263.5" y1="149.10" x2="265.7" y2="149.10" stroke="#222" stroke-width="0.8"/>
<text x="259.90" y="151.40" font-size="6.8" fill="#333" stroke="#333" stroke-width="0.12" text-anchor="end" textLength="3.59" lengthAdjust="spacingAndGlyphs" >0</text>
<line x1="263.5" y1="120.15" x2="265.7" y2="120.15" stroke="#222" stroke-width="0.8"/>
<text x="259.90" y="122.45" font-size="6.8" fill="#333" stroke="#333" stroke-width="0.12" text-anchor="end" textLength="3.59" lengthAdjust="spacingAndGlyphs" >5</text>
<line x1="263.5" y1="91.20" x2="265.7" y2="91.20" stroke="#222" stroke-width="0.8"/>
<text x="259.90" y="93.50" font-size="6.8" fill="#333" stroke="#333" stroke-width="0.12" text-anchor="end" textLength="7.18" lengthAdjust="spacingAndGlyphs" >10</text>
<line x1="263.5" y1="62.25" x2="265.7" y2="62.25" stroke="#222" stroke-width="0.8"/>
<text x="259.90" y="64.55" font-size="6.8" fill="#333" stroke="#333" stroke-width="0.12" text-anchor="end" textLength="7.18" lengthAdjust="spacingAndGlyphs" >15</text>
<line x1="263.5" y1="33.30" x2="265.7" y2="33.30" stroke="#222" stroke-width="0.8"/>
<text x="259.90" y="35.60" font-size="6.8" fill="#333" stroke="#333" stroke-width="0.12" text-anchor="end" textLength="7.18" lengthAdjust="spacingAndGlyphs" >20</text>
<line x1="304.80" y1="154.7" x2="304.80" y2="156.89999999999998" stroke="#222" stroke-width="0.8"/>
<text x="304.80" y="166.60" font-size="6.8" fill="#333" stroke="#333" stroke-width="0.12" text-anchor="middle" textLength="7.37" lengthAdjust="spacingAndGlyphs" >−2</text>
<line x1="345.20" y1="154.7" x2="345.20" y2="156.89999999999998" stroke="#222" stroke-width="0.8"/>
<text x="345.20" y="166.60" font-size="6.8" fill="#333" stroke="#333" stroke-width="0.12" text-anchor="middle" textLength="3.59" lengthAdjust="spacingAndGlyphs" >0</text>
<line x1="385.60" y1="154.7" x2="385.60" y2="156.89999999999998" stroke="#222" stroke-width="0.8"/>
<text x="385.60" y="166.60" font-size="6.8" fill="#333" stroke="#333" stroke-width="0.12" text-anchor="middle" textLength="3.59" lengthAdjust="spacingAndGlyphs" >2</text>
<line x1="426.00" y1="154.7" x2="426.00" y2="156.89999999999998" stroke="#222" stroke-width="0.8"/>
<text x="426.00" y="166.60" font-size="6.8" fill="#333" stroke="#333" stroke-width="0.12" text-anchor="middle" textLength="3.59" lengthAdjust="spacingAndGlyphs" >4</text>
<line x1="466.40" y1="154.7" x2="466.40" y2="156.89999999999998" stroke="#222" stroke-width="0.8"/>
<text x="466.40" y="166.60" font-size="6.8" fill="#333" stroke="#333" stroke-width="0.12" text-anchor="middle" textLength="3.59" lengthAdjust="spacingAndGlyphs" >6</text>
<text x="343.3" y="178.5" font-size="8.5" fill="#333" stroke="#333" stroke-width="0.12" textLength="50.9" lengthAdjust="spacingAndGlyphs">Log<tspan font-size="5" dy="1.6">2</tspan><tspan dy="-1.6"> fold change</tspan></text>
<text transform="translate(246.6,102) rotate(-90)" font-size="8.4" fill="#333" stroke="#333" stroke-width="0.12" textLength="26.3" lengthAdjust="spacingAndGlyphs">-Log<tspan font-size="5.8" dy="1.5">10</tspan><tspan dy="-1.5" font-style="italic"> P</tspan></text>
<circle cx="319.8" cy="16.6" r="1.0" fill="#666"/>
<circle cx="336.8" cy="16.6" r="1.0" fill="#3a9a6a"/>
<circle cx="367.8" cy="16.6" r="1.0" fill="#5a6fc4"/>
<circle cx="380.2" cy="16.6" r="1.0" fill="#cc3a3a"/>
<text x="324.40" y="18.60" font-size="5.8" fill="#333" stroke="#333" stroke-width="0.12" textLength="7.50" lengthAdjust="spacingAndGlyphs" >NS</text>
<text x="340.90" y="18.60" font-size="5.8" fill="#333" stroke="#333" stroke-width="0.12" textLength="22.70" lengthAdjust="spacingAndGlyphs" >Log2 FC</text>
<text x="372.50" y="18.60" font-size="5.8" fill="#333" stroke="#333" stroke-width="0.12" textLength="3.60" lengthAdjust="spacingAndGlyphs" >P</text>
<text x="384.20" y="18.60" font-size="5.8" fill="#333" stroke="#333" stroke-width="0.12" textLength="33.50" lengthAdjust="spacingAndGlyphs" >P &amp; Log2 FC</text>
<rect x="47.7" y="207.3" width="64.15" height="7.30" fill="#f3837a"/>
<rect x="111.85" y="207.3" width="64.15" height="7.30" fill="#14a8a2"/>
<rect x="47.70" y="216.50" width="21.53" height="2.11" fill="#89bfdf"/>
<rect x="47.70" y="218.46" width="21.53" height="2.11" fill="#add5ea"/>
<rect x="47.70" y="220.43" width="21.53" height="2.11" fill="#9fcde6"/>
<rect x="47.70" y="222.39" width="21.53" height="2.11" fill="#76b3da"/>
<rect x="47.70" y="224.36" width="21.53" height="2.11" fill="#4b92c6"/>
<rect x="47.70" y="226.32" width="21.53" height="2.11" fill="#367eb8"/>
<rect x="47.70" y="228.29" width="21.53" height="2.11" fill="#478ec3"/>
<rect x="47.70" y="230.25" width="21.53" height="2.11" fill="#5da3d1"/>
<rect x="47.70" y="232.22" width="21.53" height="2.11" fill="#3a82bb"/>
<rect x="47.70" y="234.18" width="21.53" height="2.11" fill="#2a72b0"/>
<rect x="47.70" y="236.15" width="21.53" height="2.11" fill="#438ac0"/>
<rect x="47.70" y="238.11" width="21.53" height="2.11" fill="#4e94c7"/>
<rect x="47.70" y="240.07" width="21.53" height="2.11" fill="#73b1d9"/>
<rect x="47.70" y="242.04" width="21.53" height="2.11" fill="#7bb6db"/>
<rect x="47.70" y="244.00" width="21.53" height="2.11" fill="#5aa0cf"/>
<rect x="47.70" y="245.97" width="21.53" height="2.11" fill="#4c92c6"/>
<rect x="47.70" y="247.93" width="21.53" height="2.11" fill="#f8f2d3"/>
<rect x="47.70" y="249.90" width="21.53" height="2.11" fill="#fed587"/>
<rect x="47.70" y="251.86" width="21.53" height="2.11" fill="#fce2a0"/>
<rect x="47.70" y="253.83" width="21.53" height="2.11" fill="#faeab8"/>
<rect x="47.70" y="255.79" width="21.53" height="2.11" fill="#fce5aa"/>
<rect x="47.70" y="257.76" width="21.53" height="2.11" fill="#fce3a1"/>
<rect x="47.70" y="259.72" width="21.53" height="2.11" fill="#fce4a7"/>
<rect x="47.70" y="261.68" width="21.53" height="2.11" fill="#fce3a4"/>
<rect x="47.70" y="263.65" width="21.53" height="2.11" fill="#fde19b"/>
<rect x="47.70" y="265.61" width="21.53" height="2.11" fill="#fedc8d"/>
<rect x="47.70" y="267.58" width="21.53" height="2.11" fill="#fdd183"/>
<rect x="47.70" y="269.54" width="21.53" height="2.11" fill="#fed889"/>
<rect x="47.70" y="271.51" width="21.53" height="2.11" fill="#faeab8"/>
<rect x="47.70" y="273.47" width="21.53" height="2.11" fill="#fde19d"/>
<rect x="47.70" y="275.44" width="21.53" height="2.11" fill="#faebbd"/>
<rect x="47.70" y="277.40" width="21.53" height="2.11" fill="#fbe8b2"/>
<rect x="47.70" y="279.37" width="21.53" height="2.11" fill="#f9efca"/>
<rect x="47.70" y="281.33" width="21.53" height="2.11" fill="#fbe9b6"/>
<rect x="47.70" y="283.29" width="21.53" height="2.11" fill="#faebbc"/>
<rect x="47.70" y="285.26" width="21.53" height="2.11" fill="#fce5a9"/>
<rect x="47.70" y="287.22" width="21.53" height="2.11" fill="#fcba70"/>
<rect x="47.70" y="289.19" width="21.53" height="2.11" fill="#fdcf82"/>
<rect x="47.70" y="291.15" width="21.53" height="2.11" fill="#fdcd80"/>
<rect x="47.70" y="293.12" width="21.53" height="2.11" fill="#fce4a6"/>
<rect x="47.70" y="295.08" width="21.53" height="2.11" fill="#fce5a8"/>
<rect x="47.70" y="297.05" width="21.53" height="2.11" fill="#fddf95"/>
<rect x="47.70" y="299.01" width="21.53" height="2.11" fill="#fde19b"/>
<rect x="47.70" y="300.98" width="21.53" height="2.11" fill="#fdde94"/>
<rect x="47.70" y="302.94" width="21.53" height="2.11" fill="#fddf96"/>
<rect x="47.70" y="304.90" width="21.53" height="2.11" fill="#fbe7b0"/>
<rect x="47.70" y="306.87" width="21.53" height="2.11" fill="#fdc77b"/>
<rect x="47.70" y="308.83" width="21.53" height="2.11" fill="#fed98a"/>
<rect x="47.70" y="310.80" width="21.53" height="2.11" fill="#fcab64"/>
<rect x="47.70" y="312.76" width="21.53" height="2.11" fill="#fdc478"/>
<rect x="47.70" y="314.73" width="21.53" height="2.11" fill="#fcb86f"/>
<rect x="47.70" y="316.69" width="21.53" height="2.11" fill="#fdc075"/>
<rect x="47.70" y="318.66" width="21.53" height="2.11" fill="#fcb168"/>
<rect x="47.70" y="320.62" width="21.53" height="2.11" fill="#fdc87c"/>
<rect x="47.70" y="322.59" width="21.53" height="2.11" fill="#fcb46b"/>
<rect x="47.70" y="324.55" width="21.53" height="2.11" fill="#fdc075"/>
<rect x="47.70" y="326.51" width="21.53" height="2.11" fill="#fcaa63"/>
<rect x="47.70" y="328.48" width="21.53" height="2.11" fill="#fcac64"/>
<rect x="47.70" y="330.44" width="21.53" height="2.11" fill="#fcb66d"/>
<rect x="47.70" y="332.41" width="21.53" height="2.11" fill="#fdcf81"/>
<rect x="47.70" y="334.37" width="21.53" height="2.11" fill="#fcbd72"/>
<rect x="47.70" y="336.34" width="21.53" height="2.11" fill="#fcb96f"/>
<rect x="47.70" y="338.30" width="21.53" height="2.11" fill="#fb9e5a"/>
<rect x="47.70" y="340.27" width="21.53" height="2.11" fill="#fcba70"/>
<rect x="47.70" y="342.23" width="21.53" height="2.11" fill="#fcb56c"/>
<rect x="47.70" y="344.20" width="21.53" height="2.11" fill="#fdd284"/>
<rect x="47.70" y="346.16" width="21.53" height="2.11" fill="#fed586"/>
<rect x="47.70" y="348.12" width="21.53" height="2.11" fill="#fed888"/>
<rect x="47.70" y="350.09" width="21.53" height="2.11" fill="#fed98a"/>
<rect x="47.70" y="352.05" width="21.53" height="2.11" fill="#fcb76d"/>
<rect x="47.70" y="354.02" width="21.53" height="2.11" fill="#fdc77b"/>
<rect x="47.70" y="355.98" width="21.53" height="2.11" fill="#fdc579"/>
<rect x="47.70" y="357.95" width="21.53" height="2.11" fill="#fcb169"/>
<rect x="47.70" y="359.91" width="21.53" height="2.11" fill="#f99555"/>
<rect x="47.70" y="361.88" width="21.53" height="2.11" fill="#f88f53"/>
<rect x="47.70" y="363.84" width="21.53" height="2.11" fill="#f78b51"/>
<rect x="47.70" y="365.81" width="21.53" height="2.11" fill="#f88e52"/>
<rect x="47.70" y="367.77" width="21.53" height="2.11" fill="#f89153"/>
<rect x="47.70" y="369.73" width="21.53" height="2.11" fill="#fa9c59"/>
<rect x="47.70" y="371.70" width="21.53" height="2.11" fill="#fa9756"/>
<rect x="47.70" y="373.66" width="21.53" height="2.11" fill="#f6824d"/>
<rect x="47.70" y="375.63" width="21.53" height="2.11" fill="#fb9d59"/>
<rect x="47.70" y="377.59" width="21.53" height="2.11" fill="#fcb36b"/>
<rect x="47.70" y="379.56" width="21.53" height="2.11" fill="#f88e52"/>
<rect x="47.70" y="381.52" width="21.53" height="2.11" fill="#fa9957"/>
<rect x="47.70" y="383.49" width="21.53" height="2.11" fill="#f99254"/>
<rect x="47.70" y="385.45" width="21.53" height="2.11" fill="#f89053"/>
<rect x="47.70" y="387.42" width="21.53" height="2.11" fill="#fcb46b"/>
<rect x="47.70" y="389.38" width="21.53" height="2.11" fill="#f6854e"/>
<rect x="47.70" y="391.34" width="21.53" height="2.11" fill="#f47848"/>
<rect x="47.70" y="393.31" width="21.53" height="2.11" fill="#f88e52"/>
<rect x="47.70" y="395.27" width="21.53" height="2.11" fill="#f89053"/>
<rect x="47.70" y="397.24" width="21.53" height="2.11" fill="#fb9d59"/>
<rect x="47.70" y="399.20" width="21.53" height="2.11" fill="#fcb66d"/>
<rect x="47.70" y="401.17" width="21.53" height="2.11" fill="#fcb66d"/>
<rect x="47.70" y="403.13" width="21.53" height="2.11" fill="#fcad65"/>
<rect x="47.70" y="405.10" width="21.53" height="2.11" fill="#fa9a58"/>
<rect x="47.70" y="407.06" width="21.53" height="2.11" fill="#fa9756"/>
<rect x="47.70" y="409.03" width="21.53" height="2.11" fill="#fdcb7e"/>
<rect x="47.70" y="410.99" width="21.53" height="2.11" fill="#fcb66d"/>
<rect x="47.70" y="412.95" width="21.53" height="2.11" fill="#fed788"/>
<rect x="47.70" y="414.92" width="21.53" height="2.11" fill="#fdc97c"/>
<rect x="47.70" y="416.88" width="21.53" height="2.11" fill="#fcba70"/>
<rect x="47.70" y="418.85" width="21.53" height="2.11" fill="#fdd082"/>
<rect x="47.70" y="420.81" width="21.53" height="2.11" fill="#fbe9b7"/>
<rect x="47.70" y="422.78" width="21.53" height="2.11" fill="#faecbf"/>
<rect x="47.70" y="424.74" width="21.53" height="2.11" fill="#fce2a1"/>
<rect x="47.70" y="426.71" width="21.53" height="2.11" fill="#fed98a"/>
<rect x="47.70" y="428.67" width="21.53" height="2.11" fill="#fcba70"/>
<rect x="47.70" y="430.64" width="21.53" height="2.11" fill="#fedd8f"/>
<rect x="69.08" y="216.50" width="21.53" height="2.11" fill="#a6d1e8"/>
<rect x="69.08" y="218.46" width="21.53" height="2.11" fill="#b9ddee"/>
<rect x="69.08" y="220.43" width="21.53" height="2.11" fill="#acd5ea"/>
<rect x="69.08" y="222.39" width="21.53" height="2.11" fill="#61a6d3"/>
<rect x="69.08" y="224.36" width="21.53" height="2.11" fill="#f8f1d1"/>
<rect x="69.08" y="226.32" width="21.53" height="2.11" fill="#fce3a4"/>
<rect x="69.08" y="228.29" width="21.53" height="2.11" fill="#fce3a3"/>
<rect x="69.08" y="230.25" width="21.53" height="2.11" fill="#f9edc4"/>
<rect x="69.08" y="232.22" width="21.53" height="2.11" fill="#f9f0ce"/>
<rect x="69.08" y="234.18" width="21.53" height="2.11" fill="#f9eec8"/>
<rect x="69.08" y="236.15" width="21.53" height="2.11" fill="#fde19c"/>
<rect x="69.08" y="238.11" width="21.53" height="2.11" fill="#fce4a5"/>
<rect x="69.08" y="240.07" width="21.53" height="2.11" fill="#d2e7e9"/>
<rect x="69.08" y="242.04" width="21.53" height="2.11" fill="#e8f0e6"/>
<rect x="69.08" y="244.00" width="21.53" height="2.11" fill="#d0e6ea"/>
<rect x="69.08" y="245.97" width="21.53" height="2.11" fill="#edf3e5"/>
<rect x="69.08" y="247.93" width="21.53" height="2.11" fill="#c7e2eb"/>
<rect x="69.08" y="249.90" width="21.53" height="2.11" fill="#f78950"/>
<rect x="69.08" y="251.86" width="21.53" height="2.11" fill="#f47948"/>
<rect x="69.08" y="253.83" width="21.53" height="2.11" fill="#f0613e"/>
<rect x="69.08" y="255.79" width="21.53" height="2.11" fill="#f0653f"/>
<rect x="69.08" y="257.76" width="21.53" height="2.11" fill="#f26e43"/>
<rect x="69.08" y="259.72" width="21.53" height="2.11" fill="#fb9f5a"/>
<rect x="69.08" y="261.68" width="21.53" height="2.11" fill="#fba35d"/>
<rect x="69.08" y="263.65" width="21.53" height="2.11" fill="#fba35d"/>
<rect x="69.08" y="265.61" width="21.53" height="2.11" fill="#fba15c"/>
<rect x="69.08" y="267.58" width="21.53" height="2.11" fill="#f78950"/>
<rect x="69.08" y="269.54" width="21.53" height="2.11" fill="#f88f53"/>
<rect x="69.08" y="271.51" width="21.53" height="2.11" fill="#f47b49"/>
<rect x="69.08" y="273.47" width="21.53" height="2.11" fill="#f57e4b"/>
<rect x="69.08" y="275.44" width="21.53" height="2.11" fill="#f78950"/>
<rect x="69.08" y="277.40" width="21.53" height="2.11" fill="#f6854e"/>
<rect x="69.08" y="279.37" width="21.53" height="2.11" fill="#f57d4a"/>
<rect x="69.08" y="281.33" width="21.53" height="2.11" fill="#f27044"/>
<rect x="69.08" y="283.29" width="21.53" height="2.11" fill="#f6844e"/>
<rect x="69.08" y="285.26" width="21.53" height="2.11" fill="#f78a50"/>
<rect x="69.08" y="287.22" width="21.53" height="2.11" fill="#fba55f"/>
<rect x="69.08" y="289.19" width="21.53" height="2.11" fill="#f47647"/>
<rect x="69.08" y="291.15" width="21.53" height="2.11" fill="#ee5e3c"/>
<rect x="69.08" y="293.12" width="21.53" height="2.11" fill="#ef603d"/>
<rect x="69.08" y="295.08" width="21.53" height="2.11" fill="#f26e44"/>
<rect x="69.08" y="297.05" width="21.53" height="2.11" fill="#f6814c"/>
<rect x="69.08" y="299.01" width="21.53" height="2.11" fill="#f47647"/>
<rect x="69.08" y="300.98" width="21.53" height="2.11" fill="#e0422f"/>
<rect x="69.08" y="302.94" width="21.53" height="2.11" fill="#d73027"/>
<rect x="69.08" y="304.90" width="21.53" height="2.11" fill="#f99254"/>
<rect x="69.08" y="306.87" width="21.53" height="2.11" fill="#fcb76e"/>
<rect x="69.08" y="308.83" width="21.53" height="2.11" fill="#fbe8b2"/>
<rect x="69.08" y="310.80" width="21.53" height="2.11" fill="#fcb66d"/>
<rect x="69.08" y="312.76" width="21.53" height="2.11" fill="#fcb269"/>
<rect x="69.08" y="314.73" width="21.53" height="2.11" fill="#fedd8f"/>
<rect x="69.08" y="316.69" width="21.53" height="2.11" fill="#fdc87c"/>
<rect x="69.08" y="318.66" width="21.53" height="2.11" fill="#fce2a0"/>
<rect x="69.08" y="320.62" width="21.53" height="2.11" fill="#f47949"/>
<rect x="69.08" y="322.59" width="21.53" height="2.11" fill="#f47848"/>
<rect x="69.08" y="324.55" width="21.53" height="2.11" fill="#f6864e"/>
<rect x="69.08" y="326.51" width="21.53" height="2.11" fill="#fba15b"/>
<rect x="69.08" y="328.48" width="21.53" height="2.11" fill="#fddf95"/>
<rect x="69.08" y="330.44" width="21.53" height="2.11" fill="#fed284"/>
<rect x="69.08" y="332.41" width="21.53" height="2.11" fill="#fce4a6"/>
<rect x="69.08" y="334.37" width="21.53" height="2.11" fill="#fdc67a"/>
<rect x="69.08" y="336.34" width="21.53" height="2.11" fill="#fbe8b3"/>
<rect x="69.08" y="338.30" width="21.53" height="2.11" fill="#fbe6ab"/>
<rect x="69.08" y="340.27" width="21.53" height="2.11" fill="#fcb86e"/>
<rect x="69.08" y="342.23" width="21.53" height="2.11" fill="#f88d52"/>
<rect x="69.08" y="344.20" width="21.53" height="2.11" fill="#fdbf74"/>
<rect x="69.08" y="346.16" width="21.53" height="2.11" fill="#fddf96"/>
<rect x="69.08" y="348.12" width="21.53" height="2.11" fill="#fcb96f"/>
<rect x="69.08" y="350.09" width="21.53" height="2.11" fill="#fba25c"/>
<rect x="69.08" y="352.05" width="21.53" height="2.11" fill="#fdc579"/>
<rect x="69.08" y="354.02" width="21.53" height="2.11" fill="#fdd183"/>
<rect x="69.08" y="355.98" width="21.53" height="2.11" fill="#fed788"/>
<rect x="69.08" y="357.95" width="21.53" height="2.11" fill="#fde19d"/>
<rect x="69.08" y="359.91" width="21.53" height="2.11" fill="#faeabb"/>
<rect x="69.08" y="361.88" width="21.53" height="2.11" fill="#fedd8e"/>
<rect x="69.08" y="363.84" width="21.53" height="2.11" fill="#fed586"/>
<rect x="69.08" y="365.81" width="21.53" height="2.11" fill="#fcbb71"/>
<rect x="69.08" y="367.77" width="21.53" height="2.11" fill="#fdce80"/>
<rect x="69.08" y="369.73" width="21.53" height="2.11" fill="#fed98a"/>
<rect x="69.08" y="371.70" width="21.53" height="2.11" fill="#fce3a3"/>
<rect x="69.08" y="373.66" width="21.53" height="2.11" fill="#fce2a0"/>
<rect x="69.08" y="375.63" width="21.53" height="2.11" fill="#faeab8"/>
<rect x="69.08" y="377.59" width="21.53" height="2.11" fill="#f9f1cf"/>
<rect x="69.08" y="379.56" width="21.53" height="2.11" fill="#fce4a6"/>
<rect x="69.08" y="381.52" width="21.53" height="2.11" fill="#fed284"/>
<rect x="69.08" y="383.49" width="21.53" height="2.11" fill="#fdcc7f"/>
<rect x="69.08" y="385.45" width="21.53" height="2.11" fill="#fdc176"/>
<rect x="69.08" y="387.42" width="21.53" height="2.11" fill="#fdcc7f"/>
<rect x="69.08" y="389.38" width="21.53" height="2.11" fill="#fb9e5a"/>
<rect x="69.08" y="391.34" width="21.53" height="2.11" fill="#fb9d59"/>
<rect x="69.08" y="393.31" width="21.53" height="2.11" fill="#fba45e"/>
<rect x="69.08" y="395.27" width="21.53" height="2.11" fill="#fcb36a"/>
<rect x="69.08" y="397.24" width="21.53" height="2.11" fill="#fdc479"/>
<rect x="69.08" y="399.20" width="21.53" height="2.11" fill="#fdcb7e"/>
<rect x="69.08" y="401.17" width="21.53" height="2.11" fill="#fcb76e"/>
<rect x="69.08" y="403.13" width="21.53" height="2.11" fill="#fcaa63"/>
<rect x="69.08" y="405.10" width="21.53" height="2.11" fill="#fcac65"/>
<rect x="69.08" y="407.06" width="21.53" height="2.11" fill="#f89053"/>
<rect x="69.08" y="409.03" width="21.53" height="2.11" fill="#fba55f"/>
<rect x="69.08" y="410.99" width="21.53" height="2.11" fill="#fb9e5a"/>
<rect x="69.08" y="412.95" width="21.53" height="2.11" fill="#f78a50"/>
<rect x="69.08" y="414.92" width="21.53" height="2.11" fill="#fcb46b"/>
<rect x="69.08" y="416.88" width="21.53" height="2.11" fill="#fde19e"/>
<rect x="69.08" y="418.85" width="21.53" height="2.11" fill="#fdbf74"/>
<rect x="69.08" y="420.81" width="21.53" height="2.11" fill="#fdcd80"/>
<rect x="69.08" y="422.78" width="21.53" height="2.11" fill="#fba15c"/>
<rect x="69.08" y="424.74" width="21.53" height="2.11" fill="#fba35d"/>
<rect x="69.08" y="426.71" width="21.53" height="2.11" fill="#f99254"/>
<rect x="69.08" y="428.67" width="21.53" height="2.11" fill="#f88f53"/>
<rect x="69.08" y="430.64" width="21.53" height="2.11" fill="#fed788"/>
<rect x="90.47" y="216.50" width="21.53" height="2.11" fill="#7fb9dc"/>
<rect x="90.47" y="218.46" width="21.53" height="2.11" fill="#579ece"/>
<rect x="90.47" y="220.43" width="21.53" height="2.11" fill="#488fc4"/>
<rect x="90.47" y="222.39" width="21.53" height="2.11" fill="#478ec3"/>
<rect x="90.47" y="224.36" width="21.53" height="2.11" fill="#6aabd6"/>
<rect x="90.47" y="226.32" width="21.53" height="2.11" fill="#8dc1e1"/>
<rect x="90.47" y="228.29" width="21.53" height="2.11" fill="#a6d1e8"/>
<rect x="90.47" y="230.25" width="21.53" height="2.11" fill="#4b92c5"/>
<rect x="90.47" y="232.22" width="21.53" height="2.11" fill="#458cc2"/>
<rect x="90.47" y="234.18" width="21.53" height="2.11" fill="#579dcd"/>
<rect x="90.47" y="236.15" width="21.53" height="2.11" fill="#7fb9dc"/>
<rect x="90.47" y="238.11" width="21.53" height="2.11" fill="#b4d9ed"/>
<rect x="90.47" y="240.07" width="21.53" height="2.11" fill="#9dcbe5"/>
<rect x="90.47" y="242.04" width="21.53" height="2.11" fill="#b6dbed"/>
<rect x="90.47" y="244.00" width="21.53" height="2.11" fill="#c0e0ed"/>
<rect x="90.47" y="245.97" width="21.53" height="2.11" fill="#daebe8"/>
<rect x="90.47" y="247.93" width="21.53" height="2.11" fill="#b8dcee"/>
<rect x="90.47" y="249.90" width="21.53" height="2.11" fill="#fcb76e"/>
<rect x="90.47" y="251.86" width="21.53" height="2.11" fill="#fcbd73"/>
<rect x="90.47" y="253.83" width="21.53" height="2.11" fill="#f99254"/>
<rect x="90.47" y="255.79" width="21.53" height="2.11" fill="#f7864f"/>
<rect x="90.47" y="257.76" width="21.53" height="2.11" fill="#f99656"/>
<rect x="90.47" y="259.72" width="21.53" height="2.11" fill="#fa9957"/>
<rect x="90.47" y="261.68" width="21.53" height="2.11" fill="#fa9c59"/>
<rect x="90.47" y="263.65" width="21.53" height="2.11" fill="#fb9c59"/>
<rect x="90.47" y="265.61" width="21.53" height="2.11" fill="#fba45e"/>
<rect x="90.47" y="267.58" width="21.53" height="2.11" fill="#fcab64"/>
<rect x="90.47" y="269.54" width="21.53" height="2.11" fill="#fdc075"/>
<rect x="90.47" y="271.51" width="21.53" height="2.11" fill="#fdc075"/>
<rect x="90.47" y="273.47" width="21.53" height="2.11" fill="#f99555"/>
<rect x="90.47" y="275.44" width="21.53" height="2.11" fill="#f99254"/>
<rect x="90.47" y="277.40" width="21.53" height="2.11" fill="#fde19b"/>
<rect x="90.47" y="279.37" width="21.53" height="2.11" fill="#fce3a4"/>
<rect x="90.47" y="281.33" width="21.53" height="2.11" fill="#fce3a4"/>
<rect x="90.47" y="283.29" width="21.53" height="2.11" fill="#fde29f"/>
<rect x="90.47" y="285.26" width="21.53" height="2.11" fill="#fbe6ad"/>
<rect x="90.47" y="287.22" width="21.53" height="2.11" fill="#fce4a7"/>
<rect x="90.47" y="289.19" width="21.53" height="2.11" fill="#fce3a2"/>
<rect x="90.47" y="291.15" width="21.53" height="2.11" fill="#fbe8b1"/>
<rect x="90.47" y="293.12" width="21.53" height="2.11" fill="#faeaba"/>
<rect x="90.47" y="295.08" width="21.53" height="2.11" fill="#faedc3"/>
<rect x="90.47" y="297.05" width="21.53" height="2.11" fill="#f9efc9"/>
<rect x="90.47" y="299.01" width="21.53" height="2.11" fill="#fce5a9"/>
<rect x="90.47" y="300.98" width="21.53" height="2.11" fill="#f8f2d2"/>
<rect x="90.47" y="302.94" width="21.53" height="2.11" fill="#faedc3"/>
<rect x="90.47" y="304.90" width="21.53" height="2.11" fill="#fdc479"/>
<rect x="90.47" y="306.87" width="21.53" height="2.11" fill="#fdc378"/>
<rect x="90.47" y="308.83" width="21.53" height="2.11" fill="#fcb46b"/>
<rect x="90.47" y="310.80" width="21.53" height="2.11" fill="#f99656"/>
<rect x="90.47" y="312.76" width="21.53" height="2.11" fill="#fa9b58"/>
<rect x="90.47" y="314.73" width="21.53" height="2.11" fill="#fba25d"/>
<rect x="90.47" y="316.69" width="21.53" height="2.11" fill="#fcb068"/>
<rect x="90.47" y="318.66" width="21.53" height="2.11" fill="#fcae66"/>
<rect x="90.47" y="320.62" width="21.53" height="2.11" fill="#fa9756"/>
<rect x="90.47" y="322.59" width="21.53" height="2.11" fill="#fba65f"/>
<rect x="90.47" y="324.55" width="21.53" height="2.11" fill="#fcbd73"/>
<rect x="90.47" y="326.51" width="21.53" height="2.11" fill="#fdcd7f"/>
<rect x="90.47" y="328.48" width="21.53" height="2.11" fill="#fdd284"/>
<rect x="90.47" y="330.44" width="21.53" height="2.11" fill="#feda8b"/>
<rect x="90.47" y="332.41" width="21.53" height="2.11" fill="#fcac64"/>
<rect x="90.47" y="334.37" width="21.53" height="2.11" fill="#fba15c"/>
<rect x="90.47" y="336.34" width="21.53" height="2.11" fill="#fba861"/>
<rect x="90.47" y="338.30" width="21.53" height="2.11" fill="#f78850"/>
<rect x="90.47" y="340.27" width="21.53" height="2.11" fill="#fba35d"/>
<rect x="90.47" y="342.23" width="21.53" height="2.11" fill="#f99455"/>
<rect x="90.47" y="344.20" width="21.53" height="2.11" fill="#f78b51"/>
<rect x="90.47" y="346.16" width="21.53" height="2.11" fill="#fcb76e"/>
<rect x="90.47" y="348.12" width="21.53" height="2.11" fill="#fdcf82"/>
<rect x="90.47" y="350.09" width="21.53" height="2.11" fill="#fdcf82"/>
<rect x="90.47" y="352.05" width="21.53" height="2.11" fill="#fcaa63"/>
<rect x="90.47" y="354.02" width="21.53" height="2.11" fill="#f88d52"/>
<rect x="90.47" y="355.98" width="21.53" height="2.11" fill="#fcb169"/>
<rect x="90.47" y="357.95" width="21.53" height="2.11" fill="#f99656"/>
<rect x="90.47" y="359.91" width="21.53" height="2.11" fill="#fba55f"/>
<rect x="90.47" y="361.88" width="21.53" height="2.11" fill="#fcad66"/>
<rect x="90.47" y="363.84" width="21.53" height="2.11" fill="#fcb56c"/>
<rect x="90.47" y="365.81" width="21.53" height="2.11" fill="#fcb56c"/>
<rect x="90.47" y="367.77" width="21.53" height="2.11" fill="#fed385"/>
<rect x="90.47" y="369.73" width="21.53" height="2.11" fill="#fed385"/>
<rect x="90.47" y="371.70" width="21.53" height="2.11" fill="#fed889"/>
<rect x="90.47" y="373.66" width="21.53" height="2.11" fill="#fcb76e"/>
<rect x="90.47" y="375.63" width="21.53" height="2.11" fill="#f6844d"/>
<rect x="90.47" y="377.59" width="21.53" height="2.11" fill="#eb5739"/>
<rect x="90.47" y="379.56" width="21.53" height="2.11" fill="#f6834d"/>
<rect x="90.47" y="381.52" width="21.53" height="2.11" fill="#fcb66d"/>
<rect x="90.47" y="383.49" width="21.53" height="2.11" fill="#fcb76e"/>
<rect x="90.47" y="385.45" width="21.53" height="2.11" fill="#fdc277"/>
<rect x="90.47" y="387.42" width="21.53" height="2.11" fill="#f88c51"/>
<rect x="90.47" y="389.38" width="21.53" height="2.11" fill="#fdcd7f"/>
<rect x="90.47" y="391.34" width="21.53" height="2.11" fill="#fedc8d"/>
<rect x="90.47" y="393.31" width="21.53" height="2.11" fill="#fdd183"/>
<rect x="90.47" y="395.27" width="21.53" height="2.11" fill="#fdcf81"/>
<rect x="90.47" y="397.24" width="21.53" height="2.11" fill="#fce29f"/>
<rect x="90.47" y="399.20" width="21.53" height="2.11" fill="#fcb46b"/>
<rect x="90.47" y="401.17" width="21.53" height="2.11" fill="#fcaf67"/>
<rect x="90.47" y="403.13" width="21.53" height="2.11" fill="#fba761"/>
<rect x="90.47" y="405.10" width="21.53" height="2.11" fill="#fba15c"/>
<rect x="90.47" y="407.06" width="21.53" height="2.11" fill="#fba760"/>
<rect x="90.47" y="409.03" width="21.53" height="2.11" fill="#fba05a"/>
<rect x="90.47" y="410.99" width="21.53" height="2.11" fill="#fcaa63"/>
<rect x="90.47" y="412.95" width="21.53" height="2.11" fill="#fcb66d"/>
<rect x="90.47" y="414.92" width="21.53" height="2.11" fill="#f88f53"/>
<rect x="90.47" y="416.88" width="21.53" height="2.11" fill="#f89053"/>
<rect x="90.47" y="418.85" width="21.53" height="2.11" fill="#f88e52"/>
<rect x="90.47" y="420.81" width="21.53" height="2.11" fill="#fcb46b"/>
<rect x="90.47" y="422.78" width="21.53" height="2.11" fill="#fcad66"/>
<rect x="90.47" y="424.74" width="21.53" height="2.11" fill="#fa9857"/>
<rect x="90.47" y="426.71" width="21.53" height="2.11" fill="#fcb36a"/>
<rect x="90.47" y="428.67" width="21.53" height="2.11" fill="#f99656"/>
<rect x="90.47" y="430.64" width="21.53" height="2.11" fill="#fba15c"/>
<rect x="111.85" y="216.50" width="21.53" height="2.11" fill="#fdc176"/>
<rect x="111.85" y="218.46" width="21.53" height="2.11" fill="#fdc87b"/>
<rect x="111.85" y="220.43" width="21.53" height="2.11" fill="#fdc478"/>
<rect x="111.85" y="222.39" width="21.53" height="2.11" fill="#fcae66"/>
<rect x="111.85" y="224.36" width="21.53" height="2.11" fill="#fdc377"/>
<rect x="111.85" y="226.32" width="21.53" height="2.11" fill="#f0623e"/>
<rect x="111.85" y="228.29" width="21.53" height="2.11" fill="#f6834d"/>
<rect x="111.85" y="230.25" width="21.53" height="2.11" fill="#fa9857"/>
<rect x="111.85" y="232.22" width="21.53" height="2.11" fill="#f6814c"/>
<rect x="111.85" y="234.18" width="21.53" height="2.11" fill="#fa9a58"/>
<rect x="111.85" y="236.15" width="21.53" height="2.11" fill="#fa9957"/>
<rect x="111.85" y="238.11" width="21.53" height="2.11" fill="#f57e4b"/>
<rect x="111.85" y="240.07" width="21.53" height="2.11" fill="#fb9e5a"/>
<rect x="111.85" y="242.04" width="21.53" height="2.11" fill="#fedc8d"/>
<rect x="111.85" y="244.00" width="21.53" height="2.11" fill="#fdc479"/>
<rect x="111.85" y="245.97" width="21.53" height="2.11" fill="#f99355"/>
<rect x="111.85" y="247.93" width="21.53" height="2.11" fill="#f78a50"/>
<rect x="111.85" y="249.90" width="21.53" height="2.11" fill="#f2f5e4"/>
<rect x="111.85" y="251.86" width="21.53" height="2.11" fill="#e7f0e6"/>
<rect x="111.85" y="253.83" width="21.53" height="2.11" fill="#e4efe6"/>
<rect x="111.85" y="255.79" width="21.53" height="2.11" fill="#daeae8"/>
<rect x="111.85" y="257.76" width="21.53" height="2.11" fill="#ddece8"/>
<rect x="111.85" y="259.72" width="21.53" height="2.11" fill="#e0ede7"/>
<rect x="111.85" y="261.68" width="21.53" height="2.11" fill="#e2eee7"/>
<rect x="111.85" y="263.65" width="21.53" height="2.11" fill="#f1f5e4"/>
<rect x="111.85" y="265.61" width="21.53" height="2.11" fill="#ebf2e5"/>
<rect x="111.85" y="267.58" width="21.53" height="2.11" fill="#daeae8"/>
<rect x="111.85" y="269.54" width="21.53" height="2.11" fill="#ebf2e5"/>
<rect x="111.85" y="271.51" width="21.53" height="2.11" fill="#deece7"/>
<rect x="111.85" y="273.47" width="21.53" height="2.11" fill="#deece7"/>
<rect x="111.85" y="275.44" width="21.53" height="2.11" fill="#e1eee7"/>
<rect x="111.85" y="277.40" width="21.53" height="2.11" fill="#e0ede7"/>
<rect x="111.85" y="279.37" width="21.53" height="2.11" fill="#d9eae8"/>
<rect x="111.85" y="281.33" width="21.53" height="2.11" fill="#ddece8"/>
<rect x="111.85" y="283.29" width="21.53" height="2.11" fill="#f7f6e0"/>
<rect x="111.85" y="285.26" width="21.53" height="2.11" fill="#ebf2e5"/>
<rect x="111.85" y="287.22" width="21.53" height="2.11" fill="#e8f1e6"/>
<rect x="111.85" y="289.19" width="21.53" height="2.11" fill="#f4f6e4"/>
<rect x="111.85" y="291.15" width="21.53" height="2.11" fill="#f7f7e3"/>
<rect x="111.85" y="293.12" width="21.53" height="2.11" fill="#f7f7e1"/>
<rect x="111.85" y="295.08" width="21.53" height="2.11" fill="#f7f6df"/>
<rect x="111.85" y="297.05" width="21.53" height="2.11" fill="#ddece8"/>
<rect x="111.85" y="299.01" width="21.53" height="2.11" fill="#d9eae8"/>
<rect x="111.85" y="300.98" width="21.53" height="2.11" fill="#e1ede7"/>
<rect x="111.85" y="302.94" width="21.53" height="2.11" fill="#e9f1e5"/>
<rect x="111.85" y="304.90" width="21.53" height="2.11" fill="#b0d7ec"/>
<rect x="111.85" y="306.87" width="21.53" height="2.11" fill="#abd4ea"/>
<rect x="111.85" y="308.83" width="21.53" height="2.11" fill="#91c3e2"/>
<rect x="111.85" y="310.80" width="21.53" height="2.11" fill="#8bc0e0"/>
<rect x="111.85" y="312.76" width="21.53" height="2.11" fill="#80b9dd"/>
<rect x="111.85" y="314.73" width="21.53" height="2.11" fill="#89bfdf"/>
<rect x="111.85" y="316.69" width="21.53" height="2.11" fill="#9dcbe5"/>
<rect x="111.85" y="318.66" width="21.53" height="2.11" fill="#85bcde"/>
<rect x="111.85" y="320.62" width="21.53" height="2.11" fill="#68aad5"/>
<rect x="111.85" y="322.59" width="21.53" height="2.11" fill="#5aa1d0"/>
<rect x="111.85" y="324.55" width="21.53" height="2.11" fill="#8fc3e1"/>
<rect x="111.85" y="326.51" width="21.53" height="2.11" fill="#b4daed"/>
<rect x="111.85" y="328.48" width="21.53" height="2.11" fill="#bddeed"/>
<rect x="111.85" y="330.44" width="21.53" height="2.11" fill="#bedfed"/>
<rect x="111.85" y="332.41" width="21.53" height="2.11" fill="#bedfed"/>
<rect x="111.85" y="334.37" width="21.53" height="2.11" fill="#a4d0e8"/>
<rect x="111.85" y="336.34" width="21.53" height="2.11" fill="#abd4ea"/>
<rect x="111.85" y="338.30" width="21.53" height="2.11" fill="#75b2d9"/>
<rect x="111.85" y="340.27" width="21.53" height="2.11" fill="#74b2d9"/>
<rect x="111.85" y="342.23" width="21.53" height="2.11" fill="#62a6d3"/>
<rect x="111.85" y="344.20" width="21.53" height="2.11" fill="#89bfdf"/>
<rect x="111.85" y="346.16" width="21.53" height="2.11" fill="#72b1d8"/>
<rect x="111.85" y="348.12" width="21.53" height="2.11" fill="#76b3d9"/>
<rect x="111.85" y="350.09" width="21.53" height="2.11" fill="#89bfdf"/>
<rect x="111.85" y="352.05" width="21.53" height="2.11" fill="#b3d9ed"/>
<rect x="111.85" y="354.02" width="21.53" height="2.11" fill="#82bbdd"/>
<rect x="111.85" y="355.98" width="21.53" height="2.11" fill="#63a7d3"/>
<rect x="111.85" y="357.95" width="21.53" height="2.11" fill="#8cc1e0"/>
<rect x="111.85" y="359.91" width="21.53" height="2.11" fill="#62a7d3"/>
<rect x="111.85" y="361.88" width="21.53" height="2.11" fill="#80b9dd"/>
<rect x="111.85" y="363.84" width="21.53" height="2.11" fill="#6eaed7"/>
<rect x="111.85" y="365.81" width="21.53" height="2.11" fill="#73b1d9"/>
<rect x="111.85" y="367.77" width="21.53" height="2.11" fill="#4c93c7"/>
<rect x="111.85" y="369.73" width="21.53" height="2.11" fill="#74b2d9"/>
<rect x="111.85" y="371.70" width="21.53" height="2.11" fill="#69abd6"/>
<rect x="111.85" y="373.66" width="21.53" height="2.11" fill="#5aa0cf"/>
<rect x="111.85" y="375.63" width="21.53" height="2.11" fill="#b0d7eb"/>
<rect x="111.85" y="377.59" width="21.53" height="2.11" fill="#b3d9ec"/>
<rect x="111.85" y="379.56" width="21.53" height="2.11" fill="#f7f7e2"/>
<rect x="111.85" y="381.52" width="21.53" height="2.11" fill="#d4e8e9"/>
<rect x="111.85" y="383.49" width="21.53" height="2.11" fill="#aad3ea"/>
<rect x="111.85" y="385.45" width="21.53" height="2.11" fill="#488fc3"/>
<rect x="111.85" y="387.42" width="21.53" height="2.11" fill="#5298ca"/>
<rect x="111.85" y="389.38" width="21.53" height="2.11" fill="#c9e3eb"/>
<rect x="111.85" y="391.34" width="21.53" height="2.11" fill="#c8e3eb"/>
<rect x="111.85" y="393.31" width="21.53" height="2.11" fill="#c9e3eb"/>
<rect x="111.85" y="395.27" width="21.53" height="2.11" fill="#a6d1e8"/>
<rect x="111.85" y="397.24" width="21.53" height="2.11" fill="#aed6eb"/>
<rect x="111.85" y="399.20" width="21.53" height="2.11" fill="#9fcce6"/>
<rect x="111.85" y="401.17" width="21.53" height="2.11" fill="#80b9dd"/>
<rect x="111.85" y="403.13" width="21.53" height="2.11" fill="#b0d7eb"/>
<rect x="111.85" y="405.10" width="21.53" height="2.11" fill="#c0e0ed"/>
<rect x="111.85" y="407.06" width="21.53" height="2.11" fill="#bbdded"/>
<rect x="111.85" y="409.03" width="21.53" height="2.11" fill="#92c4e2"/>
<rect x="111.85" y="410.99" width="21.53" height="2.11" fill="#5ea4d2"/>
<rect x="111.85" y="412.95" width="21.53" height="2.11" fill="#8dc1e1"/>
<rect x="111.85" y="414.92" width="21.53" height="2.11" fill="#95c6e3"/>
<rect x="111.85" y="416.88" width="21.53" height="2.11" fill="#69abd6"/>
<rect x="111.85" y="418.85" width="21.53" height="2.11" fill="#83bbdd"/>
<rect x="111.85" y="420.81" width="21.53" height="2.11" fill="#64a8d4"/>
<rect x="111.85" y="422.78" width="21.53" height="2.11" fill="#81badd"/>
<rect x="111.85" y="424.74" width="21.53" height="2.11" fill="#96c7e3"/>
<rect x="111.85" y="426.71" width="21.53" height="2.11" fill="#a8d2e9"/>
<rect x="111.85" y="428.67" width="21.53" height="2.11" fill="#aed6eb"/>
<rect x="111.85" y="430.64" width="21.53" height="2.11" fill="#b0d7eb"/>
<rect x="133.23" y="216.50" width="21.53" height="2.11" fill="#fcbd72"/>
<rect x="133.23" y="218.46" width="21.53" height="2.11" fill="#fcba70"/>
<rect x="133.23" y="220.43" width="21.53" height="2.11" fill="#fcbb71"/>
<rect x="133.23" y="222.39" width="21.53" height="2.11" fill="#fcb66d"/>
<rect x="133.23" y="224.36" width="21.53" height="2.11" fill="#fba962"/>
<rect x="133.23" y="226.32" width="21.53" height="2.11" fill="#fde19b"/>
<rect x="133.23" y="228.29" width="21.53" height="2.11" fill="#fdd083"/>
<rect x="133.23" y="230.25" width="21.53" height="2.11" fill="#f9efc8"/>
<rect x="133.23" y="232.22" width="21.53" height="2.11" fill="#fbe7b0"/>
<rect x="133.23" y="234.18" width="21.53" height="2.11" fill="#fbe7b0"/>
<rect x="133.23" y="236.15" width="21.53" height="2.11" fill="#fdcf81"/>
<rect x="133.23" y="238.11" width="21.53" height="2.11" fill="#fdce81"/>
<rect x="133.23" y="240.07" width="21.53" height="2.11" fill="#fdc87c"/>
<rect x="133.23" y="242.04" width="21.53" height="2.11" fill="#fcbb71"/>
<rect x="133.23" y="244.00" width="21.53" height="2.11" fill="#fdc77b"/>
<rect x="133.23" y="245.97" width="21.53" height="2.11" fill="#fcae66"/>
<rect x="133.23" y="247.93" width="21.53" height="2.11" fill="#fdcb7e"/>
<rect x="133.23" y="249.90" width="21.53" height="2.11" fill="#4b92c6"/>
<rect x="133.23" y="251.86" width="21.53" height="2.11" fill="#4d94c7"/>
<rect x="133.23" y="253.83" width="21.53" height="2.11" fill="#4e95c8"/>
<rect x="133.23" y="255.79" width="21.53" height="2.11" fill="#458cc2"/>
<rect x="133.23" y="257.76" width="21.53" height="2.11" fill="#2a72b0"/>
<rect x="133.23" y="259.72" width="21.53" height="2.11" fill="#458cc2"/>
<rect x="133.23" y="261.68" width="21.53" height="2.11" fill="#62a6d3"/>
<rect x="133.23" y="263.65" width="21.53" height="2.11" fill="#59a0cf"/>
<rect x="133.23" y="265.61" width="21.53" height="2.11" fill="#438ac0"/>
<rect x="133.23" y="267.58" width="21.53" height="2.11" fill="#4f95c8"/>
<rect x="133.23" y="269.54" width="21.53" height="2.11" fill="#5da3d1"/>
<rect x="133.23" y="271.51" width="21.53" height="2.11" fill="#569ccc"/>
<rect x="133.23" y="273.47" width="21.53" height="2.11" fill="#559bcc"/>
<rect x="133.23" y="275.44" width="21.53" height="2.11" fill="#82bbdd"/>
<rect x="133.23" y="277.40" width="21.53" height="2.11" fill="#4e94c7"/>
<rect x="133.23" y="279.37" width="21.53" height="2.11" fill="#468dc2"/>
<rect x="133.23" y="281.33" width="21.53" height="2.11" fill="#2a72b0"/>
<rect x="133.23" y="283.29" width="21.53" height="2.11" fill="#2d75b2"/>
<rect x="133.23" y="285.26" width="21.53" height="2.11" fill="#3078b4"/>
<rect x="133.23" y="287.22" width="21.53" height="2.11" fill="#2d75b2"/>
<rect x="133.23" y="289.19" width="21.53" height="2.11" fill="#3179b5"/>
<rect x="133.23" y="291.15" width="21.53" height="2.11" fill="#6bacd6"/>
<rect x="133.23" y="293.12" width="21.53" height="2.11" fill="#5aa0cf"/>
<rect x="133.23" y="295.08" width="21.53" height="2.11" fill="#559bcc"/>
<rect x="133.23" y="297.05" width="21.53" height="2.11" fill="#a1cde7"/>
<rect x="133.23" y="299.01" width="21.53" height="2.11" fill="#78b4da"/>
<rect x="133.23" y="300.98" width="21.53" height="2.11" fill="#5ba1d0"/>
<rect x="133.23" y="302.94" width="21.53" height="2.11" fill="#73b1d8"/>
<rect x="133.23" y="304.90" width="21.53" height="2.11" fill="#5ba1d0"/>
<rect x="133.23" y="306.87" width="21.53" height="2.11" fill="#9ac9e5"/>
<rect x="133.23" y="308.83" width="21.53" height="2.11" fill="#65a8d4"/>
<rect x="133.23" y="310.80" width="21.53" height="2.11" fill="#5da3d1"/>
<rect x="133.23" y="312.76" width="21.53" height="2.11" fill="#4a91c5"/>
<rect x="133.23" y="314.73" width="21.53" height="2.11" fill="#5ba1d0"/>
<rect x="133.23" y="316.69" width="21.53" height="2.11" fill="#5299ca"/>
<rect x="133.23" y="318.66" width="21.53" height="2.11" fill="#5da3d1"/>
<rect x="133.23" y="320.62" width="21.53" height="2.11" fill="#387fb9"/>
<rect x="133.23" y="322.59" width="21.53" height="2.11" fill="#357cb7"/>
<rect x="133.23" y="324.55" width="21.53" height="2.11" fill="#4c92c6"/>
<rect x="133.23" y="326.51" width="21.53" height="2.11" fill="#589fce"/>
<rect x="133.23" y="328.48" width="21.53" height="2.11" fill="#5198ca"/>
<rect x="133.23" y="330.44" width="21.53" height="2.11" fill="#3e85bd"/>
<rect x="133.23" y="332.41" width="21.53" height="2.11" fill="#3078b4"/>
<rect x="133.23" y="334.37" width="21.53" height="2.11" fill="#3f86be"/>
<rect x="133.23" y="336.34" width="21.53" height="2.11" fill="#72b1d8"/>
<rect x="133.23" y="338.30" width="21.53" height="2.11" fill="#5298ca"/>
<rect x="133.23" y="340.27" width="21.53" height="2.11" fill="#4087be"/>
<rect x="133.23" y="342.23" width="21.53" height="2.11" fill="#387fb9"/>
<rect x="133.23" y="344.20" width="21.53" height="2.11" fill="#2d75b2"/>
<rect x="133.23" y="346.16" width="21.53" height="2.11" fill="#2a72b0"/>
<rect x="133.23" y="348.12" width="21.53" height="2.11" fill="#337ab6"/>
<rect x="133.23" y="350.09" width="21.53" height="2.11" fill="#5399cb"/>
<rect x="133.23" y="352.05" width="21.53" height="2.11" fill="#99c9e4"/>
<rect x="133.23" y="354.02" width="21.53" height="2.11" fill="#82badd"/>
<rect x="133.23" y="355.98" width="21.53" height="2.11" fill="#569dcd"/>
<rect x="133.23" y="357.95" width="21.53" height="2.11" fill="#71b0d8"/>
<rect x="133.23" y="359.91" width="21.53" height="2.11" fill="#7cb7db"/>
<rect x="133.23" y="361.88" width="21.53" height="2.11" fill="#5ca2d0"/>
<rect x="133.23" y="363.84" width="21.53" height="2.11" fill="#549acc"/>
<rect x="133.23" y="365.81" width="21.53" height="2.11" fill="#66a9d5"/>
<rect x="133.23" y="367.77" width="21.53" height="2.11" fill="#99c9e4"/>
<rect x="133.23" y="369.73" width="21.53" height="2.11" fill="#a8d2e9"/>
<rect x="133.23" y="371.70" width="21.53" height="2.11" fill="#a2cee7"/>
<rect x="133.23" y="373.66" width="21.53" height="2.11" fill="#8dc1e1"/>
<rect x="133.23" y="375.63" width="21.53" height="2.11" fill="#97c7e4"/>
<rect x="133.23" y="377.59" width="21.53" height="2.11" fill="#91c4e2"/>
<rect x="133.23" y="379.56" width="21.53" height="2.11" fill="#cee5ea"/>
<rect x="133.23" y="381.52" width="21.53" height="2.11" fill="#8fc2e1"/>
<rect x="133.23" y="383.49" width="21.53" height="2.11" fill="#81badd"/>
<rect x="133.23" y="385.45" width="21.53" height="2.11" fill="#b0d7ec"/>
<rect x="133.23" y="387.42" width="21.53" height="2.11" fill="#96c7e4"/>
<rect x="133.23" y="389.38" width="21.53" height="2.11" fill="#bedfed"/>
<rect x="133.23" y="391.34" width="21.53" height="2.11" fill="#a7d2e9"/>
<rect x="133.23" y="393.31" width="21.53" height="2.11" fill="#9fcde6"/>
<rect x="133.23" y="395.27" width="21.53" height="2.11" fill="#8abfe0"/>
<rect x="133.23" y="397.24" width="21.53" height="2.11" fill="#5da3d1"/>
<rect x="133.23" y="399.20" width="21.53" height="2.11" fill="#579dcd"/>
<rect x="133.23" y="401.17" width="21.53" height="2.11" fill="#b5daed"/>
<rect x="133.23" y="403.13" width="21.53" height="2.11" fill="#b8dcee"/>
<rect x="133.23" y="405.10" width="21.53" height="2.11" fill="#b8dcee"/>
<rect x="133.23" y="407.06" width="21.53" height="2.11" fill="#c0e0ed"/>
<rect x="133.23" y="409.03" width="21.53" height="2.11" fill="#bcdeed"/>
<rect x="133.23" y="410.99" width="21.53" height="2.11" fill="#c4e1ec"/>
<rect x="133.23" y="412.95" width="21.53" height="2.11" fill="#a4d0e8"/>
<rect x="133.23" y="414.92" width="21.53" height="2.11" fill="#91c4e2"/>
<rect x="133.23" y="416.88" width="21.53" height="2.11" fill="#b0d7eb"/>
<rect x="133.23" y="418.85" width="21.53" height="2.11" fill="#93c5e3"/>
<rect x="133.23" y="420.81" width="21.53" height="2.11" fill="#63a7d3"/>
<rect x="133.23" y="422.78" width="21.53" height="2.11" fill="#6dadd7"/>
<rect x="133.23" y="424.74" width="21.53" height="2.11" fill="#68aad5"/>
<rect x="133.23" y="426.71" width="21.53" height="2.11" fill="#8dc1e0"/>
<rect x="133.23" y="428.67" width="21.53" height="2.11" fill="#74b1d9"/>
<rect x="133.23" y="430.64" width="21.53" height="2.11" fill="#5ca2d1"/>
<rect x="154.62" y="216.50" width="21.53" height="2.11" fill="#fcb26a"/>
<rect x="154.62" y="218.46" width="21.53" height="2.11" fill="#f88f53"/>
<rect x="154.62" y="220.43" width="21.53" height="2.11" fill="#fb9d59"/>
<rect x="154.62" y="222.39" width="21.53" height="2.11" fill="#fba05b"/>
<rect x="154.62" y="224.36" width="21.53" height="2.11" fill="#fba55f"/>
<rect x="154.62" y="226.32" width="21.53" height="2.11" fill="#fdcf81"/>
<rect x="154.62" y="228.29" width="21.53" height="2.11" fill="#fdc378"/>
<rect x="154.62" y="230.25" width="21.53" height="2.11" fill="#fcb66d"/>
<rect x="154.62" y="232.22" width="21.53" height="2.11" fill="#fedd8f"/>
<rect x="154.62" y="234.18" width="21.53" height="2.11" fill="#fdc579"/>
<rect x="154.62" y="236.15" width="21.53" height="2.11" fill="#f89053"/>
<rect x="154.62" y="238.11" width="21.53" height="2.11" fill="#fa9957"/>
<rect x="154.62" y="240.07" width="21.53" height="2.11" fill="#f37446"/>
<rect x="154.62" y="242.04" width="21.53" height="2.11" fill="#f7874f"/>
<rect x="154.62" y="244.00" width="21.53" height="2.11" fill="#f37145"/>
<rect x="154.62" y="245.97" width="21.53" height="2.11" fill="#f37446"/>
<rect x="154.62" y="247.93" width="21.53" height="2.11" fill="#f99555"/>
<rect x="154.62" y="249.90" width="21.53" height="2.11" fill="#9ecce6"/>
<rect x="154.62" y="251.86" width="21.53" height="2.11" fill="#b1d7ec"/>
<rect x="154.62" y="253.83" width="21.53" height="2.11" fill="#96c7e4"/>
<rect x="154.62" y="255.79" width="21.53" height="2.11" fill="#4289c0"/>
<rect x="154.62" y="257.76" width="21.53" height="2.11" fill="#5096c9"/>
<rect x="154.62" y="259.72" width="21.53" height="2.11" fill="#5aa0d0"/>
<rect x="154.62" y="261.68" width="21.53" height="2.11" fill="#4c92c6"/>
<rect x="154.62" y="263.65" width="21.53" height="2.11" fill="#a9d3e9"/>
<rect x="154.62" y="265.61" width="21.53" height="2.11" fill="#8dc1e1"/>
<rect x="154.62" y="267.58" width="21.53" height="2.11" fill="#77b4da"/>
<rect x="154.62" y="269.54" width="21.53" height="2.11" fill="#6fafd7"/>
<rect x="154.62" y="271.51" width="21.53" height="2.11" fill="#5aa0cf"/>
<rect x="154.62" y="273.47" width="21.53" height="2.11" fill="#5399cb"/>
<rect x="154.62" y="275.44" width="21.53" height="2.11" fill="#66a9d5"/>
<rect x="154.62" y="277.40" width="21.53" height="2.11" fill="#80b9dd"/>
<rect x="154.62" y="279.37" width="21.53" height="2.11" fill="#6bacd6"/>
<rect x="154.62" y="281.33" width="21.53" height="2.11" fill="#72b0d8"/>
<rect x="154.62" y="283.29" width="21.53" height="2.11" fill="#4d94c7"/>
<rect x="154.62" y="285.26" width="21.53" height="2.11" fill="#73b1d8"/>
<rect x="154.62" y="287.22" width="21.53" height="2.11" fill="#5ca2d0"/>
<rect x="154.62" y="289.19" width="21.53" height="2.11" fill="#75b2d9"/>
<rect x="154.62" y="291.15" width="21.53" height="2.11" fill="#599fcf"/>
<rect x="154.62" y="293.12" width="21.53" height="2.11" fill="#589ece"/>
<rect x="154.62" y="295.08" width="21.53" height="2.11" fill="#71b0d8"/>
<rect x="154.62" y="297.05" width="21.53" height="2.11" fill="#5197c9"/>
<rect x="154.62" y="299.01" width="21.53" height="2.11" fill="#c5e1ec"/>
<rect x="154.62" y="300.98" width="21.53" height="2.11" fill="#f0f4e4"/>
<rect x="154.62" y="302.94" width="21.53" height="2.11" fill="#e9f1e5"/>
<rect x="154.62" y="304.90" width="21.53" height="2.11" fill="#deece7"/>
<rect x="154.62" y="306.87" width="21.53" height="2.11" fill="#f5f6e3"/>
<rect x="154.62" y="308.83" width="21.53" height="2.11" fill="#f8f3d8"/>
<rect x="154.62" y="310.80" width="21.53" height="2.11" fill="#f7f7e3"/>
<rect x="154.62" y="312.76" width="21.53" height="2.11" fill="#ddece8"/>
<rect x="154.62" y="314.73" width="21.53" height="2.11" fill="#daeae8"/>
<rect x="154.62" y="316.69" width="21.53" height="2.11" fill="#e6f0e6"/>
<rect x="154.62" y="318.66" width="21.53" height="2.11" fill="#dfede7"/>
<rect x="154.62" y="320.62" width="21.53" height="2.11" fill="#d2e7e9"/>
<rect x="154.62" y="322.59" width="21.53" height="2.11" fill="#cbe4eb"/>
<rect x="154.62" y="324.55" width="21.53" height="2.11" fill="#cce5ea"/>
<rect x="154.62" y="326.51" width="21.53" height="2.11" fill="#d7e9e9"/>
<rect x="154.62" y="328.48" width="21.53" height="2.11" fill="#d5e8e9"/>
<rect x="154.62" y="330.44" width="21.53" height="2.11" fill="#dcebe8"/>
<rect x="154.62" y="332.41" width="21.53" height="2.11" fill="#f8f2d2"/>
<rect x="154.62" y="334.37" width="21.53" height="2.11" fill="#f9eec6"/>
<rect x="154.62" y="336.34" width="21.53" height="2.11" fill="#edf3e5"/>
<rect x="154.62" y="338.30" width="21.53" height="2.11" fill="#edf3e5"/>
<rect x="154.62" y="340.27" width="21.53" height="2.11" fill="#eaf2e5"/>
<rect x="154.62" y="342.23" width="21.53" height="2.11" fill="#e6f0e6"/>
<rect x="154.62" y="344.20" width="21.53" height="2.11" fill="#b9dcee"/>
<rect x="154.62" y="346.16" width="21.53" height="2.11" fill="#9dcbe6"/>
<rect x="154.62" y="348.12" width="21.53" height="2.11" fill="#8ec2e1"/>
<rect x="154.62" y="350.09" width="21.53" height="2.11" fill="#84bcde"/>
<rect x="154.62" y="352.05" width="21.53" height="2.11" fill="#88bedf"/>
<rect x="154.62" y="354.02" width="21.53" height="2.11" fill="#b8dcee"/>
<rect x="154.62" y="355.98" width="21.53" height="2.11" fill="#bfdfed"/>
<rect x="154.62" y="357.95" width="21.53" height="2.11" fill="#80b9dd"/>
<rect x="154.62" y="359.91" width="21.53" height="2.11" fill="#7ab6db"/>
<rect x="154.62" y="361.88" width="21.53" height="2.11" fill="#6bacd6"/>
<rect x="154.62" y="363.84" width="21.53" height="2.11" fill="#99c9e4"/>
<rect x="154.62" y="365.81" width="21.53" height="2.11" fill="#9ecce6"/>
<rect x="154.62" y="367.77" width="21.53" height="2.11" fill="#b8dcee"/>
<rect x="154.62" y="369.73" width="21.53" height="2.11" fill="#a5d0e8"/>
<rect x="154.62" y="371.70" width="21.53" height="2.11" fill="#5ea4d2"/>
<rect x="154.62" y="373.66" width="21.53" height="2.11" fill="#85bcde"/>
<rect x="154.62" y="375.63" width="21.53" height="2.11" fill="#93c5e3"/>
<rect x="154.62" y="377.59" width="21.53" height="2.11" fill="#a5d0e8"/>
<rect x="154.62" y="379.56" width="21.53" height="2.11" fill="#71b0d8"/>
<rect x="154.62" y="381.52" width="21.53" height="2.11" fill="#84bbde"/>
<rect x="154.62" y="383.49" width="21.53" height="2.11" fill="#74b2d9"/>
<rect x="154.62" y="385.45" width="21.53" height="2.11" fill="#6bacd6"/>
<rect x="154.62" y="387.42" width="21.53" height="2.11" fill="#89bfe0"/>
<rect x="154.62" y="389.38" width="21.53" height="2.11" fill="#9ac9e5"/>
<rect x="154.62" y="391.34" width="21.53" height="2.11" fill="#79b5da"/>
<rect x="154.62" y="393.31" width="21.53" height="2.11" fill="#549bcc"/>
<rect x="154.62" y="395.27" width="21.53" height="2.11" fill="#3a81ba"/>
<rect x="154.62" y="397.24" width="21.53" height="2.11" fill="#4d93c7"/>
<rect x="154.62" y="399.20" width="21.53" height="2.11" fill="#8abfe0"/>
<rect x="154.62" y="401.17" width="21.53" height="2.11" fill="#8dc1e0"/>
<rect x="154.62" y="403.13" width="21.53" height="2.11" fill="#5097c9"/>
<rect x="154.62" y="405.10" width="21.53" height="2.11" fill="#549acb"/>
<rect x="154.62" y="407.06" width="21.53" height="2.11" fill="#7ab5db"/>
<rect x="154.62" y="409.03" width="21.53" height="2.11" fill="#bcdeed"/>
<rect x="154.62" y="410.99" width="21.53" height="2.11" fill="#cbe4eb"/>
<rect x="154.62" y="412.95" width="21.53" height="2.11" fill="#bfdfed"/>
<rect x="154.62" y="414.92" width="21.53" height="2.11" fill="#b4daed"/>
<rect x="154.62" y="416.88" width="21.53" height="2.11" fill="#82badd"/>
<rect x="154.62" y="418.85" width="21.53" height="2.11" fill="#7bb6db"/>
<rect x="154.62" y="420.81" width="21.53" height="2.11" fill="#7bb6db"/>
<rect x="154.62" y="422.78" width="21.53" height="2.11" fill="#6cadd6"/>
<rect x="154.62" y="424.74" width="21.53" height="2.11" fill="#80b9dd"/>
<rect x="154.62" y="426.71" width="21.53" height="2.11" fill="#7cb7db"/>
<rect x="154.62" y="428.67" width="21.53" height="2.11" fill="#92c4e2"/>
<rect x="154.62" y="430.64" width="21.53" height="2.11" fill="#c0dfed"/>
<rect x="223.6" y="207.6" width="71.45" height="7.90" fill="#f3837a"/>
<rect x="295.05" y="207.6" width="71.45" height="7.90" fill="#14a8a2"/>
<g stroke="#a8a8a8" stroke-width="0.35">
<rect x="223.60" y="217.70" width="23.82" height="6.31" fill="#82badd"/>
<rect x="247.42" y="217.70" width="23.82" height="6.31" fill="#5ea4d2"/>
<rect x="271.23" y="217.70" width="23.82" height="6.31" fill="#94c6e3"/>
<rect x="295.05" y="217.70" width="23.82" height="6.31" fill="#fcb76e"/>
<rect x="318.87" y="217.70" width="23.82" height="6.31" fill="#fcb76e"/>
<rect x="342.68" y="217.70" width="23.82" height="6.31" fill="#fb9f5a"/>
<rect x="223.60" y="224.01" width="23.82" height="6.31" fill="#82badd"/>
<rect x="247.42" y="224.01" width="23.82" height="6.31" fill="#82badd"/>
<rect x="271.23" y="224.01" width="23.82" height="6.31" fill="#82badd"/>
<rect x="295.05" y="224.01" width="23.82" height="6.31" fill="#fdc478"/>
<rect x="318.87" y="224.01" width="23.82" height="6.31" fill="#fcab64"/>
<rect x="342.68" y="224.01" width="23.82" height="6.31" fill="#fcab64"/>
<rect x="223.60" y="230.32" width="23.82" height="6.31" fill="#82badd"/>
<rect x="247.42" y="230.32" width="23.82" height="6.31" fill="#82badd"/>
<rect x="271.23" y="230.32" width="23.82" height="6.31" fill="#70afd8"/>
<rect x="295.05" y="230.32" width="23.82" height="6.31" fill="#fcb76e"/>
<rect x="318.87" y="230.32" width="23.82" height="6.31" fill="#fcb76e"/>
<rect x="342.68" y="230.32" width="23.82" height="6.31" fill="#fb9f5a"/>
<rect x="223.60" y="236.63" width="23.82" height="6.31" fill="#4b92c6"/>
<rect x="247.42" y="236.63" width="23.82" height="6.31" fill="#82badd"/>
<rect x="271.23" y="236.63" width="23.82" height="6.31" fill="#d1e7ea"/>
<rect x="295.05" y="236.63" width="23.82" height="6.31" fill="#fdd082"/>
<rect x="318.87" y="236.63" width="23.82" height="6.31" fill="#fcab64"/>
<rect x="342.68" y="236.63" width="23.82" height="6.31" fill="#f99354"/>
<rect x="223.60" y="242.94" width="23.82" height="6.31" fill="#82badd"/>
<rect x="247.42" y="242.94" width="23.82" height="6.31" fill="#4b92c6"/>
<rect x="271.23" y="242.94" width="23.82" height="6.31" fill="#deece7"/>
<rect x="295.05" y="242.94" width="23.82" height="6.31" fill="#fdd082"/>
<rect x="318.87" y="242.94" width="23.82" height="6.31" fill="#fcab64"/>
<rect x="342.68" y="242.94" width="23.82" height="6.31" fill="#fcab64"/>
<rect x="223.60" y="249.24" width="23.82" height="6.31" fill="#70afd8"/>
<rect x="247.42" y="249.24" width="23.82" height="6.31" fill="#5ea4d2"/>
<rect x="271.23" y="249.24" width="23.82" height="6.31" fill="#deece7"/>
<rect x="295.05" y="249.24" width="23.82" height="6.31" fill="#fdd082"/>
<rect x="318.87" y="249.24" width="23.82" height="6.31" fill="#fdc478"/>
<rect x="342.68" y="249.24" width="23.82" height="6.31" fill="#fb9f5a"/>
<rect x="223.60" y="255.55" width="23.82" height="6.31" fill="#70afd8"/>
<rect x="247.42" y="255.55" width="23.82" height="6.31" fill="#5ea4d2"/>
<rect x="271.23" y="255.55" width="23.82" height="6.31" fill="#deece7"/>
<rect x="295.05" y="255.55" width="23.82" height="6.31" fill="#fdd082"/>
<rect x="318.87" y="255.55" width="23.82" height="6.31" fill="#fcab64"/>
<rect x="342.68" y="255.55" width="23.82" height="6.31" fill="#f99354"/>
<rect x="223.60" y="261.86" width="23.82" height="6.31" fill="#94c6e3"/>
<rect x="247.42" y="261.86" width="23.82" height="6.31" fill="#f8f2d2"/>
<rect x="271.23" y="261.86" width="23.82" height="6.31" fill="#4289bf"/>
<rect x="295.05" y="261.86" width="23.82" height="6.31" fill="#fedc8c"/>
<rect x="318.87" y="261.86" width="23.82" height="6.31" fill="#f99354"/>
<rect x="342.68" y="261.86" width="23.82" height="6.31" fill="#fdd082"/>
<rect x="223.60" y="268.17" width="23.82" height="6.31" fill="#94c6e3"/>
<rect x="247.42" y="268.17" width="23.82" height="6.31" fill="#70afd8"/>
<rect x="271.23" y="268.17" width="23.82" height="6.31" fill="#d1e7ea"/>
<rect x="295.05" y="268.17" width="23.82" height="6.31" fill="#fbe7af"/>
<rect x="318.87" y="268.17" width="23.82" height="6.31" fill="#f47a49"/>
<rect x="342.68" y="268.17" width="23.82" height="6.31" fill="#fdd082"/>
<rect x="223.60" y="274.48" width="23.82" height="6.31" fill="#94c6e3"/>
<rect x="247.42" y="274.48" width="23.82" height="6.31" fill="#70afd8"/>
<rect x="271.23" y="274.48" width="23.82" height="6.31" fill="#d1e7ea"/>
<rect x="295.05" y="274.48" width="23.82" height="6.31" fill="#fde19d"/>
<rect x="318.87" y="274.48" width="23.82" height="6.31" fill="#f7874f"/>
<rect x="342.68" y="274.48" width="23.82" height="6.31" fill="#fdc478"/>
<rect x="223.60" y="280.79" width="23.82" height="6.31" fill="#94c6e3"/>
<rect x="247.42" y="280.79" width="23.82" height="6.31" fill="#5ea4d2"/>
<rect x="271.23" y="280.79" width="23.82" height="6.31" fill="#d1e7ea"/>
<rect x="295.05" y="280.79" width="23.82" height="6.31" fill="#fde19d"/>
<rect x="318.87" y="280.79" width="23.82" height="6.31" fill="#f99354"/>
<rect x="342.68" y="280.79" width="23.82" height="6.31" fill="#fdd082"/>
<rect x="223.60" y="287.10" width="23.82" height="6.31" fill="#b8dcee"/>
<rect x="247.42" y="287.10" width="23.82" height="6.31" fill="#70afd8"/>
<rect x="271.23" y="287.10" width="23.82" height="6.31" fill="#deece7"/>
<rect x="295.05" y="287.10" width="23.82" height="6.31" fill="#faecc0"/>
<rect x="318.87" y="287.10" width="23.82" height="6.31" fill="#e44933"/>
<rect x="342.68" y="287.10" width="23.82" height="6.31" fill="#fde19d"/>
<rect x="223.60" y="293.41" width="23.82" height="6.31" fill="#fbe7af"/>
<rect x="247.42" y="293.41" width="23.82" height="6.31" fill="#c5e1ec"/>
<rect x="271.23" y="293.41" width="23.82" height="6.31" fill="#4b92c6"/>
<rect x="295.05" y="293.41" width="23.82" height="6.31" fill="#eaf2e5"/>
<rect x="318.87" y="293.41" width="23.82" height="6.31" fill="#f99354"/>
<rect x="342.68" y="293.41" width="23.82" height="6.31" fill="#fcab64"/>
<rect x="223.60" y="299.71" width="23.82" height="6.31" fill="#d1e7ea"/>
<rect x="247.42" y="299.71" width="23.82" height="6.31" fill="#70afd8"/>
<rect x="271.23" y="299.71" width="23.82" height="6.31" fill="#70afd8"/>
<rect x="295.05" y="299.71" width="23.82" height="6.31" fill="#fbe7af"/>
<rect x="318.87" y="299.71" width="23.82" height="6.31" fill="#fb9f5a"/>
<rect x="342.68" y="299.71" width="23.82" height="6.31" fill="#f99354"/>
<rect x="223.60" y="306.02" width="23.82" height="6.31" fill="#d1e7ea"/>
<rect x="247.42" y="306.02" width="23.82" height="6.31" fill="#70afd8"/>
<rect x="271.23" y="306.02" width="23.82" height="6.31" fill="#70afd8"/>
<rect x="295.05" y="306.02" width="23.82" height="6.31" fill="#fbe7af"/>
<rect x="318.87" y="306.02" width="23.82" height="6.31" fill="#fb9f5a"/>
<rect x="342.68" y="306.02" width="23.82" height="6.31" fill="#fb9f5a"/>
<rect x="223.60" y="312.33" width="23.82" height="6.31" fill="#f8f2d2"/>
<rect x="247.42" y="312.33" width="23.82" height="6.31" fill="#70afd8"/>
<rect x="271.23" y="312.33" width="23.82" height="6.31" fill="#70afd8"/>
<rect x="295.05" y="312.33" width="23.82" height="6.31" fill="#fde19d"/>
<rect x="318.87" y="312.33" width="23.82" height="6.31" fill="#f47a49"/>
<rect x="342.68" y="312.33" width="23.82" height="6.31" fill="#fcb76e"/>
<rect x="223.60" y="318.64" width="23.82" height="6.31" fill="#fbe7af"/>
<rect x="247.42" y="318.64" width="23.82" height="6.31" fill="#4b92c6"/>
<rect x="271.23" y="318.64" width="23.82" height="6.31" fill="#559bcc"/>
<rect x="295.05" y="318.64" width="23.82" height="6.31" fill="#fde19d"/>
<rect x="318.87" y="318.64" width="23.82" height="6.31" fill="#f7874f"/>
<rect x="342.68" y="318.64" width="23.82" height="6.31" fill="#fdc478"/>
<rect x="223.60" y="324.95" width="23.82" height="6.31" fill="#f99354"/>
<rect x="247.42" y="324.95" width="23.82" height="6.31" fill="#fde19d"/>
<rect x="271.23" y="324.95" width="23.82" height="6.31" fill="#fcb76e"/>
<rect x="295.05" y="324.95" width="23.82" height="6.31" fill="#4289bf"/>
<rect x="318.87" y="324.95" width="23.82" height="6.31" fill="#fde19d"/>
<rect x="342.68" y="324.95" width="23.82" height="6.31" fill="#70afd8"/>
<rect x="223.60" y="331.26" width="23.82" height="6.31" fill="#f7874f"/>
<rect x="247.42" y="331.26" width="23.82" height="6.31" fill="#fde19d"/>
<rect x="271.23" y="331.26" width="23.82" height="6.31" fill="#fcab64"/>
<rect x="295.05" y="331.26" width="23.82" height="6.31" fill="#70afd8"/>
<rect x="318.87" y="331.26" width="23.82" height="6.31" fill="#d1e7ea"/>
<rect x="342.68" y="331.26" width="23.82" height="6.31" fill="#70afd8"/>
<rect x="223.60" y="337.57" width="23.82" height="6.31" fill="#fde19d"/>
<rect x="247.42" y="337.57" width="23.82" height="6.31" fill="#fcab64"/>
<rect x="271.23" y="337.57" width="23.82" height="6.31" fill="#f99354"/>
<rect x="295.05" y="337.57" width="23.82" height="6.31" fill="#70afd8"/>
<rect x="318.87" y="337.57" width="23.82" height="6.31" fill="#b8dcee"/>
<rect x="342.68" y="337.57" width="23.82" height="6.31" fill="#94c6e3"/>
<rect x="223.60" y="343.88" width="23.82" height="6.31" fill="#fedc8c"/>
<rect x="247.42" y="343.88" width="23.82" height="6.31" fill="#fbe7af"/>
<rect x="271.23" y="343.88" width="23.82" height="6.31" fill="#f26e44"/>
<rect x="295.05" y="343.88" width="23.82" height="6.31" fill="#70afd8"/>
<rect x="318.87" y="343.88" width="23.82" height="6.31" fill="#b8dcee"/>
<rect x="342.68" y="343.88" width="23.82" height="6.31" fill="#a6d1e8"/>
<rect x="223.60" y="350.19" width="23.82" height="6.31" fill="#fedc8c"/>
<rect x="247.42" y="350.19" width="23.82" height="6.31" fill="#fde19d"/>
<rect x="271.23" y="350.19" width="23.82" height="6.31" fill="#f7874f"/>
<rect x="295.05" y="350.19" width="23.82" height="6.31" fill="#5ea4d2"/>
<rect x="318.87" y="350.19" width="23.82" height="6.31" fill="#c5e1ec"/>
<rect x="342.68" y="350.19" width="23.82" height="6.31" fill="#c5e1ec"/>
<rect x="223.60" y="356.49" width="23.82" height="6.31" fill="#fedc8c"/>
<rect x="247.42" y="356.49" width="23.82" height="6.31" fill="#fedc8c"/>
<rect x="271.23" y="356.49" width="23.82" height="6.31" fill="#f99354"/>
<rect x="295.05" y="356.49" width="23.82" height="6.31" fill="#559bcc"/>
<rect x="318.87" y="356.49" width="23.82" height="6.31" fill="#c5e1ec"/>
<rect x="342.68" y="356.49" width="23.82" height="6.31" fill="#a6d1e8"/>
<rect x="223.60" y="362.80" width="23.82" height="6.31" fill="#fcab64"/>
<rect x="247.42" y="362.80" width="23.82" height="6.31" fill="#fedc8c"/>
<rect x="271.23" y="362.80" width="23.82" height="6.31" fill="#fcab64"/>
<rect x="295.05" y="362.80" width="23.82" height="6.31" fill="#4b92c6"/>
<rect x="318.87" y="362.80" width="23.82" height="6.31" fill="#94c6e3"/>
<rect x="342.68" y="362.80" width="23.82" height="6.31" fill="#d1e7ea"/>
<rect x="223.60" y="369.11" width="23.82" height="6.31" fill="#fedc8c"/>
<rect x="247.42" y="369.11" width="23.82" height="6.31" fill="#fdd082"/>
<rect x="271.23" y="369.11" width="23.82" height="6.31" fill="#fcab64"/>
<rect x="295.05" y="369.11" width="23.82" height="6.31" fill="#4b92c6"/>
<rect x="318.87" y="369.11" width="23.82" height="6.31" fill="#a6d1e8"/>
<rect x="342.68" y="369.11" width="23.82" height="6.31" fill="#c5e1ec"/>
<rect x="223.60" y="375.42" width="23.82" height="6.31" fill="#fdd082"/>
<rect x="247.42" y="375.42" width="23.82" height="6.31" fill="#fcb76e"/>
<rect x="271.23" y="375.42" width="23.82" height="6.31" fill="#fcab64"/>
<rect x="295.05" y="375.42" width="23.82" height="6.31" fill="#c5e1ec"/>
<rect x="318.87" y="375.42" width="23.82" height="6.31" fill="#3880b9"/>
<rect x="342.68" y="375.42" width="23.82" height="6.31" fill="#c5e1ec"/>
<rect x="223.60" y="381.73" width="23.82" height="6.31" fill="#fdd082"/>
<rect x="247.42" y="381.73" width="23.82" height="6.31" fill="#fcb76e"/>
<rect x="271.23" y="381.73" width="23.82" height="6.31" fill="#fcb76e"/>
<rect x="295.05" y="381.73" width="23.82" height="6.31" fill="#a6d1e8"/>
<rect x="318.87" y="381.73" width="23.82" height="6.31" fill="#70afd8"/>
<rect x="342.68" y="381.73" width="23.82" height="6.31" fill="#b8dcee"/>
<rect x="223.60" y="388.04" width="23.82" height="6.31" fill="#fde19d"/>
<rect x="247.42" y="388.04" width="23.82" height="6.31" fill="#f7874f"/>
<rect x="271.23" y="388.04" width="23.82" height="6.31" fill="#fedc8c"/>
<rect x="295.05" y="388.04" width="23.82" height="6.31" fill="#eaf2e5"/>
<rect x="318.87" y="388.04" width="23.82" height="6.31" fill="#5ea4d2"/>
<rect x="342.68" y="388.04" width="23.82" height="6.31" fill="#a6d1e8"/>
<rect x="223.60" y="394.35" width="23.82" height="6.31" fill="#fedc8c"/>
<rect x="247.42" y="394.35" width="23.82" height="6.31" fill="#fb9f5a"/>
<rect x="271.23" y="394.35" width="23.82" height="6.31" fill="#fedc8c"/>
<rect x="295.05" y="394.35" width="23.82" height="6.31" fill="#a6d1e8"/>
<rect x="318.87" y="394.35" width="23.82" height="6.31" fill="#deece7"/>
<rect x="342.68" y="394.35" width="23.82" height="6.31" fill="#5ea4d2"/>
<rect x="223.60" y="400.66" width="23.82" height="6.31" fill="#fedc8c"/>
<rect x="247.42" y="400.66" width="23.82" height="6.31" fill="#fb9f5a"/>
<rect x="271.23" y="400.66" width="23.82" height="6.31" fill="#fdd082"/>
<rect x="295.05" y="400.66" width="23.82" height="6.31" fill="#deece7"/>
<rect x="318.87" y="400.66" width="23.82" height="6.31" fill="#94c6e3"/>
<rect x="342.68" y="400.66" width="23.82" height="6.31" fill="#70afd8"/>
<rect x="223.60" y="406.96" width="23.82" height="6.31" fill="#fdd082"/>
<rect x="247.42" y="406.96" width="23.82" height="6.31" fill="#fb9f5a"/>
<rect x="271.23" y="406.96" width="23.82" height="6.31" fill="#fde19d"/>
<rect x="295.05" y="406.96" width="23.82" height="6.31" fill="#deece7"/>
<rect x="318.87" y="406.96" width="23.82" height="6.31" fill="#a6d1e8"/>
<rect x="342.68" y="406.96" width="23.82" height="6.31" fill="#70afd8"/>
<rect x="223.60" y="413.27" width="23.82" height="6.31" fill="#fde19d"/>
<rect x="247.42" y="413.27" width="23.82" height="6.31" fill="#fcab64"/>
<rect x="271.23" y="413.27" width="23.82" height="6.31" fill="#fcab64"/>
<rect x="295.05" y="413.27" width="23.82" height="6.31" fill="#deece7"/>
<rect x="318.87" y="413.27" width="23.82" height="6.31" fill="#b8dcee"/>
<rect x="342.68" y="413.27" width="23.82" height="6.31" fill="#5ea4d2"/>
<rect x="223.60" y="419.58" width="23.82" height="6.31" fill="#fbe7af"/>
<rect x="247.42" y="419.58" width="23.82" height="6.31" fill="#f47a49"/>
<rect x="271.23" y="419.58" width="23.82" height="6.31" fill="#fde19d"/>
<rect x="295.05" y="419.58" width="23.82" height="6.31" fill="#f8f2d2"/>
<rect x="318.87" y="419.58" width="23.82" height="6.31" fill="#b8dcee"/>
<rect x="342.68" y="419.58" width="23.82" height="6.31" fill="#3880b9"/>
<rect x="223.60" y="425.89" width="23.82" height="6.31" fill="#deece7"/>
<rect x="247.42" y="425.89" width="23.82" height="6.31" fill="#fdc478"/>
<rect x="271.23" y="425.89" width="23.82" height="6.31" fill="#fcab64"/>
<rect x="295.05" y="425.89" width="23.82" height="6.31" fill="#fbe7af"/>
<rect x="318.87" y="425.89" width="23.82" height="6.31" fill="#4b92c6"/>
<rect x="342.68" y="425.89" width="23.82" height="6.31" fill="#a6d1e8"/>
</g>
<rect x="213.7" y="217.70" width="7.7" height="6.31" fill="#8cc63f"/>
<rect x="213.7" y="224.01" width="7.7" height="6.31" fill="#c88fca"/>
<rect x="213.7" y="230.32" width="7.7" height="6.31" fill="#8cc63f"/>
<rect x="213.7" y="236.63" width="7.7" height="6.31" fill="#c88fca"/>
<rect x="213.7" y="242.94" width="7.7" height="6.31" fill="#8cc63f"/>
<rect x="213.7" y="249.24" width="7.7" height="6.31" fill="#c88fca"/>
<rect x="213.7" y="255.55" width="7.7" height="12.62" fill="#8cc63f"/>
<rect x="213.7" y="268.17" width="7.7" height="25.24" fill="#c88fca"/>
<rect x="213.7" y="293.41" width="7.7" height="6.31" fill="#8cc63f"/>
<rect x="213.7" y="299.71" width="7.7" height="25.24" fill="#c88fca"/>
<rect x="213.7" y="324.95" width="7.7" height="18.93" fill="#8cc63f"/>
<rect x="213.7" y="343.88" width="7.7" height="6.31" fill="#c88fca"/>
<rect x="213.7" y="350.19" width="7.7" height="6.31" fill="#8cc63f"/>
<rect x="213.7" y="356.49" width="7.7" height="12.62" fill="#c88fca"/>
<rect x="213.7" y="369.11" width="7.7" height="6.31" fill="#8cc63f"/>
<rect x="213.7" y="375.42" width="7.7" height="6.31" fill="#c88fca"/>
<rect x="213.7" y="381.73" width="7.7" height="18.93" fill="#8cc63f"/>
<rect x="213.7" y="400.66" width="7.7" height="6.31" fill="#c88fca"/>
<rect x="213.7" y="406.96" width="7.7" height="25.24" fill="#8cc63f"/>
<line x1="247.42" y1="207.6" x2="247.42" y2="215.5" stroke="#d86a62" stroke-width="0.5"/>
<line x1="271.23" y1="207.6" x2="271.23" y2="215.5" stroke="#d86a62" stroke-width="0.5"/>
<line x1="318.87" y1="207.6" x2="318.87" y2="215.5" stroke="#0f8f8a" stroke-width="0.5"/>
<line x1="342.68" y1="207.6" x2="342.68" y2="215.5" stroke="#0f8f8a" stroke-width="0.5"/>
<text x="369.80" y="213.40" font-size="6.4" fill="#222" stroke="#222" stroke-width="0.12" textLength="31.20" lengthAdjust="spacingAndGlyphs" >Phenotype</text>
<text x="369.70" y="223.55" font-size="6.3" fill="#222" stroke="#222" stroke-width="0.12" >IRF1</text>
<text x="369.70" y="229.86" font-size="6.3" fill="#222" stroke="#222" stroke-width="0.12" >SLAMF8</text>
<text x="369.70" y="236.17" font-size="6.3" fill="#222" stroke="#222" stroke-width="0.12" >LRRK2</text>
<text x="369.70" y="242.48" font-size="6.3" fill="#222" stroke="#222" stroke-width="0.12" >CD38</text>
<text x="369.70" y="248.79" font-size="6.3" fill="#222" stroke="#222" stroke-width="0.12" >SAMD9L</text>
<text x="369.70" y="255.10" font-size="6.3" fill="#222" stroke="#222" stroke-width="0.12" >DOCK10</text>
<text x="369.70" y="261.41" font-size="6.3" fill="#222" stroke="#222" stroke-width="0.12" >BATF2</text>
<text x="369.70" y="267.72" font-size="6.3" fill="#222" stroke="#222" stroke-width="0.12" >CEACAM1</text>
<text x="369.70" y="274.02" font-size="6.3" fill="#222" stroke="#222" stroke-width="0.12" >LYN</text>
<text x="369.70" y="280.33" font-size="6.3" fill="#222" stroke="#222" stroke-width="0.12" >CYLD</text>
<text x="369.70" y="286.64" font-size="6.3" fill="#222" stroke="#222" stroke-width="0.12" >CD40</text>
<text x="369.70" y="292.95" font-size="6.3" fill="#222" stroke="#222" stroke-width="0.12" >TNFAIP3</text>
<text x="369.70" y="299.26" font-size="6.3" fill="#222" stroke="#222" stroke-width="0.12" >CEBPB</text>
<text x="369.70" y="305.57" font-size="6.3" fill="#222" stroke="#222" stroke-width="0.12" >BANK1</text>
<text x="369.70" y="311.88" font-size="6.3" fill="#222" stroke="#222" stroke-width="0.12" >TGFB1</text>
<text x="369.70" y="318.19" font-size="6.3" fill="#222" stroke="#222" stroke-width="0.12" >FAS</text>
<text x="369.70" y="324.50" font-size="6.3" fill="#222" stroke="#222" stroke-width="0.12" >CD74</text>
<text x="369.70" y="330.80" font-size="6.3" fill="#222" stroke="#222" stroke-width="0.12" >GPR183</text>
<text x="369.70" y="337.11" font-size="6.3" fill="#222" stroke="#222" stroke-width="0.12" >S1PR1</text>
<text x="369.70" y="343.42" font-size="6.3" fill="#222" stroke="#222" stroke-width="0.12" >IGF1</text>
<text x="369.70" y="349.73" font-size="6.3" fill="#222" stroke="#222" stroke-width="0.12" >GAPT</text>
<text x="369.70" y="356.04" font-size="6.3" fill="#222" stroke="#222" stroke-width="0.12" >MMP2</text>
<text x="369.70" y="362.35" font-size="6.3" fill="#222" stroke="#222" stroke-width="0.12" >IRS2</text>
<text x="369.70" y="368.66" font-size="6.3" fill="#222" stroke="#222" stroke-width="0.12" >CCR6</text>
<text x="369.70" y="374.97" font-size="6.3" fill="#222" stroke="#222" stroke-width="0.12" >TSPAN15</text>
<text x="369.70" y="381.27" font-size="6.3" fill="#222" stroke="#222" stroke-width="0.12" >ZFP36L2</text>
<text x="369.70" y="387.58" font-size="6.3" fill="#222" stroke="#222" stroke-width="0.12" >CSF3R</text>
<text x="369.70" y="393.89" font-size="6.3" fill="#222" stroke="#222" stroke-width="0.12" >SPNS2</text>
<text x="369.70" y="400.20" font-size="6.3" fill="#222" stroke="#222" stroke-width="0.12" >ADGRG3</text>
<text x="369.70" y="406.51" font-size="6.3" fill="#222" stroke="#222" stroke-width="0.12" >HMGB3</text>
<text x="369.70" y="412.82" font-size="6.3" fill="#222" stroke="#222" stroke-width="0.12" >SELL</text>
<text x="369.70" y="419.13" font-size="6.3" fill="#222" stroke="#222" stroke-width="0.12" >SIGLEC6</text>
<text x="369.70" y="425.44" font-size="6.3" fill="#222" stroke="#222" stroke-width="0.12" >ETS1</text>
<text x="369.70" y="431.75" font-size="6.3" fill="#222" stroke="#222" stroke-width="0.12" >TCF3</text>
<defs><linearGradient id="cbD" x1="0" y1="1" x2="0" y2="0"><stop offset="-0.003" stop-color="#2a72b0"/><stop offset="0.162" stop-color="#5ea4d2"/><stop offset="0.312" stop-color="#b8dcee"/><stop offset="0.462" stop-color="#f7f7e3"/><stop offset="0.613" stop-color="#fedc8c"/><stop offset="0.763" stop-color="#fb9f5a"/><stop offset="0.913" stop-color="#f0623e"/><stop offset="1.003" stop-color="#d73027"/></linearGradient></defs>
<rect x="407.6" y="208.0" width="7.4" height="100.6" fill="url(#cbD)"/>
<text x="418.00" y="218.90" font-size="6.3" fill="#222" stroke="#222" stroke-width="0.12" >1.5</text>
<text x="418.00" y="234.00" font-size="6.3" fill="#222" stroke="#222" stroke-width="0.12" >1</text>
<text x="418.00" y="249.10" font-size="6.3" fill="#222" stroke="#222" stroke-width="0.12" >0.5</text>
<text x="418.00" y="264.20" font-size="6.3" fill="#222" stroke="#222" stroke-width="0.12" >0</text>
<text x="418.00" y="279.30" font-size="6.3" fill="#222" stroke="#222" stroke-width="0.12" >−0.5</text>
<text x="418.00" y="294.40" font-size="6.3" fill="#222" stroke="#222" stroke-width="0.12" >−1</text>
<text x="418.00" y="309.50" font-size="6.3" fill="#222" stroke="#222" stroke-width="0.12" >−1.5</text>
<text x="436.10" y="210.70" font-size="6.0" fill="#222" stroke="#222" stroke-width="0.12" textLength="28.50" lengthAdjust="spacingAndGlyphs" >Phenotype</text>
<rect x="436.1" y="215.9" width="11.7" height="11.4" fill="#f3837a"/>
<rect x="436.1" y="227.3" width="11.7" height="11.6" fill="#14a8a2"/>
<text x="451.10" y="223.40" font-size="6.0" fill="#222" stroke="#222" stroke-width="0.12" textLength="19.90" lengthAdjust="spacingAndGlyphs" >Control</text>
<text x="451.10" y="234.90" font-size="6.0" fill="#222" stroke="#222" stroke-width="0.12" textLength="35.10" lengthAdjust="spacingAndGlyphs" >IFN-γ treated</text>
<text x="436.10" y="252.20" font-size="6.0" fill="#222" stroke="#222" stroke-width="0.12" textLength="16.20" lengthAdjust="spacingAndGlyphs" >B–cell</text>
<rect x="436.1" y="257.1" width="11.7" height="11.3" fill="#c88fca"/>
<rect x="436.1" y="268.4" width="11.7" height="11.6" fill="#8cc63f"/>
<text x="451.10" y="264.60" font-size="6.0" fill="#222" stroke="#222" stroke-width="0.12" textLength="26.50" lengthAdjust="spacingAndGlyphs" >Activation</text>
<text x="451.10" y="276.20" font-size="6.0" fill="#222" stroke="#222" stroke-width="0.12" textLength="49.90" lengthAdjust="spacingAndGlyphs" >Early development</text>
<text x="189.00" y="460.20" font-size="8.2" fill="#222" stroke="#222" stroke-width="0.12" textLength="37.60" lengthAdjust="spacingAndGlyphs" >Wiki ORA</text>
<text x="177.70" y="477.90" font-size="6.8" fill="#222" stroke="#222" stroke-width="0.12" text-anchor="end" textLength="102.50" lengthAdjust="spacingAndGlyphs" >VEGFA–VEGFR2 signaling pathway</text>
<line x1="182.7" y1="475.60" x2="185.3" y2="475.60" stroke="#222" stroke-width="0.8"/>
<text x="177.70" y="490.17" font-size="6.8" fill="#222" stroke="#222" stroke-width="0.12" text-anchor="end" textLength="52.30" lengthAdjust="spacingAndGlyphs" >Allograft rejection</text>
<line x1="182.7" y1="487.87" x2="185.3" y2="487.87" stroke="#222" stroke-width="0.8"/>
<text x="177.70" y="502.44" font-size="6.8" fill="#222" stroke="#222" stroke-width="0.12" text-anchor="end" textLength="81.70" lengthAdjust="spacingAndGlyphs" >Ebola virus pathway on host</text>
<line x1="182.7" y1="500.14" x2="185.3" y2="500.14" stroke="#222" stroke-width="0.8"/>
<text x="177.70" y="514.71" font-size="6.8" fill="#222" stroke="#222" stroke-width="0.12" text-anchor="end" textLength="96.70" lengthAdjust="spacingAndGlyphs" >Type II interferon signaling (IFNG)</text>
<line x1="182.7" y1="512.41" x2="185.3" y2="512.41" stroke="#222" stroke-width="0.8"/>
<text x="177.70" y="526.98" font-size="6.8" fill="#222" stroke="#222" stroke-width="0.12" text-anchor="end" textLength="80.20" lengthAdjust="spacingAndGlyphs" >Human complement system</text>
<line x1="182.7" y1="524.68" x2="185.3" y2="524.68" stroke="#222" stroke-width="0.8"/>
<text x="177.70" y="539.25" font-size="6.8" fill="#222" stroke="#222" stroke-width="0.12" text-anchor="end" textLength="71.70" lengthAdjust="spacingAndGlyphs" >Proteasome degradation</text>
<line x1="182.7" y1="536.95" x2="185.3" y2="536.95" stroke="#222" stroke-width="0.8"/>
<text x="177.70" y="551.52" font-size="6.8" fill="#222" stroke="#222" stroke-width="0.12" text-anchor="end" textLength="28.70" lengthAdjust="spacingAndGlyphs" >Apoptosis</text>
<line x1="182.7" y1="549.22" x2="185.3" y2="549.22" stroke="#222" stroke-width="0.8"/>
<text x="177.70" y="563.79" font-size="6.8" fill="#222" stroke="#222" stroke-width="0.12" text-anchor="end" textLength="103.70" lengthAdjust="spacingAndGlyphs" >Apoptosis modulation and signaling</text>
<line x1="182.7" y1="561.49" x2="185.3" y2="561.49" stroke="#222" stroke-width="0.8"/>
<text x="177.70" y="576.06" font-size="6.8" fill="#222" stroke="#222" stroke-width="0.12" text-anchor="end" textLength="129.45" lengthAdjust="spacingAndGlyphs" >The human immune response to tuberculosis</text>
<line x1="182.7" y1="573.76" x2="185.3" y2="573.76" stroke="#222" stroke-width="0.8"/>
<text x="177.70" y="588.33" font-size="6.8" fill="#222" stroke="#222" stroke-width="0.12" text-anchor="end" textLength="170.95" lengthAdjust="spacingAndGlyphs" >Photodynamic therapy–induced unfolded protein response</text>
<line x1="182.7" y1="586.03" x2="185.3" y2="586.03" stroke="#222" stroke-width="0.8"/>
<text x="177.70" y="600.60" font-size="6.8" fill="#222" stroke="#222" stroke-width="0.12" text-anchor="end" textLength="68.95" lengthAdjust="spacingAndGlyphs" >TYROBP causal network</text>
<line x1="182.7" y1="598.30" x2="185.3" y2="598.30" stroke="#222" stroke-width="0.8"/>
<text x="177.70" y="612.87" font-size="6.8" fill="#222" stroke="#222" stroke-width="0.12" text-anchor="end" textLength="123.20" lengthAdjust="spacingAndGlyphs" >Microglia pathogen phagocytosis pathway</text>
<line x1="182.7" y1="610.57" x2="185.3" y2="610.57" stroke="#222" stroke-width="0.8"/>
<line x1="185.3" y1="469" x2="185.3" y2="617.4" stroke="#222" stroke-width="1"/>
<line x1="185.3" y1="617.4" x2="230.6" y2="617.4" stroke="#222" stroke-width="1"/>
<line x1="185.50" y1="617.4" x2="185.50" y2="620" stroke="#222" stroke-width="0.8"/>
<text transform="translate(189.10,627.6) rotate(-45)" font-size="7.0" fill="#333" stroke="#333" stroke-width="0.12" text-anchor="end" textLength="13.4" lengthAdjust="spacingAndGlyphs">0.02</text>
<line x1="195.03" y1="617.4" x2="195.03" y2="620" stroke="#222" stroke-width="0.8"/>
<text transform="translate(198.62,627.6) rotate(-45)" font-size="7.0" fill="#333" stroke="#333" stroke-width="0.12" text-anchor="end" textLength="13.4" lengthAdjust="spacingAndGlyphs">0.04</text>
<line x1="204.55" y1="617.4" x2="204.55" y2="620" stroke="#222" stroke-width="0.8"/>
<text transform="translate(208.15,627.6) rotate(-45)" font-size="7.0" fill="#333" stroke="#333" stroke-width="0.12" text-anchor="end" textLength="13.4" lengthAdjust="spacingAndGlyphs">0.06</text>
<line x1="214.07" y1="617.4" x2="214.07" y2="620" stroke="#222" stroke-width="0.8"/>
<text transform="translate(217.67,627.6) rotate(-45)" font-size="7.0" fill="#333" stroke="#333" stroke-width="0.12" text-anchor="end" textLength="13.4" lengthAdjust="spacingAndGlyphs">0.08</text>
<line x1="223.60" y1="617.4" x2="223.60" y2="620" stroke="#222" stroke-width="0.8"/>
<text transform="translate(227.20,627.6) rotate(-45)" font-size="7.0" fill="#333" stroke="#333" stroke-width="0.12" text-anchor="end" textLength="13.4" lengthAdjust="spacingAndGlyphs">0.10</text>
<text x="192.40" y="648.50" font-size="8.2" fill="#333" stroke="#333" stroke-width="0.12" textLength="31.60" lengthAdjust="spacingAndGlyphs" >GeneRatio</text>
<circle cx="228.6" cy="475.60" r="3.20" fill="#e4162a" stroke="#5a0a10" stroke-opacity="0.6" stroke-width="0.6"/>
<circle cx="205.4" cy="487.87" r="2.40" fill="#e01622" stroke="#5a0a10" stroke-opacity="0.6" stroke-width="0.6"/>
<circle cx="200.9" cy="500.14" r="2.30" fill="#e01c1c" stroke="#5a0a10" stroke-opacity="0.6" stroke-width="0.6"/>
<circle cx="197.9" cy="512.41" r="2.15" fill="#e03216" stroke="#5a0a10" stroke-opacity="0.6" stroke-width="0.6"/>
<circle cx="196.6" cy="524.68" r="2.05" fill="#e03a1e" stroke="#5a0a10" stroke-opacity="0.6" stroke-width="0.6"/>
<circle cx="193.7" cy="536.95" r="1.95" fill="#e04420" stroke="#5a0a10" stroke-opacity="0.6" stroke-width="0.6"/>
<circle cx="192.5" cy="549.22" r="1.85" fill="#c83184" stroke="#5a0a10" stroke-opacity="0.6" stroke-width="0.6"/>
<circle cx="192.5" cy="561.49" r="1.85" fill="#2e2a86" stroke="#5a0a10" stroke-opacity="0.6" stroke-width="0.6"/>
<circle cx="191.3" cy="573.76" r="1.85" fill="#e04020" stroke="#5a0a10" stroke-opacity="0.6" stroke-width="0.6"/>
<circle cx="191.3" cy="586.03" r="1.85" fill="#e0401e" stroke="#5a0a10" stroke-opacity="0.6" stroke-width="0.6"/>
<circle cx="191.3" cy="598.30" r="1.85" fill="#d8203e" stroke="#5a0a10" stroke-opacity="0.6" stroke-width="0.6"/>
<circle cx="187.0" cy="610.57" r="1.10" fill="#d82040" stroke="#5a0a10" stroke-opacity="0.6" stroke-width="0.6"/>
<text x="239.2" y="505.9" font-size="6.3" fill="#222" stroke="#222" stroke-width="0.12"><tspan font-style="italic">P</tspan>.adjust</text>
<defs><linearGradient id="cbE" x1="0" y1="0" x2="0" y2="1"><stop offset="0" stop-color="#e8132a"/><stop offset="0.45" stop-color="#d4107a"/><stop offset="0.75" stop-color="#8a2a9a"/><stop offset="1" stop-color="#3a2b8c"/></linearGradient></defs>
<rect x="239.2" y="510.4" width="6.8" height="34.4" fill="url(#cbE)"/>
<text x="249.20" y="519.70" font-size="6.0" fill="#333" stroke="#333" stroke-width="0.12" >0.01</text>
<text x="249.20" y="527.50" font-size="6.0" fill="#333" stroke="#333" stroke-width="0.12" >0.02</text>
<text x="249.20" y="535.20" font-size="6.0" fill="#333" stroke="#333" stroke-width="0.12" >0.03</text>
<text x="249.20" y="542.60" font-size="6.0" fill="#333" stroke="#333" stroke-width="0.12" >0.04</text>
<text x="240.40" y="556.40" font-size="6.3" fill="#222" stroke="#222" stroke-width="0.12" >Count</text>
<circle cx="243" cy="563.5" r="1.7" fill="#111"/>
<text x="249.70" y="565.60" font-size="6.0" fill="#333" stroke="#333" stroke-width="0.12" >10</text>
<circle cx="243" cy="571.5" r="2.5" fill="#111"/>
<text x="249.70" y="573.60" font-size="6.0" fill="#333" stroke="#333" stroke-width="0.12" >20</text>
<circle cx="243" cy="580.2" r="3.2" fill="#111"/>
<text x="249.70" y="582.30" font-size="6.0" fill="#333" stroke="#333" stroke-width="0.12" >30</text>
<line x1="308.8" y1="468.2" x2="308.8" y2="545" stroke="#222" stroke-width="1"/>
<line x1="306.40000000000003" y1="482.40" x2="308.8" y2="482.40" stroke="#222" stroke-width="0.8"/>
<text x="303.60" y="484.70" font-size="6.7" fill="#333" stroke="#333" stroke-width="0.12" text-anchor="end" textLength="9.60" lengthAdjust="spacingAndGlyphs" >0.6</text>
<line x1="306.40000000000003" y1="502.80" x2="308.8" y2="502.80" stroke="#222" stroke-width="0.8"/>
<text x="303.60" y="505.10" font-size="6.7" fill="#333" stroke="#333" stroke-width="0.12" text-anchor="end" textLength="9.60" lengthAdjust="spacingAndGlyphs" >0.4</text>
<line x1="306.40000000000003" y1="523.20" x2="308.8" y2="523.20" stroke="#222" stroke-width="0.8"/>
<text x="303.60" y="525.50" font-size="6.7" fill="#333" stroke="#333" stroke-width="0.12" text-anchor="end" textLength="9.60" lengthAdjust="spacingAndGlyphs" >0.2</text>
<line x1="306.40000000000003" y1="543.60" x2="308.8" y2="543.60" stroke="#222" stroke-width="0.8"/>
<text x="303.60" y="545.90" font-size="6.7" fill="#333" stroke="#333" stroke-width="0.12" text-anchor="end" textLength="9.60" lengthAdjust="spacingAndGlyphs" >0.0</text>
<line x1="308.8" y1="577" x2="308.8" y2="618.1" stroke="#222" stroke-width="1"/>
<line x1="308.8" y1="617.6" x2="513.3" y2="617.6" stroke="#222" stroke-width="1"/>
<line x1="306.40000000000003" y1="577.90" x2="308.8" y2="577.90" stroke="#222" stroke-width="0.8"/>
<text x="303.60" y="580.20" font-size="6.7" fill="#333" stroke="#333" stroke-width="0.12" text-anchor="end" textLength="9.70" lengthAdjust="spacingAndGlyphs" >7.5</text>
<line x1="306.40000000000003" y1="586.80" x2="308.8" y2="586.80" stroke="#222" stroke-width="0.8"/>
<text x="303.60" y="589.10" font-size="6.7" fill="#333" stroke="#333" stroke-width="0.12" text-anchor="end" textLength="9.70" lengthAdjust="spacingAndGlyphs" >5.0</text>
<line x1="306.40000000000003" y1="595.70" x2="308.8" y2="595.70" stroke="#222" stroke-width="0.8"/>
<text x="303.60" y="598.00" font-size="6.7" fill="#333" stroke="#333" stroke-width="0.12" text-anchor="end" textLength="9.70" lengthAdjust="spacingAndGlyphs" >2.5</text>
<line x1="306.40000000000003" y1="604.60" x2="308.8" y2="604.60" stroke="#222" stroke-width="0.8"/>
<text x="303.60" y="606.90" font-size="6.7" fill="#333" stroke="#333" stroke-width="0.12" text-anchor="end" textLength="9.70" lengthAdjust="spacingAndGlyphs" >0.0</text>
<line x1="306.40000000000003" y1="613.50" x2="308.8" y2="613.50" stroke="#222" stroke-width="0.8"/>
<text x="303.60" y="615.80" font-size="6.7" fill="#333" stroke="#333" stroke-width="0.12" text-anchor="end" textLength="12.70" lengthAdjust="spacingAndGlyphs" >−2.5</text>
<line x1="366.75" y1="617.6" x2="366.75" y2="620" stroke="#222" stroke-width="0.8"/>
<text x="366.75" y="629.20" font-size="6.8" fill="#333" stroke="#333" stroke-width="0.12" text-anchor="middle" textLength="10.20" lengthAdjust="spacingAndGlyphs" >200</text>
<line x1="425.25" y1="617.6" x2="425.25" y2="620" stroke="#222" stroke-width="0.8"/>
<text x="425.25" y="629.20" font-size="6.8" fill="#333" stroke="#333" stroke-width="0.12" text-anchor="middle" textLength="10.20" lengthAdjust="spacingAndGlyphs" >400</text>
<line x1="483.75" y1="617.6" x2="483.75" y2="620" stroke="#222" stroke-width="0.8"/>
<text x="483.75" y="629.20" font-size="6.8" fill="#333" stroke="#333" stroke-width="0.12" text-anchor="middle" textLength="10.20" lengthAdjust="spacingAndGlyphs" >600</text>
<text x="375.10" y="641.50" font-size="8.8" fill="#333" stroke="#333" stroke-width="0.12" textLength="71.70" lengthAdjust="spacingAndGlyphs" >Rank in ordered dataset</text>
<text transform="translate(285.3,557.5) rotate(-90)" font-size="9" fill="#333" stroke="#333" stroke-width="0.12" textLength="89.0" lengthAdjust="spacingAndGlyphs">Running enrichment score</text>
<text transform="translate(285.3,625.6) rotate(-90)" font-size="9" fill="#333" stroke="#333" stroke-width="0.12" textLength="59.2" lengthAdjust="spacingAndGlyphs">Ranked list metric</text>
<path d="M308.8,604.6 L308.8,592.3 L312.0,593.2 L315.0,593.9 L322.0,595.2 L330.0,596.2 L340.0,597.7 L350.0,598.9 L360.0,600.0 L370.0,600.8 L380.0,601.4 L400.0,602.5 L420.0,603.3 L440.0,603.7 L457.0,604.1 L458.5,604.7 L470.0,605.8 L490.0,607.1 L500.0,608.2 L507.0,609.6 L510.0,611.4 L512.5,614.2 L512.5,604.6 Z" fill="#c2c2c2"/>
<line x1="308.8" y1="604.60" x2="513" y2="604.60" stroke="#b0b0b0" stroke-width="0.5"/>
<line x1="311.8" y1="548.8" x2="311.8" y2="558.5" stroke="#c0283c" stroke-width="1.2"/>
<line x1="319.2" y1="548.8" x2="319.2" y2="558.5" stroke="#c0283c" stroke-width="1.2"/>
<line x1="323.1" y1="548.8" x2="323.1" y2="558.5" stroke="#c0283c" stroke-width="1.2"/>
<line x1="324.2" y1="548.8" x2="324.2" y2="558.5" stroke="#c0283c" stroke-width="1.2"/>
<line x1="327.7" y1="548.8" x2="327.7" y2="558.5" stroke="#c0283c" stroke-width="1.2"/>
<line x1="330.8" y1="548.8" x2="330.8" y2="558.5" stroke="#c0283c" stroke-width="1.2"/>
<line x1="335.4" y1="548.8" x2="335.4" y2="558.5" stroke="#c0283c" stroke-width="1.2"/>
<line x1="344.9" y1="548.8" x2="344.9" y2="558.5" stroke="#c0283c" stroke-width="1.2"/>
<line x1="350.0" y1="548.8" x2="350.0" y2="558.5" stroke="#c0283c" stroke-width="1.2"/>
<line x1="360.0" y1="548.8" x2="360.0" y2="558.5" stroke="#c0283c" stroke-width="1.2"/>
<line x1="392.1" y1="548.8" x2="392.1" y2="558.5" stroke="#c0283c" stroke-width="1.2"/>
<line x1="404.8" y1="548.8" x2="404.8" y2="558.5" stroke="#c0283c" stroke-width="1.2"/>
<line x1="409.1" y1="548.8" x2="409.1" y2="558.5" stroke="#c0283c" stroke-width="1.2"/>
<line x1="412.3" y1="548.8" x2="412.3" y2="558.5" stroke="#c0283c" stroke-width="1.2"/>
<line x1="420.4" y1="548.8" x2="420.4" y2="558.5" stroke="#c0283c" stroke-width="1.2"/>
<line x1="440.6" y1="548.8" x2="440.6" y2="558.5" stroke="#c0283c" stroke-width="1.2"/>
<line x1="311.3" y1="559.2" x2="311.3" y2="567.7" stroke="#4aaede" stroke-width="1.2"/>
<line x1="319.7" y1="559.2" x2="319.7" y2="567.7" stroke="#4aaede" stroke-width="1.2"/>
<line x1="320.8" y1="559.2" x2="320.8" y2="567.7" stroke="#4aaede" stroke-width="1.2"/>
<line x1="323.8" y1="559.2" x2="323.8" y2="567.7" stroke="#4aaede" stroke-width="1.2"/>
<line x1="327.4" y1="559.2" x2="327.4" y2="567.7" stroke="#4aaede" stroke-width="1.2"/>
<line x1="337.8" y1="559.2" x2="337.8" y2="567.7" stroke="#4aaede" stroke-width="1.2"/>
<line x1="346.0" y1="559.2" x2="346.0" y2="567.7" stroke="#4aaede" stroke-width="1.2"/>
<line x1="350.6" y1="559.2" x2="350.6" y2="567.7" stroke="#4aaede" stroke-width="1.2"/>
<line x1="357.3" y1="559.2" x2="357.3" y2="567.7" stroke="#4aaede" stroke-width="1.2"/>
<line x1="363.1" y1="559.2" x2="363.1" y2="567.7" stroke="#4aaede" stroke-width="1.2"/>
<line x1="373.8" y1="559.2" x2="373.8" y2="567.7" stroke="#4aaede" stroke-width="1.2"/>
<line x1="389.4" y1="559.2" x2="389.4" y2="567.7" stroke="#4aaede" stroke-width="1.2"/>
<line x1="395.6" y1="559.2" x2="395.6" y2="567.7" stroke="#4aaede" stroke-width="1.2"/>
<line x1="311.8" y1="568.2" x2="311.8" y2="577" stroke="#3f9f3f" stroke-width="1.2"/>
<line x1="318.8" y1="568.2" x2="318.8" y2="577" stroke="#3f9f3f" stroke-width="1.2"/>
<line x1="320.8" y1="568.2" x2="320.8" y2="577" stroke="#3f9f3f" stroke-width="1.2"/>
<line x1="327.4" y1="568.2" x2="327.4" y2="577" stroke="#3f9f3f" stroke-width="1.2"/>
<line x1="334.2" y1="568.2" x2="334.2" y2="577" stroke="#3f9f3f" stroke-width="1.2"/>
<line x1="350.0" y1="568.2" x2="350.0" y2="577" stroke="#3f9f3f" stroke-width="1.2"/>
<line x1="356.3" y1="568.2" x2="356.3" y2="577" stroke="#3f9f3f" stroke-width="1.2"/>
<line x1="356.9" y1="568.2" x2="356.9" y2="577" stroke="#3f9f3f" stroke-width="1.2"/>
<line x1="362.9" y1="568.2" x2="362.9" y2="577" stroke="#3f9f3f" stroke-width="1.2"/>
<line x1="389.4" y1="568.2" x2="389.4" y2="577" stroke="#3f9f3f" stroke-width="1.2"/>
<polyline points="308.8,543.4 311.3,543.4 311.3,534.6 318.5,538.6 318.5,530.7 321.4,532 321.4,524.6 323.8,525.5 323.8,518 325.6,519 325.6,511.5 327.4,512.5 327.4,504.5 329.1,505.3 329.1,499 334.5,501.5 334.5,496.5 344.2,499.6 344.6,489.6 345.8,490 345.8,485.8 349.6,487.3 350.4,483.5 358.8,487.3 359.2,482.3 360.4,482.8 360.4,480.4 391.6,495.1 391.8,493.6 403.7,499.4 403.9,497.7 407.8,499.4 408.9,496.5 410,497 410,494.8 426,499.2 440,506.3" fill="none" stroke="#b8202e" stroke-width="0.9" stroke-linejoin="miter"/>
<polyline points="308.8,543.4 311.3,543.4 311.3,529.3 318.5,531.7 318.5,518.6 320.2,519.3 320.2,506.2 327.4,508.6 327.4,497.9 334.5,500.6 334.5,491.4 349.2,498.5 349.6,491.5 355.4,494.2 355.8,487.3 358.1,488.3 358.1,478.8 361.9,480.4 362.7,472.3 389.3,482.7 389.3,480.4 395.6,483.6 400,485.85" fill="none" stroke="#3a9a3a" stroke-width="0.9" stroke-linejoin="miter"/>
<polyline points="308.8,543.4 309.2,530 310.7,514.5 311.3,514 311.3,505.6 317.9,508.2 317.9,502 320,503.5 320,497.3 321.2,497.9 321.2,493.7 323.6,494.9 323.6,488.4 325,489.1 325,486.6 327.4,487.8 327.4,481.9 337.4,487.2 337.7,482.7 345.4,485.4 345.6,481.5 350.6,483.2 350.8,479.6 357.3,481.5 357.5,478.8 361.9,480.0 362.3,477.7 372.7,483.1 373.1,480.4 389.3,487.3 389.5,484.8 395.6,487.3 395.8,483.6 512.5,543.3" fill="none" stroke="#49aee0" stroke-width="0.9" stroke-linejoin="miter"/>
<line x1="411" y1="455.8" x2="419.8" y2="455.8" stroke="#b8202e" stroke-width="1"/>
<line x1="411" y1="464.7" x2="419.8" y2="464.7" stroke="#3a9a3a" stroke-width="1"/>
<line x1="411" y1="481.9" x2="419.8" y2="481.9" stroke="#49aee0" stroke-width="1"/>
<text x="422.50" y="458.00" font-size="6.0" fill="#222" stroke="#222" stroke-width="0.12" textLength="48.80" lengthAdjust="spacingAndGlyphs" >Allograft rejection</text>
<text x="422.50" y="466.90" font-size="6.0" fill="#222" stroke="#222" stroke-width="0.12" textLength="79.20" lengthAdjust="spacingAndGlyphs" >The human immune response</text>
<text x="422.50" y="474.10" font-size="6.0" fill="#222" stroke="#222" stroke-width="0.12" textLength="40.60" lengthAdjust="spacingAndGlyphs" >to tuberculosis</text>
<text x="422.50" y="484.10" font-size="6.0" fill="#222" stroke="#222" stroke-width="0.12" textLength="90.50" lengthAdjust="spacingAndGlyphs" >Type II interferon signaling (IFNG)</text>
<rect x="0.5" y="0.5" width="519" height="657" fill="none" stroke="#444" stroke-width="1"/>
</svg></body></html>
